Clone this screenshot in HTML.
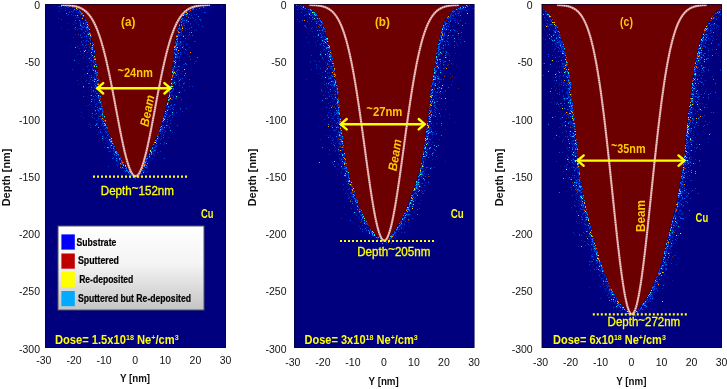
<!DOCTYPE html>
<html><head><meta charset="utf-8"><title>Sputtering simulation</title>
<style>html,body{margin:0;padding:0;background:#fff}svg{display:block}</style></head>
<body>
<svg width="727" height="389" viewBox="0 0 727 389">
<rect width="727" height="389" fill="#fff"/>
<defs><filter id="nb" x="-5%" y="-5%" width="110%" height="110%"><feGaussianBlur stdDeviation="0.35"/></filter><filter id="hz" x="-20%" y="-20%" width="140%" height="140%"><feGaussianBlur stdDeviation="3.5"/></filter></defs>
<g id="panel-a">
<clipPath id="cpa"><rect x="45.0" y="4.0" width="181.0" height="344.0"/></clipPath>
<rect x="45.0" y="4.0" width="181.0" height="344.0" fill="#00007f"/>
<path d="M62.0 4.0 L62.0 4.5 L66.5 5.5 L71.2 6.5 L75.9 7.5 L77.6 8.5 L78.6 9.5 L79.6 10.5 L80.6 11.5 L81.6 12.5 L82.6 13.5 L83.3 14.5 L83.8 15.5 L84.3 16.5 L84.8 17.5 L85.3 18.5 L85.8 19.5 L86.3 20.5 L86.8 21.5 L87.1 22.5 L87.4 23.5 L87.8 24.5 L88.1 25.5 L88.5 26.5 L88.8 27.5 L89.1 28.5 L89.5 29.5 L89.8 30.5 L90.0 31.5 L90.3 32.5 L90.5 33.5 L90.7 34.5 L90.9 35.5 L91.1 36.5 L91.3 37.5 L91.5 38.5 L91.8 39.5 L92.0 40.5 L92.2 41.5 L92.4 42.5 L92.6 43.5 L92.8 44.5 L93.0 45.5 L93.2 46.5 L93.5 47.5 L93.7 48.5 L93.9 49.5 L94.1 50.5 L94.3 51.5 L94.5 52.5 L94.6 53.5 L94.7 54.5 L94.8 55.5 L94.9 56.5 L95.0 57.5 L95.1 58.5 L95.2 59.5 L95.4 60.5 L95.5 61.5 L95.6 62.5 L95.8 63.5 L95.9 64.5 L96.0 65.5 L96.1 66.5 L96.3 67.5 L96.4 68.5 L96.5 69.5 L96.7 70.5 L96.8 71.5 L96.9 72.5 L97.1 73.5 L97.2 74.5 L97.3 75.5 L97.4 76.5 L97.6 77.5 L97.7 78.5 L97.8 79.5 L98.0 80.5 L98.1 81.5 L98.2 82.5 L98.3 83.5 L98.4 84.5 L98.5 85.5 L98.7 86.5 L98.8 87.5 L98.9 88.5 L99.0 89.5 L99.1 90.5 L99.2 91.5 L99.4 92.5 L99.5 93.5 L99.6 94.5 L99.7 95.5 L99.9 96.5 L100.1 97.5 L100.3 98.5 L100.5 99.5 L100.7 100.5 L100.9 101.5 L101.1 102.5 L101.3 103.5 L101.5 104.5 L101.7 105.5 L101.9 106.5 L102.1 107.5 L102.3 108.5 L102.5 109.5 L102.7 110.5 L102.9 111.5 L103.1 112.5 L103.3 113.5 L103.5 114.5 L103.7 115.5 L103.9 116.5 L104.1 117.5 L104.3 118.5 L104.6 119.5 L104.9 120.5 L105.2 121.5 L105.5 122.5 L105.8 123.5 L106.1 124.5 L106.3 125.5 L106.6 126.5 L106.9 127.5 L107.2 128.5 L107.5 129.5 L107.8 130.5 L108.1 131.5 L108.5 132.5 L108.9 133.5 L109.3 134.5 L109.8 135.5 L110.2 136.5 L110.6 137.5 L111.0 138.5 L111.4 139.5 L111.8 140.5 L112.2 141.5 L112.6 142.5 L113.0 143.5 L113.4 144.5 L113.9 145.5 L114.4 146.5 L114.9 147.5 L115.4 148.5 L115.9 149.5 L116.4 150.5 L116.9 151.5 L117.4 152.5 L117.9 153.5 L118.4 154.5 L118.9 155.5 L119.4 156.5 L120.0 157.5 L120.7 158.5 L121.3 159.5 L122.0 160.5 L122.7 161.5 L123.3 162.5 L124.0 163.5 L124.6 164.5 L125.3 165.5 L126.0 166.5 L126.6 167.5 L127.3 168.5 L128.1 169.5 L128.9 170.5 L129.8 171.5 L130.6 172.5 L131.5 173.5 L133.1 174.5 L134.7 175.5 L135.5 175.8 L135.5 175.5 L136.5 174.5 L137.5 173.5 L138.1 172.5 L138.7 171.5 L139.2 170.5 L139.8 169.5 L140.4 168.5 L141.0 167.5 L141.5 166.5 L142.1 165.5 L142.6 164.5 L143.1 163.5 L143.7 162.5 L144.2 161.5 L144.8 160.5 L145.3 159.5 L145.9 158.5 L146.4 157.5 L147.0 156.5 L147.5 155.5 L148.0 154.5 L148.5 153.5 L149.0 152.5 L149.5 151.5 L150.0 150.5 L150.5 149.5 L151.0 148.5 L151.5 147.5 L152.0 146.5 L152.5 145.5 L153.0 144.5 L153.5 143.5 L153.9 142.5 L154.3 141.5 L154.8 140.5 L155.2 139.5 L155.7 138.5 L156.1 137.5 L156.5 136.5 L157.0 135.5 L157.4 134.5 L157.9 133.5 L158.3 132.5 L158.8 131.5 L159.1 130.5 L159.4 129.5 L159.7 128.5 L160.0 127.5 L160.4 126.5 L160.7 125.5 L161.0 124.5 L161.3 123.5 L161.7 122.5 L162.0 121.5 L162.3 120.5 L162.6 119.5 L162.9 118.5 L163.2 117.5 L163.4 116.5 L163.6 115.5 L163.9 114.5 L164.1 113.5 L164.4 112.5 L164.6 111.5 L164.8 110.5 L165.1 109.5 L165.3 108.5 L165.6 107.5 L165.8 106.5 L166.0 105.5 L166.3 104.5 L166.5 103.5 L166.8 102.5 L167.0 101.5 L167.3 100.5 L167.5 99.5 L167.7 98.5 L168.0 97.5 L168.2 96.5 L168.5 95.5 L168.7 94.5 L168.8 93.5 L169.0 92.5 L169.2 91.5 L169.3 90.5 L169.5 89.5 L169.7 88.5 L169.8 87.5 L170.0 86.5 L170.2 85.5 L170.3 84.5 L170.5 83.5 L170.7 82.5 L170.8 81.5 L171.0 80.5 L171.1 79.5 L171.2 78.5 L171.3 77.5 L171.4 76.5 L171.5 75.5 L171.6 74.5 L171.7 73.5 L171.8 72.5 L171.9 71.5 L172.0 70.5 L172.1 69.5 L172.2 68.5 L172.3 67.5 L172.4 66.5 L172.5 65.5 L172.6 64.5 L172.7 63.5 L172.8 62.5 L172.9 61.5 L173.0 60.5 L173.1 59.5 L173.2 58.5 L173.3 57.5 L173.4 56.5 L173.5 55.5 L173.6 54.5 L173.7 53.5 L173.8 52.5 L173.9 51.5 L173.9 50.5 L174.0 49.5 L174.1 48.5 L174.2 47.5 L174.2 46.5 L174.3 45.5 L174.4 44.5 L174.5 43.5 L174.6 42.5 L174.8 41.5 L175.0 40.5 L175.2 39.5 L175.3 38.5 L175.5 37.5 L175.7 36.5 L175.9 35.5 L176.1 34.5 L176.3 33.5 L176.5 32.5 L176.7 31.5 L176.9 30.5 L177.3 29.5 L177.6 28.5 L177.9 27.5 L178.3 26.5 L178.6 25.5 L179.0 24.5 L179.3 23.5 L179.7 22.5 L180.0 21.5 L180.5 20.5 L181.0 19.5 L181.5 18.5 L182.0 17.5 L182.5 16.5 L183.0 15.5 L183.5 14.5 L184.3 13.5 L185.4 12.5 L186.6 11.5 L187.7 10.5 L188.9 9.5 L190.0 8.5 L193.5 7.5 L196.9 6.5 L200.4 5.5 L206.0 4.5 L206.0 4.0Z" fill="none" stroke="#0030e0" stroke-opacity="0.14" stroke-width="12" filter="url(#hz)" clip-path="url(#cpa)"/>
<path d="M62.0 4.0 L62.0 4.5 L66.5 5.5 L71.2 6.5 L75.9 7.5 L77.6 8.5 L78.6 9.5 L79.6 10.5 L80.6 11.5 L81.6 12.5 L82.6 13.5 L83.3 14.5 L83.8 15.5 L84.3 16.5 L84.8 17.5 L85.3 18.5 L85.8 19.5 L86.3 20.5 L86.8 21.5 L87.1 22.5 L87.4 23.5 L87.8 24.5 L88.1 25.5 L88.5 26.5 L88.8 27.5 L89.1 28.5 L89.5 29.5 L89.8 30.5 L90.0 31.5 L90.3 32.5 L90.5 33.5 L90.7 34.5 L90.9 35.5 L91.1 36.5 L91.3 37.5 L91.5 38.5 L91.8 39.5 L92.0 40.5 L92.2 41.5 L92.4 42.5 L92.6 43.5 L92.8 44.5 L93.0 45.5 L93.2 46.5 L93.5 47.5 L93.7 48.5 L93.9 49.5 L94.1 50.5 L94.3 51.5 L94.5 52.5 L94.6 53.5 L94.7 54.5 L94.8 55.5 L94.9 56.5 L95.0 57.5 L95.1 58.5 L95.2 59.5 L95.4 60.5 L95.5 61.5 L95.6 62.5 L95.8 63.5 L95.9 64.5 L96.0 65.5 L96.1 66.5 L96.3 67.5 L96.4 68.5 L96.5 69.5 L96.7 70.5 L96.8 71.5 L96.9 72.5 L97.1 73.5 L97.2 74.5 L97.3 75.5 L97.4 76.5 L97.6 77.5 L97.7 78.5 L97.8 79.5 L98.0 80.5 L98.1 81.5 L98.2 82.5 L98.3 83.5 L98.4 84.5 L98.5 85.5 L98.7 86.5 L98.8 87.5 L98.9 88.5 L99.0 89.5 L99.1 90.5 L99.2 91.5 L99.4 92.5 L99.5 93.5 L99.6 94.5 L99.7 95.5 L99.9 96.5 L100.1 97.5 L100.3 98.5 L100.5 99.5 L100.7 100.5 L100.9 101.5 L101.1 102.5 L101.3 103.5 L101.5 104.5 L101.7 105.5 L101.9 106.5 L102.1 107.5 L102.3 108.5 L102.5 109.5 L102.7 110.5 L102.9 111.5 L103.1 112.5 L103.3 113.5 L103.5 114.5 L103.7 115.5 L103.9 116.5 L104.1 117.5 L104.3 118.5 L104.6 119.5 L104.9 120.5 L105.2 121.5 L105.5 122.5 L105.8 123.5 L106.1 124.5 L106.3 125.5 L106.6 126.5 L106.9 127.5 L107.2 128.5 L107.5 129.5 L107.8 130.5 L108.1 131.5 L108.5 132.5 L108.9 133.5 L109.3 134.5 L109.8 135.5 L110.2 136.5 L110.6 137.5 L111.0 138.5 L111.4 139.5 L111.8 140.5 L112.2 141.5 L112.6 142.5 L113.0 143.5 L113.4 144.5 L113.9 145.5 L114.4 146.5 L114.9 147.5 L115.4 148.5 L115.9 149.5 L116.4 150.5 L116.9 151.5 L117.4 152.5 L117.9 153.5 L118.4 154.5 L118.9 155.5 L119.4 156.5 L120.0 157.5 L120.7 158.5 L121.3 159.5 L122.0 160.5 L122.7 161.5 L123.3 162.5 L124.0 163.5 L124.6 164.5 L125.3 165.5 L126.0 166.5 L126.6 167.5 L127.3 168.5 L128.1 169.5 L128.9 170.5 L129.8 171.5 L130.6 172.5 L131.5 173.5 L133.1 174.5 L134.7 175.5 L135.5 175.8 L135.5 175.5 L136.5 174.5 L137.5 173.5 L138.1 172.5 L138.7 171.5 L139.2 170.5 L139.8 169.5 L140.4 168.5 L141.0 167.5 L141.5 166.5 L142.1 165.5 L142.6 164.5 L143.1 163.5 L143.7 162.5 L144.2 161.5 L144.8 160.5 L145.3 159.5 L145.9 158.5 L146.4 157.5 L147.0 156.5 L147.5 155.5 L148.0 154.5 L148.5 153.5 L149.0 152.5 L149.5 151.5 L150.0 150.5 L150.5 149.5 L151.0 148.5 L151.5 147.5 L152.0 146.5 L152.5 145.5 L153.0 144.5 L153.5 143.5 L153.9 142.5 L154.3 141.5 L154.8 140.5 L155.2 139.5 L155.7 138.5 L156.1 137.5 L156.5 136.5 L157.0 135.5 L157.4 134.5 L157.9 133.5 L158.3 132.5 L158.8 131.5 L159.1 130.5 L159.4 129.5 L159.7 128.5 L160.0 127.5 L160.4 126.5 L160.7 125.5 L161.0 124.5 L161.3 123.5 L161.7 122.5 L162.0 121.5 L162.3 120.5 L162.6 119.5 L162.9 118.5 L163.2 117.5 L163.4 116.5 L163.6 115.5 L163.9 114.5 L164.1 113.5 L164.4 112.5 L164.6 111.5 L164.8 110.5 L165.1 109.5 L165.3 108.5 L165.6 107.5 L165.8 106.5 L166.0 105.5 L166.3 104.5 L166.5 103.5 L166.8 102.5 L167.0 101.5 L167.3 100.5 L167.5 99.5 L167.7 98.5 L168.0 97.5 L168.2 96.5 L168.5 95.5 L168.7 94.5 L168.8 93.5 L169.0 92.5 L169.2 91.5 L169.3 90.5 L169.5 89.5 L169.7 88.5 L169.8 87.5 L170.0 86.5 L170.2 85.5 L170.3 84.5 L170.5 83.5 L170.7 82.5 L170.8 81.5 L171.0 80.5 L171.1 79.5 L171.2 78.5 L171.3 77.5 L171.4 76.5 L171.5 75.5 L171.6 74.5 L171.7 73.5 L171.8 72.5 L171.9 71.5 L172.0 70.5 L172.1 69.5 L172.2 68.5 L172.3 67.5 L172.4 66.5 L172.5 65.5 L172.6 64.5 L172.7 63.5 L172.8 62.5 L172.9 61.5 L173.0 60.5 L173.1 59.5 L173.2 58.5 L173.3 57.5 L173.4 56.5 L173.5 55.5 L173.6 54.5 L173.7 53.5 L173.8 52.5 L173.9 51.5 L173.9 50.5 L174.0 49.5 L174.1 48.5 L174.2 47.5 L174.2 46.5 L174.3 45.5 L174.4 44.5 L174.5 43.5 L174.6 42.5 L174.8 41.5 L175.0 40.5 L175.2 39.5 L175.3 38.5 L175.5 37.5 L175.7 36.5 L175.9 35.5 L176.1 34.5 L176.3 33.5 L176.5 32.5 L176.7 31.5 L176.9 30.5 L177.3 29.5 L177.6 28.5 L177.9 27.5 L178.3 26.5 L178.6 25.5 L179.0 24.5 L179.3 23.5 L179.7 22.5 L180.0 21.5 L180.5 20.5 L181.0 19.5 L181.5 18.5 L182.0 17.5 L182.5 16.5 L183.0 15.5 L183.5 14.5 L184.3 13.5 L185.4 12.5 L186.6 11.5 L187.7 10.5 L188.9 9.5 L190.0 8.5 L193.5 7.5 L196.9 6.5 L200.4 5.5 L206.0 4.5 L206.0 4.0Z" fill="#6c0000"/>
<g filter="url(#nb)">
<path fill="#00a8ff" d="M66 13h1v1h-1zM74 9h1v1h-1zM78 12h1v1h-1zM80 25h1v1h-1zM89 34h1v1h-1zM91 36h1v1h-1zM93 65h1v1h-1zM94 79h1v1h-1zM95 62h1v1h-1zM95 110h1v1h-1zM100 101h1v1h-1zM101 109h1v1h-1zM102 138h1v1h-1zM113 148h1v1h-1zM117 153h1v1h-1zM124 170h1v1h-1zM126 170h1v1h-1zM135 176h1v1h-1zM146 165h1v1h-1zM164 115h1v1h-1zM164 127h1v1h-1zM170 130h1v1h-1zM176 45h1v1h-1zM178 53h1v1h-1zM179 80h1v1h-1zM182 20h1v1h-1zM182 21h1v1h-1zM185 73h1v1h-1zM186 20h1v1h-1zM188 17h1v1h-1zM190 24h1v1h-1z"/>
<path fill="#0028c0" d="M58 6h1v1h-1zM59 11h1v1h-1zM67 15h1v1h-1zM72 12h1v1h-1zM73 11h1v1h-1zM73 37h1v1h-1zM75 34h1v1h-1zM77 80h1v1h-1zM80 28h1v1h-1zM81 13h1v1h-1zM81 18h1v1h-1zM82 14h1v1h-1zM82 26h1v1h-1zM82 27h1v1h-1zM82 29h1v1h-1zM82 37h1v1h-1zM83 25h1v1h-1zM83 32h1v1h-1zM83 53h1v1h-1zM83 118h1v1h-1zM84 36h1v1h-1zM84 74h1v1h-1zM85 22h1v1h-1zM85 41h1v1h-1zM86 22h1v1h-1zM86 25h1v1h-1zM86 27h1v1h-1zM86 56h1v1h-1zM87 33h1v1h-1zM88 32h1v1h-1zM89 62h1v1h-1zM89 69h1v1h-1zM89 81h1v1h-1zM90 83h1v1h-1zM90 95h1v1h-1zM90 125h1v1h-1zM91 47h1v1h-1zM91 56h1v1h-1zM91 59h1v1h-1zM91 86h1v1h-1zM91 87h1v1h-1zM91 89h1v1h-1zM91 92h1v1h-1zM92 55h1v1h-1zM92 68h1v1h-1zM93 66h1v1h-1zM93 67h1v1h-1zM93 77h1v1h-1zM93 90h1v1h-1zM94 51h1v1h-1zM94 69h1v1h-1zM94 73h1v1h-1zM94 76h1v1h-1zM94 77h1v1h-1zM94 84h1v1h-1zM94 100h1v1h-1zM94 102h1v1h-1zM94 109h1v1h-1zM95 64h1v1h-1zM95 83h1v1h-1zM96 76h1v1h-1zM98 95h1v1h-1zM98 97h1v1h-1zM99 102h1v1h-1zM99 106h1v1h-1zM100 115h1v1h-1zM100 118h1v1h-1zM101 112h1v1h-1zM101 114h1v1h-1zM101 125h1v1h-1zM102 115h1v1h-1zM102 117h1v1h-1zM102 119h1v1h-1zM102 122h1v1h-1zM103 123h1v1h-1zM103 125h1v1h-1zM104 120h1v1h-1zM104 123h1v1h-1zM104 124h1v1h-1zM105 127h1v1h-1zM107 131h1v1h-1zM107 133h1v1h-1zM108 144h1v1h-1zM109 140h1v1h-1zM111 143h1v1h-1zM112 145h1v1h-1zM113 151h1v1h-1zM113 153h1v1h-1zM113 157h1v1h-1zM114 150h1v1h-1zM116 156h1v1h-1zM117 153h1v1h-1zM117 161h1v1h-1zM118 163h1v1h-1zM119 160h1v1h-1zM121 163h1v1h-1zM122 162h1v1h-1zM124 170h1v1h-1zM130 177h1v1h-1zM138 177h1v1h-1zM139 177h1v1h-1zM143 172h1v1h-1zM144 164h1v1h-1zM144 167h1v1h-1zM144 170h1v1h-1zM145 163h1v1h-1zM146 160h1v1h-1zM147 158h1v1h-1zM148 161h1v1h-1zM149 153h1v1h-1zM152 153h1v1h-1zM153 154h1v1h-1zM154 144h1v1h-1zM155 145h1v1h-1zM155 147h1v1h-1zM156 145h1v1h-1zM157 139h1v1h-1zM163 122h1v1h-1zM166 111h1v1h-1zM167 107h1v1h-1zM167 117h1v1h-1zM168 103h1v1h-1zM168 106h1v1h-1zM168 125h1v1h-1zM169 116h1v1h-1zM172 78h1v1h-1zM172 83h1v1h-1zM172 91h1v1h-1zM172 117h1v1h-1zM173 67h1v1h-1zM173 81h1v1h-1zM174 65h1v1h-1zM174 67h1v1h-1zM174 71h1v1h-1zM175 45h1v1h-1zM175 48h1v1h-1zM175 50h1v1h-1zM175 56h1v1h-1zM175 74h1v1h-1zM176 61h1v1h-1zM176 74h1v1h-1zM177 51h1v1h-1zM177 72h1v1h-1zM177 74h1v1h-1zM178 33h1v1h-1zM178 56h1v1h-1zM178 92h1v1h-1zM179 32h1v1h-1zM179 43h1v1h-1zM179 58h1v1h-1zM179 70h1v1h-1zM179 83h1v1h-1zM180 28h1v1h-1zM180 34h1v1h-1zM180 38h1v1h-1zM180 41h1v1h-1zM180 97h1v1h-1zM181 35h1v1h-1zM181 73h1v1h-1zM182 20h1v1h-1zM182 67h1v1h-1zM182 71h1v1h-1zM183 24h1v1h-1zM183 44h1v1h-1zM183 64h1v1h-1zM183 84h1v1h-1zM184 23h1v1h-1zM184 27h1v1h-1zM184 64h1v1h-1zM184 82h1v1h-1zM185 18h1v1h-1zM185 28h1v1h-1zM185 30h1v1h-1zM185 35h1v1h-1zM186 22h1v1h-1zM186 50h1v1h-1zM187 29h1v1h-1zM187 44h1v1h-1zM188 35h1v1h-1zM189 47h1v1h-1zM190 24h1v1h-1zM191 26h1v1h-1zM191 30h1v1h-1zM195 41h1v1h-1zM195 61h1v1h-1zM196 22h1v1h-1zM196 61h1v1h-1z"/>
<path fill="#0038d8" d="M61 19h1v1h-1zM66 6h1v1h-1zM68 7h1v1h-1zM71 14h1v1h-1zM72 69h1v1h-1zM73 10h1v1h-1zM73 11h1v1h-1zM75 29h1v1h-1zM76 10h1v1h-1zM76 23h1v1h-1zM77 29h1v1h-1zM77 46h1v1h-1zM78 17h1v1h-1zM80 23h1v1h-1zM80 34h1v1h-1zM81 26h1v1h-1zM81 41h1v1h-1zM83 40h1v1h-1zM83 57h1v1h-1zM84 47h1v1h-1zM85 23h1v1h-1zM85 31h1v1h-1zM86 36h1v1h-1zM86 47h1v1h-1zM87 34h1v1h-1zM87 52h1v1h-1zM90 40h1v1h-1zM90 57h1v1h-1zM90 60h1v1h-1zM92 99h1v1h-1zM92 115h1v1h-1zM92 117h1v1h-1zM93 91h1v1h-1zM96 73h1v1h-1zM96 74h1v1h-1zM96 89h1v1h-1zM96 120h1v1h-1zM97 93h1v1h-1zM97 107h1v1h-1zM98 90h1v1h-1zM98 102h1v1h-1zM98 118h1v1h-1zM98 127h1v1h-1zM99 98h1v1h-1zM99 99h1v1h-1zM100 129h1v1h-1zM101 118h1v1h-1zM102 114h1v1h-1zM103 126h1v1h-1zM104 121h1v1h-1zM104 123h1v1h-1zM107 140h1v1h-1zM108 148h1v1h-1zM108 166h1v1h-1zM109 139h1v1h-1zM110 139h1v1h-1zM110 151h1v1h-1zM111 148h1v1h-1zM113 144h1v1h-1zM116 153h1v1h-1zM119 158h1v1h-1zM119 159h1v1h-1zM121 161h1v1h-1zM121 168h1v1h-1zM123 168h1v1h-1zM130 172h1v1h-1zM130 174h1v1h-1zM131 175h1v1h-1zM132 175h1v1h-1zM132 176h1v1h-1zM135 177h1v1h-1zM136 176h1v1h-1zM137 176h1v1h-1zM140 172h1v1h-1zM147 171h1v1h-1zM151 152h1v1h-1zM152 147h1v1h-1zM153 151h1v1h-1zM153 153h1v1h-1zM154 155h1v1h-1zM156 145h1v1h-1zM156 146h1v1h-1zM157 138h1v1h-1zM157 152h1v1h-1zM160 133h1v1h-1zM160 139h1v1h-1zM160 143h1v1h-1zM160 151h1v1h-1zM162 131h1v1h-1zM163 135h1v1h-1zM164 132h1v1h-1zM165 131h1v1h-1zM167 125h1v1h-1zM168 109h1v1h-1zM169 99h1v1h-1zM169 116h1v1h-1zM170 109h1v1h-1zM170 120h1v1h-1zM171 88h1v1h-1zM171 95h1v1h-1zM172 88h1v1h-1zM172 95h1v1h-1zM172 99h1v1h-1zM173 86h1v1h-1zM173 107h1v1h-1zM174 61h1v1h-1zM175 64h1v1h-1zM176 48h1v1h-1zM176 57h1v1h-1zM176 74h1v1h-1zM176 112h1v1h-1zM177 39h1v1h-1zM177 40h1v1h-1zM178 29h1v1h-1zM178 81h1v1h-1zM179 50h1v1h-1zM179 56h1v1h-1zM179 85h1v1h-1zM180 32h1v1h-1zM181 31h1v1h-1zM181 33h1v1h-1zM182 20h1v1h-1zM182 111h1v1h-1zM183 46h1v1h-1zM184 27h1v1h-1zM184 90h1v1h-1zM186 44h1v1h-1zM189 28h1v1h-1zM189 56h1v1h-1zM189 86h1v1h-1zM190 23h1v1h-1zM191 15h1v1h-1zM191 27h1v1h-1zM192 9h1v1h-1zM192 17h1v1h-1zM192 86h1v1h-1zM193 9h1v1h-1zM195 19h1v1h-1zM197 7h1v1h-1zM200 19h1v1h-1zM200 20h1v1h-1z"/>
<path fill="#0030a8" d="M54 5h1v1h-1zM58 18h1v1h-1zM61 6h1v1h-1zM65 10h1v1h-1zM67 29h1v1h-1zM71 11h1v1h-1zM73 15h1v1h-1zM73 24h1v1h-1zM74 28h1v1h-1zM75 9h1v1h-1zM79 28h1v1h-1zM79 48h1v1h-1zM80 22h1v1h-1zM81 42h1v1h-1zM83 22h1v1h-1zM83 69h1v1h-1zM84 33h1v1h-1zM86 44h1v1h-1zM86 47h1v1h-1zM86 80h1v1h-1zM86 105h1v1h-1zM87 30h1v1h-1zM88 27h1v1h-1zM88 58h1v1h-1zM88 70h1v1h-1zM89 38h1v1h-1zM89 46h1v1h-1zM89 75h1v1h-1zM89 77h1v1h-1zM89 124h1v1h-1zM90 43h1v1h-1zM90 127h1v1h-1zM91 59h1v1h-1zM91 64h1v1h-1zM91 65h1v1h-1zM91 91h1v1h-1zM93 60h1v1h-1zM93 65h1v1h-1zM94 63h1v1h-1zM94 73h1v1h-1zM94 118h1v1h-1zM95 85h1v1h-1zM95 104h1v1h-1zM96 77h1v1h-1zM96 81h1v1h-1zM96 82h1v1h-1zM96 96h1v1h-1zM96 104h1v1h-1zM96 123h1v1h-1zM98 116h1v1h-1zM99 95h1v1h-1zM101 109h1v1h-1zM101 115h1v1h-1zM101 121h1v1h-1zM101 132h1v1h-1zM102 124h1v1h-1zM103 118h1v1h-1zM103 119h1v1h-1zM105 131h1v1h-1zM105 138h1v1h-1zM106 137h1v1h-1zM109 151h1v1h-1zM110 146h1v1h-1zM113 147h1v1h-1zM126 169h1v1h-1zM128 171h1v1h-1zM135 176h1v1h-1zM137 175h1v1h-1zM142 171h1v1h-1zM143 170h1v1h-1zM144 167h1v1h-1zM147 166h1v1h-1zM149 155h1v1h-1zM152 147h1v1h-1zM155 142h1v1h-1zM156 139h1v1h-1zM157 138h1v1h-1zM158 136h1v1h-1zM161 128h1v1h-1zM161 138h1v1h-1zM162 133h1v1h-1zM163 125h1v1h-1zM164 118h1v1h-1zM164 142h1v1h-1zM164 143h1v1h-1zM166 109h1v1h-1zM168 103h1v1h-1zM168 137h1v1h-1zM170 105h1v1h-1zM171 91h1v1h-1zM171 95h1v1h-1zM171 99h1v1h-1zM173 69h1v1h-1zM173 71h1v1h-1zM173 72h1v1h-1zM173 83h1v1h-1zM173 96h1v1h-1zM173 109h1v1h-1zM174 80h1v1h-1zM175 43h1v1h-1zM175 53h1v1h-1zM175 98h1v1h-1zM176 50h1v1h-1zM176 54h1v1h-1zM176 97h1v1h-1zM177 42h1v1h-1zM178 32h1v1h-1zM178 44h1v1h-1zM178 74h1v1h-1zM179 46h1v1h-1zM179 60h1v1h-1zM180 45h1v1h-1zM180 109h1v1h-1zM181 29h1v1h-1zM183 20h1v1h-1zM183 41h1v1h-1zM187 14h1v1h-1zM187 19h1v1h-1zM187 54h1v1h-1zM194 63h1v1h-1zM196 9h1v1h-1zM198 24h1v1h-1zM199 19h1v1h-1zM201 6h1v1h-1z"/>
<path fill="#0048f0" d="M59 6h1v1h-1zM68 14h1v1h-1zM69 12h1v1h-1zM72 7h1v1h-1zM75 15h1v1h-1zM78 12h1v1h-1zM80 35h1v1h-1zM83 87h1v1h-1zM83 96h1v1h-1zM84 26h1v1h-1zM84 33h1v1h-1zM85 45h1v1h-1zM86 22h1v1h-1zM86 28h1v1h-1zM86 36h1v1h-1zM86 40h1v1h-1zM87 66h1v1h-1zM88 41h1v1h-1zM88 83h1v1h-1zM89 69h1v1h-1zM89 83h1v1h-1zM90 37h1v1h-1zM90 79h1v1h-1zM91 48h1v1h-1zM91 60h1v1h-1zM91 75h1v1h-1zM92 69h1v1h-1zM92 80h1v1h-1zM93 96h1v1h-1zM95 83h1v1h-1zM95 86h1v1h-1zM95 91h1v1h-1zM95 95h1v1h-1zM95 106h1v1h-1zM96 72h1v1h-1zM96 86h1v1h-1zM96 88h1v1h-1zM97 74h1v1h-1zM97 80h1v1h-1zM97 88h1v1h-1zM97 109h1v1h-1zM97 123h1v1h-1zM98 98h1v1h-1zM100 116h1v1h-1zM100 132h1v1h-1zM101 119h1v1h-1zM105 125h1v1h-1zM105 128h1v1h-1zM110 142h1v1h-1zM112 158h1v1h-1zM113 150h1v1h-1zM117 152h1v1h-1zM117 165h1v1h-1zM130 173h1v1h-1zM135 178h1v1h-1zM140 173h1v1h-1zM145 165h1v1h-1zM145 167h1v1h-1zM150 153h1v1h-1zM156 145h1v1h-1zM160 130h1v1h-1zM162 127h1v1h-1zM163 137h1v1h-1zM164 158h1v1h-1zM167 121h1v1h-1zM169 127h1v1h-1zM170 115h1v1h-1zM170 123h1v1h-1zM171 99h1v1h-1zM172 82h1v1h-1zM172 108h1v1h-1zM172 114h1v1h-1zM173 68h1v1h-1zM173 75h1v1h-1zM173 88h1v1h-1zM173 89h1v1h-1zM175 47h1v1h-1zM176 48h1v1h-1zM176 71h1v1h-1zM176 75h1v1h-1zM177 39h1v1h-1zM177 44h1v1h-1zM177 52h1v1h-1zM177 125h1v1h-1zM178 78h1v1h-1zM179 66h1v1h-1zM180 29h1v1h-1zM180 54h1v1h-1zM180 108h1v1h-1zM181 99h1v1h-1zM182 78h1v1h-1zM182 87h1v1h-1zM183 23h1v1h-1zM183 36h1v1h-1zM183 83h1v1h-1zM184 20h1v1h-1zM184 25h1v1h-1zM186 64h1v1h-1zM186 108h1v1h-1zM189 14h1v1h-1zM189 32h1v1h-1zM189 34h1v1h-1zM189 79h1v1h-1zM190 59h1v1h-1zM191 8h1v1h-1zM196 14h1v1h-1zM202 26h1v1h-1z"/>
<path fill="#0020b0" d="M61 8h1v1h-1zM61 27h1v1h-1zM65 8h1v1h-1zM67 7h1v1h-1zM67 23h1v1h-1zM69 11h1v1h-1zM70 46h1v1h-1zM74 22h1v1h-1zM76 17h1v1h-1zM77 16h1v1h-1zM77 54h1v1h-1zM78 63h1v1h-1zM79 13h1v1h-1zM79 22h1v1h-1zM80 15h1v1h-1zM80 21h1v1h-1zM80 51h1v1h-1zM81 25h1v1h-1zM81 28h1v1h-1zM81 116h1v1h-1zM83 15h1v1h-1zM83 23h1v1h-1zM83 25h1v1h-1zM83 53h1v1h-1zM83 91h1v1h-1zM85 24h1v1h-1zM85 81h1v1h-1zM86 29h1v1h-1zM87 38h1v1h-1zM88 36h1v1h-1zM88 50h1v1h-1zM88 87h1v1h-1zM89 42h1v1h-1zM89 47h1v1h-1zM89 59h1v1h-1zM89 104h1v1h-1zM90 45h1v1h-1zM91 54h1v1h-1zM91 61h1v1h-1zM91 99h1v1h-1zM91 105h1v1h-1zM92 46h1v1h-1zM92 48h1v1h-1zM92 49h1v1h-1zM92 50h1v1h-1zM92 51h1v1h-1zM92 61h1v1h-1zM93 48h1v1h-1zM93 51h1v1h-1zM94 77h1v1h-1zM94 109h1v1h-1zM95 73h1v1h-1zM96 78h1v1h-1zM96 103h1v1h-1zM96 104h1v1h-1zM97 134h1v1h-1zM98 90h1v1h-1zM98 96h1v1h-1zM98 98h1v1h-1zM98 132h1v1h-1zM99 93h1v1h-1zM99 108h1v1h-1zM99 130h1v1h-1zM100 131h1v1h-1zM102 108h1v1h-1zM102 116h1v1h-1zM103 118h1v1h-1zM105 132h1v1h-1zM105 143h1v1h-1zM106 130h1v1h-1zM107 138h1v1h-1zM108 142h1v1h-1zM108 151h1v1h-1zM109 136h1v1h-1zM109 139h1v1h-1zM110 140h1v1h-1zM110 147h1v1h-1zM114 150h1v1h-1zM116 152h1v1h-1zM116 164h1v1h-1zM117 158h1v1h-1zM118 155h1v1h-1zM118 156h1v1h-1zM119 159h1v1h-1zM130 173h1v1h-1zM132 177h1v1h-1zM133 177h1v1h-1zM134 175h1v1h-1zM134 176h1v1h-1zM135 176h1v1h-1zM135 177h1v1h-1zM141 169h1v1h-1zM141 173h1v1h-1zM142 168h1v1h-1zM146 172h1v1h-1zM150 153h1v1h-1zM150 158h1v1h-1zM151 152h1v1h-1zM152 158h1v1h-1zM154 144h1v1h-1zM155 146h1v1h-1zM158 136h1v1h-1zM159 137h1v1h-1zM161 136h1v1h-1zM162 129h1v1h-1zM163 134h1v1h-1zM163 144h1v1h-1zM165 121h1v1h-1zM166 127h1v1h-1zM167 109h1v1h-1zM167 114h1v1h-1zM167 122h1v1h-1zM168 115h1v1h-1zM168 117h1v1h-1zM169 128h1v1h-1zM170 107h1v1h-1zM171 104h1v1h-1zM171 105h1v1h-1zM172 90h1v1h-1zM172 132h1v1h-1zM174 71h1v1h-1zM174 75h1v1h-1zM174 82h1v1h-1zM175 77h1v1h-1zM176 44h1v1h-1zM176 51h1v1h-1zM176 56h1v1h-1zM176 98h1v1h-1zM177 31h1v1h-1zM177 44h1v1h-1zM178 29h1v1h-1zM178 35h1v1h-1zM178 43h1v1h-1zM178 74h1v1h-1zM179 28h1v1h-1zM179 48h1v1h-1zM179 56h1v1h-1zM179 57h1v1h-1zM180 48h1v1h-1zM181 25h1v1h-1zM181 30h1v1h-1zM181 32h1v1h-1zM181 35h1v1h-1zM181 41h1v1h-1zM181 44h1v1h-1zM183 48h1v1h-1zM184 27h1v1h-1zM184 52h1v1h-1zM186 13h1v1h-1zM186 16h1v1h-1zM187 16h1v1h-1zM190 18h1v1h-1zM193 18h1v1h-1zM193 25h1v1h-1zM194 14h1v1h-1zM194 20h1v1h-1zM194 30h1v1h-1zM196 29h1v1h-1zM196 30h1v1h-1zM200 7h1v1h-1zM201 6h1v1h-1zM204 6h1v1h-1zM205 12h1v1h-1z"/>
<path fill="#ffd800" d="M84 51h1v1h-1zM87 73h1v1h-1zM88 44h1v1h-1zM91 52h1v1h-1zM94 81h1v1h-1zM170 98h1v1h-1zM177 47h1v1h-1zM182 28h1v1h-1zM191 13h1v1h-1z"/>
<path fill="#7a3010" d="M80 14h1v1h-1zM80 51h1v1h-1zM83 27h1v1h-1zM85 24h1v1h-1zM90 44h1v1h-1zM94 58h1v1h-1zM94 87h1v1h-1zM97 83h1v1h-1zM99 116h1v1h-1zM100 116h1v1h-1zM100 131h1v1h-1zM102 123h1v1h-1zM120 164h1v1h-1zM121 164h1v1h-1zM137 176h1v1h-1zM139 175h1v1h-1zM154 147h1v1h-1zM155 150h1v1h-1zM168 102h1v1h-1zM169 99h1v1h-1zM173 97h1v1h-1zM174 71h1v1h-1zM175 62h1v1h-1zM175 84h1v1h-1zM176 44h1v1h-1zM178 35h1v1h-1zM179 35h1v1h-1zM182 26h1v1h-1zM182 27h1v1h-1zM182 30h1v1h-1zM186 16h1v1h-1zM194 41h1v1h-1z"/>
<path fill="#582030" d="M78 34h1v1h-1zM82 27h1v1h-1zM83 50h1v1h-1zM86 35h1v1h-1zM88 44h1v1h-1zM89 69h1v1h-1zM89 81h1v1h-1zM90 36h1v1h-1zM90 38h1v1h-1zM90 42h1v1h-1zM90 48h1v1h-1zM91 54h1v1h-1zM93 80h1v1h-1zM94 99h1v1h-1zM95 86h1v1h-1zM95 111h1v1h-1zM95 114h1v1h-1zM96 76h1v1h-1zM98 95h1v1h-1zM104 147h1v1h-1zM110 145h1v1h-1zM115 152h1v1h-1zM120 166h1v1h-1zM126 168h1v1h-1zM135 176h1v1h-1zM137 177h1v1h-1zM140 176h1v1h-1zM142 168h1v1h-1zM145 164h1v1h-1zM158 139h1v1h-1zM163 118h1v1h-1zM163 129h1v1h-1zM168 100h1v1h-1zM169 93h1v1h-1zM172 74h1v1h-1zM178 69h1v1h-1zM183 35h1v1h-1zM184 83h1v1h-1zM221 6h1v1h-1z"/>
<path fill="#00d0ff" d="M75 47h1v1h-1zM83 23h1v1h-1zM83 86h1v1h-1zM85 50h1v1h-1zM87 27h1v1h-1zM89 33h1v1h-1zM91 95h1v1h-1zM91 101h1v1h-1zM98 127h1v1h-1zM100 99h1v1h-1zM102 114h1v1h-1zM105 124h1v1h-1zM107 147h1v1h-1zM120 163h1v1h-1zM122 167h1v1h-1zM145 162h1v1h-1zM147 163h1v1h-1zM160 131h1v1h-1zM166 125h1v1h-1zM172 112h1v1h-1zM174 82h1v1h-1zM175 73h1v1h-1zM177 36h1v1h-1zM179 92h1v1h-1zM182 47h1v1h-1zM185 14h1v1h-1zM186 14h1v1h-1zM188 21h1v1h-1z"/>
<path fill="#0058ff" d="M75 20h1v1h-1zM80 24h1v1h-1zM81 29h1v1h-1zM81 37h1v1h-1zM82 44h1v1h-1zM83 16h1v1h-1zM85 31h1v1h-1zM89 38h1v1h-1zM91 49h1v1h-1zM91 87h1v1h-1zM92 55h1v1h-1zM93 62h1v1h-1zM94 78h1v1h-1zM95 85h1v1h-1zM96 93h1v1h-1zM96 113h1v1h-1zM97 107h1v1h-1zM98 96h1v1h-1zM98 97h1v1h-1zM98 110h1v1h-1zM100 109h1v1h-1zM102 120h1v1h-1zM103 119h1v1h-1zM106 132h1v1h-1zM117 154h1v1h-1zM119 159h1v1h-1zM120 158h1v1h-1zM121 162h1v1h-1zM125 168h1v1h-1zM125 171h1v1h-1zM126 168h1v1h-1zM136 176h1v1h-1zM141 173h1v1h-1zM146 167h1v1h-1zM156 140h1v1h-1zM156 141h1v1h-1zM160 130h1v1h-1zM164 116h1v1h-1zM165 118h1v1h-1zM167 119h1v1h-1zM171 105h1v1h-1zM172 84h1v1h-1zM174 63h1v1h-1zM174 104h1v1h-1zM176 42h1v1h-1zM176 50h1v1h-1zM177 57h1v1h-1zM177 70h1v1h-1zM180 29h1v1h-1zM180 41h1v1h-1zM180 52h1v1h-1zM180 79h1v1h-1zM183 46h1v1h-1zM185 38h1v1h-1zM185 49h1v1h-1zM186 12h1v1h-1zM192 35h1v1h-1zM199 8h1v1h-1zM203 6h1v1h-1zM204 5h1v1h-1zM204 12h1v1h-1z"/>
<path fill="#0080ff" d="M61 6h1v1h-1zM74 60h1v1h-1zM75 27h1v1h-1zM79 20h1v1h-1zM83 15h1v1h-1zM86 27h1v1h-1zM89 58h1v1h-1zM91 77h1v1h-1zM91 99h1v1h-1zM92 113h1v1h-1zM93 57h1v1h-1zM93 90h1v1h-1zM95 125h1v1h-1zM96 124h1v1h-1zM97 89h1v1h-1zM99 108h1v1h-1zM102 136h1v1h-1zM108 147h1v1h-1zM114 154h1v1h-1zM116 155h1v1h-1zM116 158h1v1h-1zM116 160h1v1h-1zM119 159h1v1h-1zM120 167h1v1h-1zM121 160h1v1h-1zM123 164h1v1h-1zM134 176h1v1h-1zM151 151h1v1h-1zM151 153h1v1h-1zM151 154h1v1h-1zM154 150h1v1h-1zM166 143h1v1h-1zM175 56h1v1h-1zM178 66h1v1h-1zM180 42h1v1h-1zM181 24h1v1h-1zM182 27h1v1h-1zM184 75h1v1h-1zM185 63h1v1h-1zM197 57h1v1h-1zM198 16h1v1h-1zM203 7h1v1h-1z"/>
<path fill="#ff9000" d="M82 18h1v1h-1zM92 49h1v1h-1zM92 55h1v1h-1zM93 70h1v1h-1zM95 71h1v1h-1zM95 79h1v1h-1zM97 84h1v1h-1zM100 109h1v1h-1zM104 125h1v1h-1zM145 162h1v1h-1zM173 73h1v1h-1zM174 61h1v1h-1zM175 46h1v1h-1zM175 62h1v1h-1zM178 50h1v1h-1zM185 14h1v1h-1zM190 52h1v1h-1zM191 32h1v1h-1z"/>
<path fill="#40ffb0" d="M77 15h1v1h-1zM104 123h1v1h-1zM123 165h1v1h-1zM143 172h1v1h-1zM175 43h1v1h-1zM176 96h1v1h-1zM183 36h1v1h-1zM184 69h1v1h-1zM209 5h1v1h-1z"/>
<path fill="#30186a" d="M68 12h1v1h-1zM77 17h1v1h-1zM78 35h1v1h-1zM78 84h1v1h-1zM81 112h1v1h-1zM83 45h1v1h-1zM84 55h1v1h-1zM88 33h1v1h-1zM88 65h1v1h-1zM90 42h1v1h-1zM92 115h1v1h-1zM94 57h1v1h-1zM98 87h1v1h-1zM102 112h1v1h-1zM104 129h1v1h-1zM105 127h1v1h-1zM113 158h1v1h-1zM129 172h1v1h-1zM136 176h1v1h-1zM147 167h1v1h-1zM147 168h1v1h-1zM149 156h1v1h-1zM164 130h1v1h-1zM169 100h1v1h-1zM169 115h1v1h-1zM170 97h1v1h-1zM170 102h1v1h-1zM175 72h1v1h-1zM175 95h1v1h-1zM176 67h1v1h-1zM177 41h1v1h-1zM177 56h1v1h-1zM178 76h1v1h-1zM183 25h1v1h-1zM184 29h1v1h-1zM188 39h1v1h-1zM191 13h1v1h-1zM192 9h1v1h-1z"/>
<path fill="#ffe000" d="M76 8h1v1h-1zM87 24h1v1h-1zM90 35h1v1h-1zM94 66h1v1h-1zM98 87h1v1h-1zM98 95h1v1h-1zM111 141h1v1h-1zM125 165h1v1h-1zM155 142h1v1h-1zM164 119h1v1h-1zM171 79h1v1h-1zM171 83h1v1h-1zM171 86h1v1h-1zM174 72h1v1h-1zM175 62h1v1h-1zM183 15h1v1h-1zM203 5h1v1h-1z"/>
<path fill="#0090ff" d="M69 6h1v1h-1zM82 13h1v1h-1zM86 27h1v1h-1zM95 70h1v1h-1zM97 72h1v1h-1zM100 96h1v1h-1zM100 108h1v1h-1zM100 109h1v1h-1zM102 113h1v1h-1zM109 140h1v1h-1zM110 139h1v1h-1zM116 151h1v1h-1zM118 154h1v1h-1zM128 172h1v1h-1zM144 166h1v1h-1zM147 158h1v1h-1zM155 140h1v1h-1zM156 143h1v1h-1zM157 136h1v1h-1zM160 127h1v1h-1zM162 121h1v1h-1zM165 113h1v1h-1zM168 106h1v1h-1zM169 91h1v1h-1zM169 94h1v1h-1zM170 86h1v1h-1zM172 75h1v1h-1zM173 72h1v1h-1zM175 60h1v1h-1zM176 44h1v1h-1zM176 54h1v1h-1zM177 38h1v1h-1zM178 31h1v1h-1zM181 25h1v1h-1zM182 18h1v1h-1zM193 8h1v1h-1zM199 6h1v1h-1z"/>
<path fill="#0040e8" d="M73 7h1v1h-1zM79 11h1v1h-1zM81 12h1v1h-1zM82 15h1v1h-1zM86 21h1v1h-1zM89 32h1v1h-1zM89 34h1v1h-1zM90 37h1v1h-1zM90 39h1v1h-1zM91 36h1v1h-1zM94 50h1v1h-1zM94 52h1v1h-1zM96 64h1v1h-1zM96 73h1v1h-1zM96 75h1v1h-1zM96 81h1v1h-1zM97 75h1v1h-1zM99 89h1v1h-1zM99 93h1v1h-1zM99 101h1v1h-1zM100 101h1v1h-1zM101 101h1v1h-1zM101 115h1v1h-1zM102 108h1v1h-1zM102 109h1v1h-1zM102 110h1v1h-1zM102 115h1v1h-1zM103 111h1v1h-1zM103 112h1v1h-1zM108 134h1v1h-1zM110 137h1v1h-1zM111 142h1v1h-1zM113 146h1v1h-1zM118 155h1v1h-1zM120 157h1v1h-1zM122 161h1v1h-1zM122 164h1v1h-1zM127 171h1v1h-1zM128 171h1v1h-1zM138 174h1v1h-1zM139 173h1v1h-1zM139 174h1v1h-1zM140 169h1v1h-1zM143 168h1v1h-1zM144 163h1v1h-1zM147 156h1v1h-1zM151 149h1v1h-1zM157 135h1v1h-1zM158 137h1v1h-1zM161 129h1v1h-1zM162 125h1v1h-1zM162 128h1v1h-1zM166 112h1v1h-1zM171 78h1v1h-1zM173 74h1v1h-1zM174 77h1v1h-1zM175 41h1v1h-1zM175 42h1v1h-1zM175 43h1v1h-1zM175 45h1v1h-1zM175 49h1v1h-1zM177 43h1v1h-1zM178 29h1v1h-1zM178 34h1v1h-1zM179 27h1v1h-1zM180 21h1v1h-1zM182 21h1v1h-1z"/>
<path fill="#00c0ff" d="M77 9h1v1h-1zM87 26h1v1h-1zM90 43h1v1h-1zM93 44h1v1h-1zM95 64h1v1h-1zM98 88h1v1h-1zM100 102h1v1h-1zM105 125h1v1h-1zM119 158h1v1h-1zM125 166h1v1h-1zM129 171h1v1h-1zM130 172h1v1h-1zM132 174h1v1h-1zM141 168h1v1h-1zM149 154h1v1h-1zM149 156h1v1h-1zM152 148h1v1h-1zM168 99h1v1h-1zM169 99h1v1h-1zM171 88h1v1h-1zM174 49h1v1h-1zM174 66h1v1h-1zM175 46h1v1h-1zM175 57h1v1h-1zM176 39h1v1h-1zM179 25h1v1h-1zM179 32h1v1h-1z"/>
<path fill="#0060ff" d="M79 10h1v1h-1zM80 11h1v1h-1zM80 12h1v1h-1zM81 14h1v1h-1zM83 16h1v1h-1zM87 22h1v1h-1zM87 30h1v1h-1zM88 25h1v1h-1zM88 28h1v1h-1zM90 33h1v1h-1zM90 36h1v1h-1zM91 47h1v1h-1zM92 48h1v1h-1zM93 57h1v1h-1zM95 58h1v1h-1zM95 73h1v1h-1zM98 79h1v1h-1zM98 80h1v1h-1zM98 83h1v1h-1zM100 99h1v1h-1zM101 106h1v1h-1zM101 108h1v1h-1zM104 117h1v1h-1zM105 121h1v1h-1zM106 127h1v1h-1zM107 127h1v1h-1zM107 128h1v1h-1zM107 135h1v1h-1zM111 140h1v1h-1zM114 146h1v1h-1zM116 152h1v1h-1zM122 163h1v1h-1zM123 162h1v1h-1zM126 167h1v1h-1zM127 170h1v1h-1zM136 175h1v1h-1zM137 175h1v1h-1zM141 167h1v1h-1zM142 170h1v1h-1zM143 166h1v1h-1zM144 162h1v1h-1zM145 164h1v1h-1zM146 158h1v1h-1zM146 159h1v1h-1zM146 161h1v1h-1zM152 147h1v1h-1zM159 130h1v1h-1zM160 131h1v1h-1zM166 114h1v1h-1zM169 92h1v1h-1zM169 98h1v1h-1zM170 92h1v1h-1zM172 69h1v1h-1zM172 77h1v1h-1zM172 79h1v1h-1zM173 61h1v1h-1zM173 70h1v1h-1zM173 83h1v1h-1zM174 52h1v1h-1zM174 53h1v1h-1zM175 48h1v1h-1zM176 35h1v1h-1zM176 43h1v1h-1zM176 47h1v1h-1zM177 30h1v1h-1zM178 28h1v1h-1zM179 24h1v1h-1zM179 28h1v1h-1zM184 14h1v1h-1zM189 11h1v1h-1zM192 9h1v1h-1z"/>
<path fill="#ff5000" d="M81 13h1v1h-1zM85 20h1v1h-1zM90 34h1v1h-1zM94 65h1v1h-1zM103 121h1v1h-1zM110 141h1v1h-1zM115 151h1v1h-1zM122 162h1v1h-1zM140 171h1v1h-1zM144 164h1v1h-1zM153 144h1v1h-1zM165 116h1v1h-1zM172 76h1v1h-1zM174 46h1v1h-1zM177 41h1v1h-1zM178 32h1v1h-1zM181 19h1v1h-1zM181 22h1v1h-1zM190 10h1v1h-1z"/>
<path fill="#ffa000" d="M89 29h1v1h-1zM92 45h1v1h-1zM92 47h1v1h-1zM94 51h1v1h-1zM94 59h1v1h-1zM95 59h1v1h-1zM97 80h1v1h-1zM98 84h1v1h-1zM102 118h1v1h-1zM111 145h1v1h-1zM112 143h1v1h-1zM116 153h1v1h-1zM139 172h1v1h-1zM142 168h1v1h-1zM144 165h1v1h-1zM154 142h1v1h-1zM160 129h1v1h-1zM161 126h1v1h-1zM163 118h1v1h-1zM165 111h1v1h-1zM167 103h1v1h-1zM168 97h1v1h-1zM169 95h1v1h-1zM175 54h1v1h-1zM176 36h1v1h-1zM177 36h1v1h-1zM186 12h1v1h-1zM187 13h1v1h-1z"/>
<path fill="#a02000" d="M92 43h1v1h-1zM93 60h1v1h-1zM94 58h1v1h-1zM95 61h1v1h-1zM99 91h1v1h-1zM100 98h1v1h-1zM101 104h1v1h-1zM102 106h1v1h-1zM102 111h1v1h-1zM104 120h1v1h-1zM112 141h1v1h-1zM113 147h1v1h-1zM114 149h1v1h-1zM120 159h1v1h-1zM121 161h1v1h-1zM129 173h1v1h-1zM149 157h1v1h-1zM158 134h1v1h-1zM159 131h1v1h-1zM163 119h1v1h-1zM166 105h1v1h-1zM168 107h1v1h-1zM170 97h1v1h-1zM171 85h1v1h-1zM172 84h1v1h-1zM173 60h1v1h-1zM177 35h1v1h-1zM185 14h1v1h-1z"/>
<path fill="#90ff70" d="M83 15h1v1h-1zM94 56h1v1h-1zM111 138h1v1h-1zM150 150h1v1h-1zM150 151h1v1h-1zM167 104h1v1h-1zM172 86h1v1h-1z"/>
<path fill="#0030c0" d="M82 17h1v1h-1zM85 19h1v1h-1zM92 42h1v1h-1zM93 46h1v1h-1zM93 61h1v1h-1zM94 57h1v1h-1zM95 62h1v1h-1zM95 72h1v1h-1zM96 74h1v1h-1zM96 82h1v1h-1zM97 78h1v1h-1zM99 95h1v1h-1zM101 105h1v1h-1zM102 116h1v1h-1zM102 117h1v1h-1zM105 123h1v1h-1zM106 126h1v1h-1zM108 131h1v1h-1zM111 139h1v1h-1zM113 143h1v1h-1zM129 172h1v1h-1zM145 161h1v1h-1zM145 163h1v1h-1zM149 153h1v1h-1zM152 151h1v1h-1zM158 133h1v1h-1zM162 129h1v1h-1zM163 117h1v1h-1zM163 122h1v1h-1zM164 115h1v1h-1zM165 118h1v1h-1zM167 102h1v1h-1zM171 82h1v1h-1zM171 84h1v1h-1zM172 82h1v1h-1zM173 58h1v1h-1zM173 67h1v1h-1zM174 58h1v1h-1zM175 63h1v1h-1zM176 37h1v1h-1zM176 42h1v1h-1zM179 26h1v1h-1zM181 21h1v1h-1z"/>
<path fill="#30f0d0" d="M88 34h1v1h-1zM96 66h1v1h-1zM98 86h1v1h-1zM99 100h1v1h-1zM104 116h1v1h-1zM105 120h1v1h-1zM109 139h1v1h-1zM115 152h1v1h-1zM151 152h1v1h-1zM157 138h1v1h-1zM163 120h1v1h-1zM167 110h1v1h-1zM168 100h1v1h-1zM169 96h1v1h-1zM170 88h1v1h-1zM172 71h1v1h-1zM172 72h1v1h-1zM174 47h1v1h-1zM176 49h1v1h-1z"/>
</g>
<path d="M61.0 4.92 L61.5 4.93 L62.0 4.94 L62.5 4.96 L63.0 4.97 L63.5 4.99 L64.0 5.01 L64.5 5.03 L65.0 5.05 L65.5 5.07 L66.0 5.10 L66.5 5.13 L67.0 5.16 L67.5 5.19 L68.0 5.23 L68.5 5.27 L69.0 5.31 L69.5 5.36 L70.0 5.41 L70.5 5.46 L71.0 5.52 L71.5 5.58 L72.0 5.65 L72.5 5.73 L73.0 5.81 L73.5 5.89 L74.0 5.99 L74.5 6.08 L75.0 6.19 L75.5 6.31 L76.0 6.43 L76.5 6.56 L77.0 6.70 L77.5 6.85 L78.0 7.02 L78.5 7.19 L79.0 7.37 L79.5 7.57 L80.0 7.78 L80.5 8.01 L81.0 8.25 L81.5 8.50 L82.0 8.77 L82.5 9.06 L83.0 9.37 L83.5 9.69 L84.0 10.04 L84.5 10.40 L85.0 10.79 L85.5 11.20 L86.0 11.63 L86.5 12.09 L87.0 12.57 L87.5 13.08 L88.0 13.62 L88.5 14.18 L89.0 14.78 L89.5 15.40 L90.0 16.06 L90.5 16.75 L91.0 17.47 L91.5 18.23 L92.0 19.03 L92.5 19.86 L93.0 20.73 L93.5 21.64 L94.0 22.59 L94.5 23.58 L95.0 24.62 L95.5 25.70 L96.0 26.82 L96.5 27.98 L97.0 29.19 L97.5 30.45 L98.0 31.76 L98.5 33.11 L99.0 34.51 L99.5 35.96 L100.0 37.46 L100.5 39.01 L101.0 40.61 L101.5 42.26 L102.0 43.96 L102.5 45.71 L103.0 47.51 L103.5 49.36 L104.0 51.26 L104.5 53.21 L105.0 55.21 L105.5 57.26 L106.0 59.35 L106.5 61.49 L107.0 63.67 L107.5 65.90 L108.0 68.17 L108.5 70.48 L109.0 72.83 L109.5 75.22 L110.0 77.65 L110.5 80.11 L111.0 82.60 L111.5 85.12 L112.0 87.67 L112.5 90.24 L113.0 92.84 L113.5 95.45 L114.0 98.08 L114.5 100.72 L115.0 103.38 L115.5 106.04 L116.0 108.70 L116.5 111.36 L117.0 114.02 L117.5 116.67 L118.0 119.32 L118.5 121.94 L119.0 124.55 L119.5 127.14 L120.0 129.70 L120.5 132.23 L121.0 134.72 L121.5 137.18 L122.0 139.60 L122.5 141.97 L123.0 144.29 L123.5 146.55 L124.0 148.76 L124.5 150.90 L125.0 152.98 L125.5 154.99 L126.0 156.93 L126.5 158.79 L127.0 160.58 L127.5 162.27 L128.0 163.89 L128.5 165.41 L129.0 166.84 L129.5 168.18 L130.0 169.42 L130.5 170.56 L131.0 171.60 L131.5 172.53 L132.0 173.36 L132.5 174.08 L133.0 174.70 L133.5 175.20 L134.0 175.59 L134.5 175.87 L135.0 176.04 L135.5 176.10 L136.0 176.04 L136.5 175.87 L137.0 175.59 L137.5 175.20 L138.0 174.70 L138.5 174.08 L139.0 173.36 L139.5 172.53 L140.0 171.60 L140.5 170.56 L141.0 169.42 L141.5 168.18 L142.0 166.84 L142.5 165.41 L143.0 163.89 L143.5 162.27 L144.0 160.58 L144.5 158.79 L145.0 156.93 L145.5 154.99 L146.0 152.98 L146.5 150.90 L147.0 148.76 L147.5 146.55 L148.0 144.29 L148.5 141.97 L149.0 139.60 L149.5 137.18 L150.0 134.72 L150.5 132.23 L151.0 129.70 L151.5 127.14 L152.0 124.55 L152.5 121.94 L153.0 119.32 L153.5 116.67 L154.0 114.02 L154.5 111.36 L155.0 108.70 L155.5 106.04 L156.0 103.38 L156.5 100.72 L157.0 98.08 L157.5 95.45 L158.0 92.84 L158.5 90.24 L159.0 87.67 L159.5 85.12 L160.0 82.60 L160.5 80.11 L161.0 77.65 L161.5 75.22 L162.0 72.83 L162.5 70.48 L163.0 68.17 L163.5 65.90 L164.0 63.67 L164.5 61.49 L165.0 59.35 L165.5 57.26 L166.0 55.21 L166.5 53.21 L167.0 51.26 L167.5 49.36 L168.0 47.51 L168.5 45.71 L169.0 43.96 L169.5 42.26 L170.0 40.61 L170.5 39.01 L171.0 37.46 L171.5 35.96 L172.0 34.51 L172.5 33.11 L173.0 31.76 L173.5 30.45 L174.0 29.19 L174.5 27.98 L175.0 26.82 L175.5 25.70 L176.0 24.62 L176.5 23.58 L177.0 22.59 L177.5 21.64 L178.0 20.73 L178.5 19.86 L179.0 19.03 L179.5 18.23 L180.0 17.47 L180.5 16.75 L181.0 16.06 L181.5 15.40 L182.0 14.78 L182.5 14.18 L183.0 13.62 L183.5 13.08 L184.0 12.57 L184.5 12.09 L185.0 11.63 L185.5 11.20 L186.0 10.79 L186.5 10.40 L187.0 10.04 L187.5 9.69 L188.0 9.37 L188.5 9.06 L189.0 8.77 L189.5 8.50 L190.0 8.25 L190.5 8.01 L191.0 7.78 L191.5 7.57 L192.0 7.37 L192.5 7.19 L193.0 7.02 L193.5 6.85 L194.0 6.70 L194.5 6.56 L195.0 6.43 L195.5 6.31 L196.0 6.19 L196.5 6.08 L197.0 5.99 L197.5 5.89 L198.0 5.81 L198.5 5.73 L199.0 5.65 L199.5 5.58 L200.0 5.52 L200.5 5.46 L201.0 5.41 L201.5 5.36 L202.0 5.31 L202.5 5.27 L203.0 5.23 L203.5 5.19 L204.0 5.16 L204.5 5.13 L205.0 5.10 L205.5 5.07 L206.0 5.05 L206.5 5.03 L207.0 5.01 L207.5 4.99 L208.0 4.97 L208.5 4.96 L209.0 4.94 L209.5 4.93 L210.0 4.92" fill="none" stroke="#d08c8c" stroke-width="2.2" stroke-linejoin="round"/>
<path d="M61.0 4.92 L61.5 4.93 L62.0 4.94 L62.5 4.96 L63.0 4.97 L63.5 4.99 L64.0 5.01 L64.5 5.03 L65.0 5.05 L65.5 5.07 L66.0 5.10 L66.5 5.13 L67.0 5.16 L67.5 5.19 L68.0 5.23 L68.5 5.27 L69.0 5.31 L69.5 5.36 L70.0 5.41 L70.5 5.46 L71.0 5.52 L71.5 5.58 L72.0 5.65 L72.5 5.73 L73.0 5.81 L73.5 5.89 L74.0 5.99 L74.5 6.08 L75.0 6.19 L75.5 6.31 L76.0 6.43 L76.5 6.56 L77.0 6.70 L77.5 6.85 L78.0 7.02 L78.5 7.19 L79.0 7.37 L79.5 7.57 L80.0 7.78 L80.5 8.01 L81.0 8.25 L81.5 8.50 L82.0 8.77 L82.5 9.06 L83.0 9.37 L83.5 9.69 L84.0 10.04 L84.5 10.40 L85.0 10.79 L85.5 11.20 L86.0 11.63 L86.5 12.09 L87.0 12.57 L87.5 13.08 L88.0 13.62 L88.5 14.18 L89.0 14.78 L89.5 15.40 L90.0 16.06 L90.5 16.75 L91.0 17.47 L91.5 18.23 L92.0 19.03 L92.5 19.86 L93.0 20.73 L93.5 21.64 L94.0 22.59 L94.5 23.58 L95.0 24.62 L95.5 25.70 L96.0 26.82 L96.5 27.98 L97.0 29.19 L97.5 30.45 L98.0 31.76 L98.5 33.11 L99.0 34.51 L99.5 35.96 L100.0 37.46 L100.5 39.01 L101.0 40.61 L101.5 42.26 L102.0 43.96 L102.5 45.71 L103.0 47.51 L103.5 49.36 L104.0 51.26 L104.5 53.21 L105.0 55.21 L105.5 57.26 L106.0 59.35 L106.5 61.49 L107.0 63.67 L107.5 65.90 L108.0 68.17 L108.5 70.48 L109.0 72.83 L109.5 75.22 L110.0 77.65 L110.5 80.11 L111.0 82.60 L111.5 85.12 L112.0 87.67 L112.5 90.24 L113.0 92.84 L113.5 95.45 L114.0 98.08 L114.5 100.72 L115.0 103.38 L115.5 106.04 L116.0 108.70 L116.5 111.36 L117.0 114.02 L117.5 116.67 L118.0 119.32 L118.5 121.94 L119.0 124.55 L119.5 127.14 L120.0 129.70 L120.5 132.23 L121.0 134.72 L121.5 137.18 L122.0 139.60 L122.5 141.97 L123.0 144.29 L123.5 146.55 L124.0 148.76 L124.5 150.90 L125.0 152.98 L125.5 154.99 L126.0 156.93 L126.5 158.79 L127.0 160.58 L127.5 162.27 L128.0 163.89 L128.5 165.41 L129.0 166.84 L129.5 168.18 L130.0 169.42 L130.5 170.56 L131.0 171.60 L131.5 172.53 L132.0 173.36 L132.5 174.08 L133.0 174.70 L133.5 175.20 L134.0 175.59 L134.5 175.87 L135.0 176.04 L135.5 176.10 L136.0 176.04 L136.5 175.87 L137.0 175.59 L137.5 175.20 L138.0 174.70 L138.5 174.08 L139.0 173.36 L139.5 172.53 L140.0 171.60 L140.5 170.56 L141.0 169.42 L141.5 168.18 L142.0 166.84 L142.5 165.41 L143.0 163.89 L143.5 162.27 L144.0 160.58 L144.5 158.79 L145.0 156.93 L145.5 154.99 L146.0 152.98 L146.5 150.90 L147.0 148.76 L147.5 146.55 L148.0 144.29 L148.5 141.97 L149.0 139.60 L149.5 137.18 L150.0 134.72 L150.5 132.23 L151.0 129.70 L151.5 127.14 L152.0 124.55 L152.5 121.94 L153.0 119.32 L153.5 116.67 L154.0 114.02 L154.5 111.36 L155.0 108.70 L155.5 106.04 L156.0 103.38 L156.5 100.72 L157.0 98.08 L157.5 95.45 L158.0 92.84 L158.5 90.24 L159.0 87.67 L159.5 85.12 L160.0 82.60 L160.5 80.11 L161.0 77.65 L161.5 75.22 L162.0 72.83 L162.5 70.48 L163.0 68.17 L163.5 65.90 L164.0 63.67 L164.5 61.49 L165.0 59.35 L165.5 57.26 L166.0 55.21 L166.5 53.21 L167.0 51.26 L167.5 49.36 L168.0 47.51 L168.5 45.71 L169.0 43.96 L169.5 42.26 L170.0 40.61 L170.5 39.01 L171.0 37.46 L171.5 35.96 L172.0 34.51 L172.5 33.11 L173.0 31.76 L173.5 30.45 L174.0 29.19 L174.5 27.98 L175.0 26.82 L175.5 25.70 L176.0 24.62 L176.5 23.58 L177.0 22.59 L177.5 21.64 L178.0 20.73 L178.5 19.86 L179.0 19.03 L179.5 18.23 L180.0 17.47 L180.5 16.75 L181.0 16.06 L181.5 15.40 L182.0 14.78 L182.5 14.18 L183.0 13.62 L183.5 13.08 L184.0 12.57 L184.5 12.09 L185.0 11.63 L185.5 11.20 L186.0 10.79 L186.5 10.40 L187.0 10.04 L187.5 9.69 L188.0 9.37 L188.5 9.06 L189.0 8.77 L189.5 8.50 L190.0 8.25 L190.5 8.01 L191.0 7.78 L191.5 7.57 L192.0 7.37 L192.5 7.19 L193.0 7.02 L193.5 6.85 L194.0 6.70 L194.5 6.56 L195.0 6.43 L195.5 6.31 L196.0 6.19 L196.5 6.08 L197.0 5.99 L197.5 5.89 L198.0 5.81 L198.5 5.73 L199.0 5.65 L199.5 5.58 L200.0 5.52 L200.5 5.46 L201.0 5.41 L201.5 5.36 L202.0 5.31 L202.5 5.27 L203.0 5.23 L203.5 5.19 L204.0 5.16 L204.5 5.13 L205.0 5.10 L205.5 5.07 L206.0 5.05 L206.5 5.03 L207.0 5.01 L207.5 4.99 L208.0 4.97 L208.5 4.96 L209.0 4.94 L209.5 4.93 L210.0 4.92" fill="none" stroke="#fae0e0" stroke-width="1.3" stroke-dasharray="1.2 1.0" stroke-linejoin="round"/>
<rect x="45.5" y="4.5" width="180.0" height="343.0" fill="none" stroke="#000030" stroke-opacity="0.65" stroke-width="1"/>
</g>
<g id="panel-b">
<clipPath id="cpb"><rect x="294.0" y="4.0" width="180.4" height="344.0"/></clipPath>
<rect x="294.0" y="4.0" width="180.4" height="344.0" fill="#00007f"/>
<path d="M297.0 4.0 L297.0 4.5 L302.5 5.5 L304.7 6.5 L306.9 7.5 L309.1 8.5 L311.3 9.5 L313.5 10.5 L314.3 11.5 L315.0 12.5 L315.8 13.5 L316.5 14.5 L317.3 15.5 L318.0 16.5 L318.8 17.5 L319.5 18.5 L320.3 19.5 L321.0 20.5 L321.6 21.5 L321.9 22.5 L322.2 23.5 L322.6 24.5 L322.9 25.5 L323.2 26.5 L323.6 27.5 L323.9 28.5 L324.2 29.5 L324.6 30.5 L324.9 31.5 L325.2 32.5 L325.6 33.5 L325.9 34.5 L326.2 35.5 L326.6 36.5 L326.8 37.5 L327.1 38.5 L327.3 39.5 L327.6 40.5 L327.8 41.5 L328.1 42.5 L328.3 43.5 L328.6 44.5 L328.9 45.5 L329.1 46.5 L329.4 47.5 L329.6 48.5 L329.9 49.5 L330.1 50.5 L330.4 51.5 L330.6 52.5 L330.8 53.5 L331.0 54.5 L331.2 55.5 L331.4 56.5 L331.7 57.5 L331.9 58.5 L332.1 59.5 L332.3 60.5 L332.5 61.5 L332.7 62.5 L332.9 63.5 L333.1 64.5 L333.3 65.5 L333.5 66.5 L333.8 67.5 L334.0 68.5 L334.2 69.5 L334.4 70.5 L334.6 71.5 L334.7 72.5 L334.9 73.5 L335.1 74.5 L335.2 75.5 L335.4 76.5 L335.6 77.5 L335.7 78.5 L335.9 79.5 L336.1 80.5 L336.2 81.5 L336.4 82.5 L336.6 83.5 L336.8 84.5 L336.9 85.5 L337.1 86.5 L337.3 87.5 L337.4 88.5 L337.5 89.5 L337.6 90.5 L337.7 91.5 L337.8 92.5 L337.8 93.5 L337.9 94.5 L338.0 95.5 L338.0 96.5 L338.1 97.5 L338.2 98.5 L338.3 99.5 L338.3 100.5 L338.4 101.5 L338.5 102.5 L338.6 103.5 L338.7 104.5 L338.8 105.5 L338.9 106.5 L339.0 107.5 L339.0 108.5 L339.1 109.5 L339.2 110.5 L339.3 111.5 L339.4 112.5 L339.5 113.5 L339.6 114.5 L339.7 115.5 L339.8 116.5 L339.8 117.5 L339.9 118.5 L340.1 119.5 L340.1 120.5 L340.2 121.5 L340.4 122.5 L340.4 123.5 L340.6 124.5 L340.6 125.5 L340.8 126.5 L340.9 127.5 L340.9 128.5 L341.1 129.5 L341.1 130.5 L341.2 131.5 L341.4 132.5 L341.4 133.5 L341.6 134.5 L341.6 135.5 L341.8 136.5 L341.9 137.5 L341.9 138.5 L342.1 139.5 L342.2 140.5 L342.2 141.5 L342.4 142.5 L342.6 143.5 L342.7 144.5 L342.9 145.5 L343.1 146.5 L343.2 147.5 L343.4 148.5 L343.6 149.5 L343.7 150.5 L343.9 151.5 L344.1 152.5 L344.3 153.5 L344.4 154.5 L344.6 155.5 L344.8 156.5 L344.9 157.5 L345.1 158.5 L345.3 159.5 L345.5 160.5 L345.6 161.5 L345.8 162.5 L346.0 163.5 L346.1 164.5 L346.3 165.5 L346.5 166.5 L346.6 167.5 L346.8 168.5 L347.1 169.5 L347.4 170.5 L347.7 171.5 L348.0 172.5 L348.3 173.5 L348.6 174.5 L348.9 175.5 L349.2 176.5 L349.5 177.5 L349.8 178.5 L350.1 179.5 L350.4 180.5 L350.7 181.5 L351.0 182.5 L351.3 183.5 L351.6 184.5 L351.9 185.5 L352.3 186.5 L352.6 187.5 L353.0 188.5 L353.3 189.5 L353.7 190.5 L354.0 191.5 L354.3 192.5 L354.7 193.5 L355.0 194.5 L355.4 195.5 L355.7 196.5 L356.1 197.5 L356.4 198.5 L356.7 199.5 L357.1 200.5 L357.4 201.5 L357.8 202.5 L358.2 203.5 L358.6 204.5 L359.0 205.5 L359.4 206.5 L359.8 207.5 L360.2 208.5 L360.6 209.5 L361.0 210.5 L361.4 211.5 L361.8 212.5 L362.2 213.5 L362.6 214.5 L363.0 215.5 L363.4 216.5 L363.9 217.5 L364.5 218.5 L365.0 219.5 L365.6 220.5 L366.2 221.5 L366.7 222.5 L367.3 223.5 L367.9 224.5 L368.4 225.5 L369.0 226.5 L369.6 227.5 L370.1 228.5 L370.7 229.5 L371.5 230.5 L372.5 231.5 L373.5 232.5 L374.5 233.5 L375.5 234.5 L376.5 235.5 L377.5 236.5 L379.0 237.5 L380.9 238.5 L382.8 239.5 L384.2 240.2 L385.4 239.5 L387.0 238.5 L388.7 237.5 L389.9 236.5 L390.7 235.5 L391.5 234.5 L392.2 233.5 L393.0 232.5 L393.8 231.5 L394.6 230.5 L395.3 229.5 L395.9 228.5 L396.4 227.5 L397.0 226.5 L397.6 225.5 L398.1 224.5 L398.7 223.5 L399.3 222.5 L399.8 221.5 L400.4 220.5 L401.0 219.5 L401.5 218.5 L402.1 217.5 L402.6 216.5 L403.0 215.5 L403.5 214.5 L403.9 213.5 L404.3 212.5 L404.7 211.5 L405.1 210.5 L405.6 209.5 L406.0 208.5 L406.4 207.5 L406.8 206.5 L407.3 205.5 L407.7 204.5 L408.1 203.5 L408.5 202.5 L409.0 201.5 L409.3 200.5 L409.7 199.5 L410.0 198.5 L410.4 197.5 L410.7 196.5 L411.1 195.5 L411.5 194.5 L411.8 193.5 L412.2 192.5 L412.5 191.5 L412.9 190.5 L413.2 189.5 L413.6 188.5 L414.0 187.5 L414.3 186.5 L414.7 185.5 L415.0 184.5 L415.3 183.5 L415.6 182.5 L416.0 181.5 L416.3 180.5 L416.6 179.5 L416.9 178.5 L417.3 177.5 L417.6 176.5 L417.9 175.5 L418.2 174.5 L418.5 173.5 L418.9 172.5 L419.2 171.5 L419.5 170.5 L419.8 169.5 L420.2 168.5 L420.4 167.5 L420.5 166.5 L420.7 165.5 L420.9 164.5 L421.1 163.5 L421.2 162.5 L421.4 161.5 L421.6 160.5 L421.8 159.5 L421.9 158.5 L422.1 157.5 L422.3 156.5 L422.4 155.5 L422.6 154.5 L422.8 153.5 L423.0 152.5 L423.1 151.5 L423.3 150.5 L423.5 149.5 L423.7 148.5 L423.8 147.5 L424.0 146.5 L424.2 145.5 L424.4 144.5 L424.5 143.5 L424.7 142.5 L424.9 141.5 L425.0 140.5 L425.1 139.5 L425.2 138.5 L425.3 137.5 L425.4 136.5 L425.5 135.5 L425.6 134.5 L425.7 133.5 L425.9 132.5 L426.0 131.5 L426.1 130.5 L426.2 129.5 L426.3 128.5 L426.4 127.5 L426.5 126.5 L426.6 125.5 L426.8 124.5 L426.9 123.5 L427.0 122.5 L427.1 121.5 L427.2 120.5 L427.3 119.5 L427.4 118.5 L427.5 117.5 L427.6 116.5 L427.8 115.5 L427.9 114.5 L428.0 113.5 L428.1 112.5 L428.3 111.5 L428.4 110.5 L428.5 109.5 L428.6 108.5 L428.8 107.5 L428.9 106.5 L429.0 105.5 L429.1 104.5 L429.3 103.5 L429.4 102.5 L429.5 101.5 L429.6 100.5 L429.7 99.5 L429.8 98.5 L429.9 97.5 L430.0 96.5 L430.1 95.5 L430.1 94.5 L430.2 93.5 L430.3 92.5 L430.4 91.5 L430.5 90.5 L430.6 89.5 L430.7 88.5 L430.8 87.5 L431.0 86.5 L431.2 85.5 L431.4 84.5 L431.5 83.5 L431.7 82.5 L431.9 81.5 L432.1 80.5 L432.2 79.5 L432.4 78.5 L432.6 77.5 L432.8 76.5 L432.9 75.5 L433.1 74.5 L433.3 73.5 L433.5 72.5 L433.6 71.5 L433.8 70.5 L434.0 69.5 L434.1 68.5 L434.2 67.5 L434.4 66.5 L434.5 65.5 L434.7 64.5 L434.8 63.5 L434.9 62.5 L435.1 61.5 L435.2 60.5 L435.4 59.5 L435.5 58.5 L435.6 57.5 L435.8 56.5 L435.9 55.5 L436.1 54.5 L436.2 53.5 L436.3 52.5 L436.5 51.5 L436.7 50.5 L436.9 49.5 L437.1 48.5 L437.3 47.5 L437.5 46.5 L437.7 45.5 L437.9 44.5 L438.1 43.5 L438.3 42.5 L438.5 41.5 L438.7 40.5 L438.9 39.5 L439.1 38.5 L439.3 37.5 L439.5 36.5 L439.8 35.5 L440.1 34.5 L440.4 33.5 L440.7 32.5 L441.0 31.5 L441.3 30.5 L441.5 29.5 L441.8 28.5 L442.1 27.5 L442.4 26.5 L442.7 25.5 L443.0 24.5 L443.3 23.5 L443.6 22.5 L443.9 21.5 L444.4 20.5 L445.1 19.5 L445.9 18.5 L446.7 17.5 L447.4 16.5 L448.2 15.5 L449.0 14.5 L449.7 13.5 L450.5 12.5 L451.2 11.5 L452.0 10.5 L454.2 9.5 L456.5 8.5 L458.7 7.5 L460.9 6.5 L463.1 5.5 L470.0 4.5 L470.0 4.0Z" fill="none" stroke="#0030e0" stroke-opacity="0.14" stroke-width="12" filter="url(#hz)" clip-path="url(#cpb)"/>
<path d="M297.0 4.0 L297.0 4.5 L302.5 5.5 L304.7 6.5 L306.9 7.5 L309.1 8.5 L311.3 9.5 L313.5 10.5 L314.3 11.5 L315.0 12.5 L315.8 13.5 L316.5 14.5 L317.3 15.5 L318.0 16.5 L318.8 17.5 L319.5 18.5 L320.3 19.5 L321.0 20.5 L321.6 21.5 L321.9 22.5 L322.2 23.5 L322.6 24.5 L322.9 25.5 L323.2 26.5 L323.6 27.5 L323.9 28.5 L324.2 29.5 L324.6 30.5 L324.9 31.5 L325.2 32.5 L325.6 33.5 L325.9 34.5 L326.2 35.5 L326.6 36.5 L326.8 37.5 L327.1 38.5 L327.3 39.5 L327.6 40.5 L327.8 41.5 L328.1 42.5 L328.3 43.5 L328.6 44.5 L328.9 45.5 L329.1 46.5 L329.4 47.5 L329.6 48.5 L329.9 49.5 L330.1 50.5 L330.4 51.5 L330.6 52.5 L330.8 53.5 L331.0 54.5 L331.2 55.5 L331.4 56.5 L331.7 57.5 L331.9 58.5 L332.1 59.5 L332.3 60.5 L332.5 61.5 L332.7 62.5 L332.9 63.5 L333.1 64.5 L333.3 65.5 L333.5 66.5 L333.8 67.5 L334.0 68.5 L334.2 69.5 L334.4 70.5 L334.6 71.5 L334.7 72.5 L334.9 73.5 L335.1 74.5 L335.2 75.5 L335.4 76.5 L335.6 77.5 L335.7 78.5 L335.9 79.5 L336.1 80.5 L336.2 81.5 L336.4 82.5 L336.6 83.5 L336.8 84.5 L336.9 85.5 L337.1 86.5 L337.3 87.5 L337.4 88.5 L337.5 89.5 L337.6 90.5 L337.7 91.5 L337.8 92.5 L337.8 93.5 L337.9 94.5 L338.0 95.5 L338.0 96.5 L338.1 97.5 L338.2 98.5 L338.3 99.5 L338.3 100.5 L338.4 101.5 L338.5 102.5 L338.6 103.5 L338.7 104.5 L338.8 105.5 L338.9 106.5 L339.0 107.5 L339.0 108.5 L339.1 109.5 L339.2 110.5 L339.3 111.5 L339.4 112.5 L339.5 113.5 L339.6 114.5 L339.7 115.5 L339.8 116.5 L339.8 117.5 L339.9 118.5 L340.1 119.5 L340.1 120.5 L340.2 121.5 L340.4 122.5 L340.4 123.5 L340.6 124.5 L340.6 125.5 L340.8 126.5 L340.9 127.5 L340.9 128.5 L341.1 129.5 L341.1 130.5 L341.2 131.5 L341.4 132.5 L341.4 133.5 L341.6 134.5 L341.6 135.5 L341.8 136.5 L341.9 137.5 L341.9 138.5 L342.1 139.5 L342.2 140.5 L342.2 141.5 L342.4 142.5 L342.6 143.5 L342.7 144.5 L342.9 145.5 L343.1 146.5 L343.2 147.5 L343.4 148.5 L343.6 149.5 L343.7 150.5 L343.9 151.5 L344.1 152.5 L344.3 153.5 L344.4 154.5 L344.6 155.5 L344.8 156.5 L344.9 157.5 L345.1 158.5 L345.3 159.5 L345.5 160.5 L345.6 161.5 L345.8 162.5 L346.0 163.5 L346.1 164.5 L346.3 165.5 L346.5 166.5 L346.6 167.5 L346.8 168.5 L347.1 169.5 L347.4 170.5 L347.7 171.5 L348.0 172.5 L348.3 173.5 L348.6 174.5 L348.9 175.5 L349.2 176.5 L349.5 177.5 L349.8 178.5 L350.1 179.5 L350.4 180.5 L350.7 181.5 L351.0 182.5 L351.3 183.5 L351.6 184.5 L351.9 185.5 L352.3 186.5 L352.6 187.5 L353.0 188.5 L353.3 189.5 L353.7 190.5 L354.0 191.5 L354.3 192.5 L354.7 193.5 L355.0 194.5 L355.4 195.5 L355.7 196.5 L356.1 197.5 L356.4 198.5 L356.7 199.5 L357.1 200.5 L357.4 201.5 L357.8 202.5 L358.2 203.5 L358.6 204.5 L359.0 205.5 L359.4 206.5 L359.8 207.5 L360.2 208.5 L360.6 209.5 L361.0 210.5 L361.4 211.5 L361.8 212.5 L362.2 213.5 L362.6 214.5 L363.0 215.5 L363.4 216.5 L363.9 217.5 L364.5 218.5 L365.0 219.5 L365.6 220.5 L366.2 221.5 L366.7 222.5 L367.3 223.5 L367.9 224.5 L368.4 225.5 L369.0 226.5 L369.6 227.5 L370.1 228.5 L370.7 229.5 L371.5 230.5 L372.5 231.5 L373.5 232.5 L374.5 233.5 L375.5 234.5 L376.5 235.5 L377.5 236.5 L379.0 237.5 L380.9 238.5 L382.8 239.5 L384.2 240.2 L385.4 239.5 L387.0 238.5 L388.7 237.5 L389.9 236.5 L390.7 235.5 L391.5 234.5 L392.2 233.5 L393.0 232.5 L393.8 231.5 L394.6 230.5 L395.3 229.5 L395.9 228.5 L396.4 227.5 L397.0 226.5 L397.6 225.5 L398.1 224.5 L398.7 223.5 L399.3 222.5 L399.8 221.5 L400.4 220.5 L401.0 219.5 L401.5 218.5 L402.1 217.5 L402.6 216.5 L403.0 215.5 L403.5 214.5 L403.9 213.5 L404.3 212.5 L404.7 211.5 L405.1 210.5 L405.6 209.5 L406.0 208.5 L406.4 207.5 L406.8 206.5 L407.3 205.5 L407.7 204.5 L408.1 203.5 L408.5 202.5 L409.0 201.5 L409.3 200.5 L409.7 199.5 L410.0 198.5 L410.4 197.5 L410.7 196.5 L411.1 195.5 L411.5 194.5 L411.8 193.5 L412.2 192.5 L412.5 191.5 L412.9 190.5 L413.2 189.5 L413.6 188.5 L414.0 187.5 L414.3 186.5 L414.7 185.5 L415.0 184.5 L415.3 183.5 L415.6 182.5 L416.0 181.5 L416.3 180.5 L416.6 179.5 L416.9 178.5 L417.3 177.5 L417.6 176.5 L417.9 175.5 L418.2 174.5 L418.5 173.5 L418.9 172.5 L419.2 171.5 L419.5 170.5 L419.8 169.5 L420.2 168.5 L420.4 167.5 L420.5 166.5 L420.7 165.5 L420.9 164.5 L421.1 163.5 L421.2 162.5 L421.4 161.5 L421.6 160.5 L421.8 159.5 L421.9 158.5 L422.1 157.5 L422.3 156.5 L422.4 155.5 L422.6 154.5 L422.8 153.5 L423.0 152.5 L423.1 151.5 L423.3 150.5 L423.5 149.5 L423.7 148.5 L423.8 147.5 L424.0 146.5 L424.2 145.5 L424.4 144.5 L424.5 143.5 L424.7 142.5 L424.9 141.5 L425.0 140.5 L425.1 139.5 L425.2 138.5 L425.3 137.5 L425.4 136.5 L425.5 135.5 L425.6 134.5 L425.7 133.5 L425.9 132.5 L426.0 131.5 L426.1 130.5 L426.2 129.5 L426.3 128.5 L426.4 127.5 L426.5 126.5 L426.6 125.5 L426.8 124.5 L426.9 123.5 L427.0 122.5 L427.1 121.5 L427.2 120.5 L427.3 119.5 L427.4 118.5 L427.5 117.5 L427.6 116.5 L427.8 115.5 L427.9 114.5 L428.0 113.5 L428.1 112.5 L428.3 111.5 L428.4 110.5 L428.5 109.5 L428.6 108.5 L428.8 107.5 L428.9 106.5 L429.0 105.5 L429.1 104.5 L429.3 103.5 L429.4 102.5 L429.5 101.5 L429.6 100.5 L429.7 99.5 L429.8 98.5 L429.9 97.5 L430.0 96.5 L430.1 95.5 L430.1 94.5 L430.2 93.5 L430.3 92.5 L430.4 91.5 L430.5 90.5 L430.6 89.5 L430.7 88.5 L430.8 87.5 L431.0 86.5 L431.2 85.5 L431.4 84.5 L431.5 83.5 L431.7 82.5 L431.9 81.5 L432.1 80.5 L432.2 79.5 L432.4 78.5 L432.6 77.5 L432.8 76.5 L432.9 75.5 L433.1 74.5 L433.3 73.5 L433.5 72.5 L433.6 71.5 L433.8 70.5 L434.0 69.5 L434.1 68.5 L434.2 67.5 L434.4 66.5 L434.5 65.5 L434.7 64.5 L434.8 63.5 L434.9 62.5 L435.1 61.5 L435.2 60.5 L435.4 59.5 L435.5 58.5 L435.6 57.5 L435.8 56.5 L435.9 55.5 L436.1 54.5 L436.2 53.5 L436.3 52.5 L436.5 51.5 L436.7 50.5 L436.9 49.5 L437.1 48.5 L437.3 47.5 L437.5 46.5 L437.7 45.5 L437.9 44.5 L438.1 43.5 L438.3 42.5 L438.5 41.5 L438.7 40.5 L438.9 39.5 L439.1 38.5 L439.3 37.5 L439.5 36.5 L439.8 35.5 L440.1 34.5 L440.4 33.5 L440.7 32.5 L441.0 31.5 L441.3 30.5 L441.5 29.5 L441.8 28.5 L442.1 27.5 L442.4 26.5 L442.7 25.5 L443.0 24.5 L443.3 23.5 L443.6 22.5 L443.9 21.5 L444.4 20.5 L445.1 19.5 L445.9 18.5 L446.7 17.5 L447.4 16.5 L448.2 15.5 L449.0 14.5 L449.7 13.5 L450.5 12.5 L451.2 11.5 L452.0 10.5 L454.2 9.5 L456.5 8.5 L458.7 7.5 L460.9 6.5 L463.1 5.5 L470.0 4.5 L470.0 4.0Z" fill="#6c0000"/>
<g filter="url(#nb)">
<path fill="#0028c0" d="M297 19h1v1h-1zM300 7h1v1h-1zM301 8h1v1h-1zM304 8h1v1h-1zM306 27h1v1h-1zM306 37h1v1h-1zM306 79h1v1h-1zM308 33h1v1h-1zM313 11h1v1h-1zM313 36h1v1h-1zM314 15h1v1h-1zM315 14h1v1h-1zM315 19h1v1h-1zM315 36h1v1h-1zM316 17h1v1h-1zM316 27h1v1h-1zM316 61h1v1h-1zM317 17h1v1h-1zM317 23h1v1h-1zM317 35h1v1h-1zM318 19h1v1h-1zM318 126h1v1h-1zM319 25h1v1h-1zM320 21h1v1h-1zM320 51h1v1h-1zM320 139h1v1h-1zM321 30h1v1h-1zM321 34h1v1h-1zM321 43h1v1h-1zM321 78h1v1h-1zM321 89h1v1h-1zM322 36h1v1h-1zM322 41h1v1h-1zM322 72h1v1h-1zM323 50h1v1h-1zM324 36h1v1h-1zM324 43h1v1h-1zM324 81h1v1h-1zM324 119h1v1h-1zM325 51h1v1h-1zM325 123h1v1h-1zM326 85h1v1h-1zM327 55h1v1h-1zM327 56h1v1h-1zM327 72h1v1h-1zM328 49h1v1h-1zM328 57h1v1h-1zM328 84h1v1h-1zM328 112h1v1h-1zM329 50h1v1h-1zM329 57h1v1h-1zM329 72h1v1h-1zM329 135h1v1h-1zM330 60h1v1h-1zM330 66h1v1h-1zM330 82h1v1h-1zM330 102h1v1h-1zM330 110h1v1h-1zM330 136h1v1h-1zM331 68h1v1h-1zM331 72h1v1h-1zM331 78h1v1h-1zM331 96h1v1h-1zM331 113h1v1h-1zM331 118h1v1h-1zM332 80h1v1h-1zM332 84h1v1h-1zM332 101h1v1h-1zM332 118h1v1h-1zM332 138h1v1h-1zM333 129h1v1h-1zM334 80h1v1h-1zM334 107h1v1h-1zM334 114h1v1h-1zM334 166h1v1h-1zM335 96h1v1h-1zM335 104h1v1h-1zM335 126h1v1h-1zM336 112h1v1h-1zM337 90h1v1h-1zM337 105h1v1h-1zM337 127h1v1h-1zM337 139h1v1h-1zM338 108h1v1h-1zM338 138h1v1h-1zM338 150h1v1h-1zM338 151h1v1h-1zM339 124h1v1h-1zM339 146h1v1h-1zM339 147h1v1h-1zM340 160h1v1h-1zM341 172h1v1h-1zM342 150h1v1h-1zM343 189h1v1h-1zM344 157h1v1h-1zM344 161h1v1h-1zM347 171h1v1h-1zM347 193h1v1h-1zM348 183h1v1h-1zM350 181h1v1h-1zM353 194h1v1h-1zM353 195h1v1h-1zM354 194h1v1h-1zM357 200h1v1h-1zM359 208h1v1h-1zM359 217h1v1h-1zM359 226h1v1h-1zM360 215h1v1h-1zM361 214h1v1h-1zM361 220h1v1h-1zM362 225h1v1h-1zM364 229h1v1h-1zM366 227h1v1h-1zM368 230h1v1h-1zM371 232h1v1h-1zM371 233h1v1h-1zM377 238h1v1h-1zM380 239h1v1h-1zM381 240h1v1h-1zM382 241h1v1h-1zM383 241h1v1h-1zM385 240h1v1h-1zM385 241h1v1h-1zM386 241h1v1h-1zM391 242h1v1h-1zM396 230h1v1h-1zM398 229h1v1h-1zM399 223h1v1h-1zM400 224h1v1h-1zM401 232h1v1h-1zM404 219h1v1h-1zM408 210h1v1h-1zM408 214h1v1h-1zM408 222h1v1h-1zM409 211h1v1h-1zM413 196h1v1h-1zM414 211h1v1h-1zM416 182h1v1h-1zM416 191h1v1h-1zM417 189h1v1h-1zM417 194h1v1h-1zM419 182h1v1h-1zM421 178h1v1h-1zM421 183h1v1h-1zM422 193h1v1h-1zM424 190h1v1h-1zM425 151h1v1h-1zM425 182h1v1h-1zM426 146h1v1h-1zM427 131h1v1h-1zM427 148h1v1h-1zM427 167h1v1h-1zM428 125h1v1h-1zM428 136h1v1h-1zM428 167h1v1h-1zM428 174h1v1h-1zM428 181h1v1h-1zM429 128h1v1h-1zM429 138h1v1h-1zM430 119h1v1h-1zM430 148h1v1h-1zM431 109h1v1h-1zM432 90h1v1h-1zM432 137h1v1h-1zM433 83h1v1h-1zM433 148h1v1h-1zM434 73h1v1h-1zM434 78h1v1h-1zM434 106h1v1h-1zM434 109h1v1h-1zM434 111h1v1h-1zM435 70h1v1h-1zM435 76h1v1h-1zM435 77h1v1h-1zM436 70h1v1h-1zM436 95h1v1h-1zM437 60h1v1h-1zM437 68h1v1h-1zM437 119h1v1h-1zM438 49h1v1h-1zM438 67h1v1h-1zM438 76h1v1h-1zM438 77h1v1h-1zM439 81h1v1h-1zM439 92h1v1h-1zM439 104h1v1h-1zM440 43h1v1h-1zM440 116h1v1h-1zM441 47h1v1h-1zM442 60h1v1h-1zM442 92h1v1h-1zM443 36h1v1h-1zM443 51h1v1h-1zM443 65h1v1h-1zM444 25h1v1h-1zM444 29h1v1h-1zM444 32h1v1h-1zM444 34h1v1h-1zM444 116h1v1h-1zM445 22h1v1h-1zM445 30h1v1h-1zM445 45h1v1h-1zM445 53h1v1h-1zM445 129h1v1h-1zM445 161h1v1h-1zM447 25h1v1h-1zM448 32h1v1h-1zM448 42h1v1h-1zM449 60h1v1h-1zM450 17h1v1h-1zM451 13h1v1h-1zM451 37h1v1h-1zM451 84h1v1h-1zM452 64h1v1h-1zM453 16h1v1h-1zM454 77h1v1h-1zM454 122h1v1h-1zM456 14h1v1h-1zM456 43h1v1h-1zM457 13h1v1h-1zM457 20h1v1h-1zM458 11h1v1h-1zM458 35h1v1h-1zM459 11h1v1h-1zM459 12h1v1h-1zM459 13h1v1h-1zM460 42h1v1h-1zM461 11h1v1h-1zM464 9h1v1h-1z"/>
<path fill="#0020b0" d="M298 7h1v1h-1zM301 6h1v1h-1zM308 12h1v1h-1zM309 23h1v1h-1zM310 30h1v1h-1zM310 62h1v1h-1zM311 9h1v1h-1zM311 13h1v1h-1zM312 31h1v1h-1zM313 12h1v1h-1zM313 15h1v1h-1zM313 16h1v1h-1zM316 45h1v1h-1zM317 22h1v1h-1zM319 19h1v1h-1zM319 30h1v1h-1zM319 44h1v1h-1zM320 26h1v1h-1zM321 39h1v1h-1zM321 52h1v1h-1zM323 38h1v1h-1zM323 48h1v1h-1zM325 62h1v1h-1zM325 91h1v1h-1zM326 46h1v1h-1zM326 65h1v1h-1zM326 135h1v1h-1zM327 73h1v1h-1zM328 57h1v1h-1zM328 64h1v1h-1zM328 73h1v1h-1zM328 79h1v1h-1zM329 66h1v1h-1zM329 77h1v1h-1zM329 150h1v1h-1zM330 113h1v1h-1zM331 72h1v1h-1zM331 96h1v1h-1zM331 113h1v1h-1zM331 115h1v1h-1zM331 125h1v1h-1zM331 126h1v1h-1zM332 66h1v1h-1zM332 94h1v1h-1zM332 123h1v1h-1zM332 125h1v1h-1zM332 137h1v1h-1zM333 82h1v1h-1zM333 142h1v1h-1zM334 74h1v1h-1zM334 115h1v1h-1zM335 83h1v1h-1zM335 84h1v1h-1zM335 93h1v1h-1zM335 95h1v1h-1zM335 143h1v1h-1zM335 147h1v1h-1zM335 151h1v1h-1zM336 98h1v1h-1zM337 103h1v1h-1zM337 104h1v1h-1zM337 106h1v1h-1zM337 141h1v1h-1zM338 113h1v1h-1zM338 135h1v1h-1zM338 140h1v1h-1zM338 143h1v1h-1zM340 126h1v1h-1zM340 133h1v1h-1zM340 139h1v1h-1zM341 135h1v1h-1zM341 139h1v1h-1zM341 144h1v1h-1zM341 150h1v1h-1zM341 158h1v1h-1zM341 173h1v1h-1zM342 149h1v1h-1zM343 159h1v1h-1zM344 156h1v1h-1zM344 173h1v1h-1zM345 214h1v1h-1zM346 181h1v1h-1zM347 172h1v1h-1zM349 180h1v1h-1zM349 181h1v1h-1zM350 192h1v1h-1zM350 193h1v1h-1zM351 193h1v1h-1zM353 197h1v1h-1zM355 203h1v1h-1zM357 206h1v1h-1zM359 210h1v1h-1zM360 214h1v1h-1zM372 231h1v1h-1zM383 241h1v1h-1zM384 240h1v1h-1zM385 241h1v1h-1zM387 240h1v1h-1zM388 238h1v1h-1zM393 236h1v1h-1zM395 235h1v1h-1zM395 238h1v1h-1zM401 227h1v1h-1zM402 224h1v1h-1zM403 228h1v1h-1zM404 223h1v1h-1zM407 212h1v1h-1zM409 202h1v1h-1zM409 220h1v1h-1zM409 226h1v1h-1zM411 206h1v1h-1zM415 197h1v1h-1zM416 185h1v1h-1zM417 180h1v1h-1zM417 185h1v1h-1zM418 203h1v1h-1zM419 185h1v1h-1zM420 173h1v1h-1zM421 190h1v1h-1zM421 192h1v1h-1zM421 200h1v1h-1zM422 171h1v1h-1zM423 164h1v1h-1zM425 154h1v1h-1zM426 143h1v1h-1zM426 154h1v1h-1zM427 132h1v1h-1zM427 142h1v1h-1zM428 133h1v1h-1zM428 142h1v1h-1zM428 144h1v1h-1zM429 142h1v1h-1zM429 149h1v1h-1zM429 154h1v1h-1zM429 157h1v1h-1zM430 107h1v1h-1zM431 154h1v1h-1zM432 91h1v1h-1zM432 154h1v1h-1zM432 159h1v1h-1zM433 132h1v1h-1zM433 133h1v1h-1zM434 85h1v1h-1zM434 88h1v1h-1zM434 96h1v1h-1zM434 97h1v1h-1zM434 103h1v1h-1zM434 113h1v1h-1zM435 91h1v1h-1zM435 93h1v1h-1zM435 105h1v1h-1zM435 131h1v1h-1zM436 67h1v1h-1zM436 98h1v1h-1zM436 114h1v1h-1zM436 156h1v1h-1zM437 59h1v1h-1zM437 64h1v1h-1zM438 81h1v1h-1zM438 86h1v1h-1zM439 60h1v1h-1zM440 65h1v1h-1zM440 67h1v1h-1zM440 93h1v1h-1zM440 115h1v1h-1zM441 40h1v1h-1zM442 30h1v1h-1zM442 38h1v1h-1zM443 51h1v1h-1zM443 52h1v1h-1zM443 137h1v1h-1zM444 36h1v1h-1zM444 75h1v1h-1zM445 42h1v1h-1zM445 102h1v1h-1zM447 35h1v1h-1zM448 17h1v1h-1zM448 23h1v1h-1zM448 67h1v1h-1zM449 32h1v1h-1zM450 14h1v1h-1zM450 73h1v1h-1zM452 13h1v1h-1zM452 18h1v1h-1zM452 26h1v1h-1zM455 18h1v1h-1zM455 53h1v1h-1zM456 65h1v1h-1zM457 31h1v1h-1zM458 11h1v1h-1zM458 39h1v1h-1zM459 54h1v1h-1zM464 6h1v1h-1z"/>
<path fill="#0030a8" d="M298 5h1v1h-1zM305 14h1v1h-1zM308 13h1v1h-1zM310 61h1v1h-1zM312 27h1v1h-1zM314 60h1v1h-1zM315 21h1v1h-1zM315 42h1v1h-1zM316 27h1v1h-1zM316 66h1v1h-1zM318 73h1v1h-1zM319 27h1v1h-1zM320 53h1v1h-1zM320 68h1v1h-1zM321 24h1v1h-1zM321 25h1v1h-1zM321 27h1v1h-1zM321 35h1v1h-1zM322 58h1v1h-1zM322 76h1v1h-1zM322 91h1v1h-1zM324 84h1v1h-1zM325 62h1v1h-1zM326 67h1v1h-1zM327 41h1v1h-1zM327 87h1v1h-1zM328 76h1v1h-1zM328 78h1v1h-1zM328 103h1v1h-1zM329 108h1v1h-1zM330 52h1v1h-1zM330 59h1v1h-1zM330 105h1v1h-1zM331 66h1v1h-1zM331 67h1v1h-1zM331 94h1v1h-1zM331 143h1v1h-1zM332 66h1v1h-1zM333 76h1v1h-1zM333 81h1v1h-1zM333 82h1v1h-1zM333 116h1v1h-1zM333 139h1v1h-1zM334 90h1v1h-1zM335 130h1v1h-1zM335 150h1v1h-1zM336 85h1v1h-1zM336 87h1v1h-1zM336 88h1v1h-1zM336 98h1v1h-1zM337 92h1v1h-1zM337 111h1v1h-1zM337 113h1v1h-1zM337 134h1v1h-1zM338 114h1v1h-1zM339 142h1v1h-1zM340 131h1v1h-1zM341 167h1v1h-1zM342 146h1v1h-1zM342 163h1v1h-1zM343 149h1v1h-1zM343 154h1v1h-1zM343 162h1v1h-1zM346 170h1v1h-1zM347 180h1v1h-1zM348 195h1v1h-1zM351 196h1v1h-1zM351 208h1v1h-1zM352 196h1v1h-1zM353 194h1v1h-1zM355 199h1v1h-1zM355 203h1v1h-1zM357 206h1v1h-1zM358 210h1v1h-1zM363 217h1v1h-1zM364 220h1v1h-1zM370 230h1v1h-1zM373 235h1v1h-1zM384 241h1v1h-1zM385 241h1v1h-1zM391 237h1v1h-1zM392 234h1v1h-1zM395 232h1v1h-1zM395 234h1v1h-1zM398 226h1v1h-1zM398 231h1v1h-1zM403 220h1v1h-1zM404 216h1v1h-1zM405 212h1v1h-1zM405 215h1v1h-1zM409 203h1v1h-1zM412 196h1v1h-1zM412 204h1v1h-1zM415 187h1v1h-1zM415 193h1v1h-1zM416 191h1v1h-1zM416 194h1v1h-1zM417 183h1v1h-1zM417 187h1v1h-1zM418 187h1v1h-1zM419 173h1v1h-1zM419 203h1v1h-1zM421 173h1v1h-1zM424 152h1v1h-1zM424 180h1v1h-1zM425 148h1v1h-1zM425 159h1v1h-1zM425 169h1v1h-1zM426 150h1v1h-1zM426 174h1v1h-1zM427 130h1v1h-1zM427 134h1v1h-1zM428 130h1v1h-1zM430 102h1v1h-1zM430 115h1v1h-1zM430 128h1v1h-1zM431 93h1v1h-1zM431 95h1v1h-1zM432 112h1v1h-1zM432 142h1v1h-1zM433 81h1v1h-1zM433 90h1v1h-1zM433 125h1v1h-1zM434 106h1v1h-1zM434 115h1v1h-1zM434 167h1v1h-1zM435 102h1v1h-1zM435 110h1v1h-1zM436 98h1v1h-1zM436 101h1v1h-1zM437 63h1v1h-1zM437 80h1v1h-1zM437 91h1v1h-1zM438 79h1v1h-1zM438 86h1v1h-1zM439 44h1v1h-1zM439 64h1v1h-1zM439 97h1v1h-1zM439 139h1v1h-1zM440 42h1v1h-1zM441 47h1v1h-1zM441 79h1v1h-1zM441 87h1v1h-1zM442 40h1v1h-1zM442 48h1v1h-1zM443 38h1v1h-1zM443 39h1v1h-1zM443 44h1v1h-1zM443 51h1v1h-1zM443 57h1v1h-1zM444 64h1v1h-1zM444 68h1v1h-1zM445 90h1v1h-1zM446 54h1v1h-1zM447 36h1v1h-1zM448 38h1v1h-1zM449 55h1v1h-1zM449 114h1v1h-1zM450 18h1v1h-1zM450 20h1v1h-1zM452 81h1v1h-1zM452 100h1v1h-1zM453 18h1v1h-1zM453 35h1v1h-1zM455 10h1v1h-1zM457 11h1v1h-1zM458 11h1v1h-1zM459 8h1v1h-1zM459 9h1v1h-1zM460 20h1v1h-1zM460 39h1v1h-1zM469 5h1v1h-1z"/>
<path fill="#0038d8" d="M297 9h1v1h-1zM299 21h1v1h-1zM301 8h1v1h-1zM301 12h1v1h-1zM304 25h1v1h-1zM305 25h1v1h-1zM306 14h1v1h-1zM308 11h1v1h-1zM308 42h1v1h-1zM310 12h1v1h-1zM310 13h1v1h-1zM310 15h1v1h-1zM311 55h1v1h-1zM311 69h1v1h-1zM312 13h1v1h-1zM312 14h1v1h-1zM313 19h1v1h-1zM316 64h1v1h-1zM316 68h1v1h-1zM319 27h1v1h-1zM319 61h1v1h-1zM320 37h1v1h-1zM321 25h1v1h-1zM321 30h1v1h-1zM323 33h1v1h-1zM323 95h1v1h-1zM324 36h1v1h-1zM324 39h1v1h-1zM324 46h1v1h-1zM324 49h1v1h-1zM325 37h1v1h-1zM325 70h1v1h-1zM326 43h1v1h-1zM327 69h1v1h-1zM329 51h1v1h-1zM329 53h1v1h-1zM329 66h1v1h-1zM329 149h1v1h-1zM329 154h1v1h-1zM330 68h1v1h-1zM330 121h1v1h-1zM331 85h1v1h-1zM332 75h1v1h-1zM332 105h1v1h-1zM332 162h1v1h-1zM333 118h1v1h-1zM333 144h1v1h-1zM334 85h1v1h-1zM334 112h1v1h-1zM334 120h1v1h-1zM335 94h1v1h-1zM335 114h1v1h-1zM336 123h1v1h-1zM337 113h1v1h-1zM338 108h1v1h-1zM338 120h1v1h-1zM338 132h1v1h-1zM338 164h1v1h-1zM339 114h1v1h-1zM339 136h1v1h-1zM339 143h1v1h-1zM339 146h1v1h-1zM339 158h1v1h-1zM340 129h1v1h-1zM340 132h1v1h-1zM340 135h1v1h-1zM340 141h1v1h-1zM340 143h1v1h-1zM340 146h1v1h-1zM341 136h1v1h-1zM341 140h1v1h-1zM341 153h1v1h-1zM342 146h1v1h-1zM342 168h1v1h-1zM343 162h1v1h-1zM343 184h1v1h-1zM344 163h1v1h-1zM344 166h1v1h-1zM345 162h1v1h-1zM345 167h1v1h-1zM345 174h1v1h-1zM345 176h1v1h-1zM346 174h1v1h-1zM348 174h1v1h-1zM348 177h1v1h-1zM348 180h1v1h-1zM348 189h1v1h-1zM349 188h1v1h-1zM351 192h1v1h-1zM351 199h1v1h-1zM352 187h1v1h-1zM352 194h1v1h-1zM352 201h1v1h-1zM354 195h1v1h-1zM361 221h1v1h-1zM362 229h1v1h-1zM364 223h1v1h-1zM377 239h1v1h-1zM384 240h1v1h-1zM385 241h1v1h-1zM386 242h1v1h-1zM388 240h1v1h-1zM389 238h1v1h-1zM393 235h1v1h-1zM398 227h1v1h-1zM399 229h1v1h-1zM400 224h1v1h-1zM403 218h1v1h-1zM403 220h1v1h-1zM404 218h1v1h-1zM404 224h1v1h-1zM404 232h1v1h-1zM405 221h1v1h-1zM409 209h1v1h-1zM409 211h1v1h-1zM409 214h1v1h-1zM410 214h1v1h-1zM411 203h1v1h-1zM412 196h1v1h-1zM412 218h1v1h-1zM414 198h1v1h-1zM415 200h1v1h-1zM417 209h1v1h-1zM418 180h1v1h-1zM419 208h1v1h-1zM420 186h1v1h-1zM421 172h1v1h-1zM421 187h1v1h-1zM423 193h1v1h-1zM425 146h1v1h-1zM425 149h1v1h-1zM425 154h1v1h-1zM428 135h1v1h-1zM428 141h1v1h-1zM428 174h1v1h-1zM429 118h1v1h-1zM429 126h1v1h-1zM429 139h1v1h-1zM429 147h1v1h-1zM429 176h1v1h-1zM430 110h1v1h-1zM430 127h1v1h-1zM431 105h1v1h-1zM431 110h1v1h-1zM431 116h1v1h-1zM431 129h1v1h-1zM431 167h1v1h-1zM432 95h1v1h-1zM433 82h1v1h-1zM433 103h1v1h-1zM434 75h1v1h-1zM435 91h1v1h-1zM436 75h1v1h-1zM436 92h1v1h-1zM436 134h1v1h-1zM437 62h1v1h-1zM437 84h1v1h-1zM438 47h1v1h-1zM438 50h1v1h-1zM438 51h1v1h-1zM438 52h1v1h-1zM438 83h1v1h-1zM438 88h1v1h-1zM439 43h1v1h-1zM439 54h1v1h-1zM440 41h1v1h-1zM440 42h1v1h-1zM440 63h1v1h-1zM440 79h1v1h-1zM441 87h1v1h-1zM441 125h1v1h-1zM442 40h1v1h-1zM443 47h1v1h-1zM443 79h1v1h-1zM444 35h1v1h-1zM445 67h1v1h-1zM445 91h1v1h-1zM446 28h1v1h-1zM446 40h1v1h-1zM446 51h1v1h-1zM446 68h1v1h-1zM447 23h1v1h-1zM447 36h1v1h-1zM447 65h1v1h-1zM448 29h1v1h-1zM448 53h1v1h-1zM449 17h1v1h-1zM449 22h1v1h-1zM451 14h1v1h-1zM451 63h1v1h-1zM452 11h1v1h-1zM453 11h1v1h-1zM453 12h1v1h-1zM453 15h1v1h-1zM454 20h1v1h-1zM454 45h1v1h-1zM455 20h1v1h-1zM455 22h1v1h-1zM457 22h1v1h-1zM457 45h1v1h-1z"/>
<path fill="#ff9000" d="M303 7h1v1h-1zM304 20h1v1h-1zM319 162h1v1h-1zM328 126h1v1h-1zM331 107h1v1h-1zM340 144h1v1h-1zM340 150h1v1h-1zM342 143h1v1h-1zM344 175h1v1h-1zM364 223h1v1h-1zM383 240h1v1h-1zM387 239h1v1h-1zM388 242h1v1h-1zM391 236h1v1h-1zM407 211h1v1h-1zM419 190h1v1h-1zM425 151h1v1h-1zM428 127h1v1h-1zM429 148h1v1h-1zM430 117h1v1h-1zM430 121h1v1h-1zM431 114h1v1h-1zM431 131h1v1h-1zM432 101h1v1h-1zM437 59h1v1h-1zM440 91h1v1h-1zM441 32h1v1h-1zM442 39h1v1h-1zM446 29h1v1h-1zM446 68h1v1h-1zM448 35h1v1h-1z"/>
<path fill="#7a3010" d="M307 21h1v1h-1zM311 15h1v1h-1zM316 21h1v1h-1zM318 26h1v1h-1zM320 33h1v1h-1zM322 57h1v1h-1zM328 55h1v1h-1zM328 66h1v1h-1zM329 82h1v1h-1zM333 85h1v1h-1zM338 131h1v1h-1zM338 138h1v1h-1zM340 146h1v1h-1zM342 146h1v1h-1zM343 157h1v1h-1zM350 200h1v1h-1zM351 193h1v1h-1zM352 187h1v1h-1zM372 235h1v1h-1zM384 241h1v1h-1zM385 240h1v1h-1zM399 226h1v1h-1zM401 228h1v1h-1zM408 220h1v1h-1zM417 181h1v1h-1zM422 191h1v1h-1zM423 164h1v1h-1zM424 185h1v1h-1zM425 146h1v1h-1zM427 149h1v1h-1zM428 176h1v1h-1zM430 112h1v1h-1zM431 102h1v1h-1zM432 92h1v1h-1zM433 152h1v1h-1zM434 88h1v1h-1zM436 67h1v1h-1zM437 101h1v1h-1zM440 43h1v1h-1zM440 59h1v1h-1zM441 39h1v1h-1zM443 26h1v1h-1zM443 64h1v1h-1zM444 76h1v1h-1zM445 44h1v1h-1zM445 109h1v1h-1zM448 21h1v1h-1zM452 76h1v1h-1zM455 13h1v1h-1zM459 9h1v1h-1z"/>
<path fill="#0048f0" d="M302 9h1v1h-1zM309 13h1v1h-1zM311 21h1v1h-1zM311 28h1v1h-1zM312 19h1v1h-1zM318 21h1v1h-1zM320 44h1v1h-1zM322 29h1v1h-1zM322 36h1v1h-1zM323 43h1v1h-1zM325 54h1v1h-1zM326 43h1v1h-1zM326 107h1v1h-1zM327 63h1v1h-1zM327 64h1v1h-1zM328 92h1v1h-1zM329 54h1v1h-1zM329 78h1v1h-1zM329 96h1v1h-1zM330 77h1v1h-1zM330 84h1v1h-1zM330 91h1v1h-1zM331 60h1v1h-1zM332 63h1v1h-1zM332 98h1v1h-1zM332 106h1v1h-1zM332 140h1v1h-1zM333 81h1v1h-1zM334 74h1v1h-1zM334 83h1v1h-1zM335 166h1v1h-1zM336 89h1v1h-1zM336 110h1v1h-1zM336 113h1v1h-1zM337 112h1v1h-1zM337 126h1v1h-1zM338 112h1v1h-1zM338 120h1v1h-1zM338 123h1v1h-1zM339 132h1v1h-1zM339 154h1v1h-1zM340 137h1v1h-1zM342 163h1v1h-1zM344 163h1v1h-1zM345 170h1v1h-1zM348 175h1v1h-1zM348 176h1v1h-1zM348 198h1v1h-1zM349 197h1v1h-1zM351 189h1v1h-1zM352 191h1v1h-1zM352 196h1v1h-1zM354 192h1v1h-1zM357 205h1v1h-1zM357 206h1v1h-1zM360 228h1v1h-1zM361 215h1v1h-1zM361 219h1v1h-1zM362 216h1v1h-1zM362 231h1v1h-1zM365 228h1v1h-1zM366 230h1v1h-1zM369 231h1v1h-1zM371 232h1v1h-1zM372 232h1v1h-1zM383 241h1v1h-1zM390 238h1v1h-1zM392 234h1v1h-1zM401 227h1v1h-1zM405 213h1v1h-1zM408 208h1v1h-1zM408 219h1v1h-1zM409 206h1v1h-1zM410 200h1v1h-1zM412 199h1v1h-1zM413 194h1v1h-1zM414 193h1v1h-1zM416 193h1v1h-1zM417 188h1v1h-1zM418 189h1v1h-1zM419 173h1v1h-1zM421 176h1v1h-1zM422 171h1v1h-1zM422 172h1v1h-1zM422 183h1v1h-1zM423 163h1v1h-1zM423 171h1v1h-1zM425 147h1v1h-1zM425 176h1v1h-1zM427 127h1v1h-1zM428 132h1v1h-1zM428 141h1v1h-1zM428 157h1v1h-1zM428 182h1v1h-1zM429 117h1v1h-1zM429 129h1v1h-1zM430 110h1v1h-1zM430 139h1v1h-1zM432 92h1v1h-1zM432 132h1v1h-1zM432 134h1v1h-1zM434 89h1v1h-1zM434 101h1v1h-1zM434 105h1v1h-1zM434 109h1v1h-1zM435 112h1v1h-1zM435 150h1v1h-1zM436 62h1v1h-1zM436 71h1v1h-1zM436 108h1v1h-1zM436 123h1v1h-1zM436 133h1v1h-1zM437 92h1v1h-1zM438 68h1v1h-1zM439 44h1v1h-1zM439 53h1v1h-1zM439 82h1v1h-1zM439 92h1v1h-1zM440 70h1v1h-1zM442 41h1v1h-1zM443 35h1v1h-1zM443 48h1v1h-1zM443 62h1v1h-1zM443 68h1v1h-1zM444 28h1v1h-1zM444 34h1v1h-1zM444 61h1v1h-1zM446 57h1v1h-1zM447 38h1v1h-1zM448 18h1v1h-1zM448 26h1v1h-1zM450 15h1v1h-1zM450 16h1v1h-1zM452 15h1v1h-1zM453 29h1v1h-1zM454 47h1v1h-1zM457 9h1v1h-1zM458 13h1v1h-1zM465 7h1v1h-1zM465 23h1v1h-1zM466 10h1v1h-1zM473 8h1v1h-1z"/>
<path fill="#30186a" d="M309 19h1v1h-1zM318 18h1v1h-1zM320 30h1v1h-1zM321 36h1v1h-1zM322 31h1v1h-1zM326 98h1v1h-1zM327 44h1v1h-1zM327 47h1v1h-1zM328 58h1v1h-1zM329 64h1v1h-1zM329 95h1v1h-1zM332 87h1v1h-1zM333 66h1v1h-1zM335 84h1v1h-1zM336 82h1v1h-1zM336 88h1v1h-1zM337 101h1v1h-1zM337 116h1v1h-1zM337 175h1v1h-1zM339 144h1v1h-1zM340 138h1v1h-1zM342 159h1v1h-1zM344 207h1v1h-1zM346 171h1v1h-1zM348 175h1v1h-1zM349 184h1v1h-1zM358 210h1v1h-1zM386 241h1v1h-1zM391 238h1v1h-1zM392 237h1v1h-1zM401 222h1v1h-1zM407 214h1v1h-1zM418 188h1v1h-1zM424 158h1v1h-1zM429 117h1v1h-1zM431 144h1v1h-1zM432 102h1v1h-1zM433 83h1v1h-1zM434 76h1v1h-1zM435 67h1v1h-1zM435 95h1v1h-1zM436 66h1v1h-1zM438 56h1v1h-1zM439 60h1v1h-1zM440 49h1v1h-1zM441 109h1v1h-1zM445 51h1v1h-1zM448 32h1v1h-1zM449 118h1v1h-1zM452 64h1v1h-1zM455 14h1v1h-1zM458 37h1v1h-1zM461 36h1v1h-1z"/>
<path fill="#0080ff" d="M296 5h1v1h-1zM305 8h1v1h-1zM312 17h1v1h-1zM316 23h1v1h-1zM317 30h1v1h-1zM320 25h1v1h-1zM322 100h1v1h-1zM322 147h1v1h-1zM325 98h1v1h-1zM327 53h1v1h-1zM328 117h1v1h-1zM328 124h1v1h-1zM328 137h1v1h-1zM334 145h1v1h-1zM336 110h1v1h-1zM336 136h1v1h-1zM337 114h1v1h-1zM338 110h1v1h-1zM340 135h1v1h-1zM341 140h1v1h-1zM341 150h1v1h-1zM344 158h1v1h-1zM345 163h1v1h-1zM352 203h1v1h-1zM354 195h1v1h-1zM354 198h1v1h-1zM355 201h1v1h-1zM357 209h1v1h-1zM368 225h1v1h-1zM368 230h1v1h-1zM369 232h1v1h-1zM372 234h1v1h-1zM380 241h1v1h-1zM384 241h1v1h-1zM389 239h1v1h-1zM399 225h1v1h-1zM408 214h1v1h-1zM408 219h1v1h-1zM409 210h1v1h-1zM412 200h1v1h-1zM414 190h1v1h-1zM415 189h1v1h-1zM417 214h1v1h-1zM422 167h1v1h-1zM422 174h1v1h-1zM423 166h1v1h-1zM424 179h1v1h-1zM430 111h1v1h-1zM431 115h1v1h-1zM433 99h1v1h-1zM435 79h1v1h-1zM435 116h1v1h-1zM437 78h1v1h-1zM437 101h1v1h-1zM438 67h1v1h-1zM438 145h1v1h-1zM439 49h1v1h-1zM441 39h1v1h-1zM441 88h1v1h-1zM441 98h1v1h-1zM441 135h1v1h-1zM443 27h1v1h-1zM443 45h1v1h-1zM445 55h1v1h-1zM446 52h1v1h-1zM450 30h1v1h-1zM454 41h1v1h-1zM458 23h1v1h-1zM460 15h1v1h-1zM464 41h1v1h-1zM467 6h1v1h-1z"/>
<path fill="#582030" d="M301 6h1v1h-1zM302 7h1v1h-1zM316 27h1v1h-1zM317 40h1v1h-1zM323 28h1v1h-1zM323 59h1v1h-1zM332 69h1v1h-1zM332 106h1v1h-1zM334 94h1v1h-1zM334 99h1v1h-1zM334 106h1v1h-1zM336 129h1v1h-1zM337 99h1v1h-1zM337 122h1v1h-1zM339 150h1v1h-1zM341 218h1v1h-1zM345 193h1v1h-1zM351 186h1v1h-1zM352 191h1v1h-1zM353 190h1v1h-1zM356 215h1v1h-1zM360 222h1v1h-1zM362 218h1v1h-1zM365 222h1v1h-1zM375 236h1v1h-1zM384 241h1v1h-1zM385 241h1v1h-1zM386 240h1v1h-1zM391 243h1v1h-1zM393 234h1v1h-1zM400 222h1v1h-1zM406 214h1v1h-1zM407 209h1v1h-1zM413 199h1v1h-1zM417 180h1v1h-1zM423 175h1v1h-1zM424 173h1v1h-1zM430 108h1v1h-1zM433 87h1v1h-1zM438 75h1v1h-1zM439 79h1v1h-1zM442 54h1v1h-1zM444 75h1v1h-1zM445 21h1v1h-1zM448 64h1v1h-1zM449 24h1v1h-1zM450 78h1v1h-1zM451 13h1v1h-1zM458 15h1v1h-1zM458 88h1v1h-1z"/>
<path fill="#0058ff" d="M302 20h1v1h-1zM304 15h1v1h-1zM305 26h1v1h-1zM309 17h1v1h-1zM316 15h1v1h-1zM319 24h1v1h-1zM319 30h1v1h-1zM321 37h1v1h-1zM321 90h1v1h-1zM322 30h1v1h-1zM323 45h1v1h-1zM326 47h1v1h-1zM326 69h1v1h-1zM326 83h1v1h-1zM327 98h1v1h-1zM327 115h1v1h-1zM328 60h1v1h-1zM329 61h1v1h-1zM330 78h1v1h-1zM331 66h1v1h-1zM331 75h1v1h-1zM332 76h1v1h-1zM332 81h1v1h-1zM333 164h1v1h-1zM334 85h1v1h-1zM334 86h1v1h-1zM334 130h1v1h-1zM335 91h1v1h-1zM335 108h1v1h-1zM336 85h1v1h-1zM337 118h1v1h-1zM337 122h1v1h-1zM338 127h1v1h-1zM339 122h1v1h-1zM339 134h1v1h-1zM339 139h1v1h-1zM341 147h1v1h-1zM341 159h1v1h-1zM344 158h1v1h-1zM344 168h1v1h-1zM345 163h1v1h-1zM345 168h1v1h-1zM349 181h1v1h-1zM349 184h1v1h-1zM350 220h1v1h-1zM351 185h1v1h-1zM355 200h1v1h-1zM355 201h1v1h-1zM357 205h1v1h-1zM359 209h1v1h-1zM359 212h1v1h-1zM366 223h1v1h-1zM367 224h1v1h-1zM370 229h1v1h-1zM380 241h1v1h-1zM382 241h1v1h-1zM387 239h1v1h-1zM392 236h1v1h-1zM394 232h1v1h-1zM395 232h1v1h-1zM397 228h1v1h-1zM407 208h1v1h-1zM408 208h1v1h-1zM409 206h1v1h-1zM416 185h1v1h-1zM419 179h1v1h-1zM421 173h1v1h-1zM423 161h1v1h-1zM423 162h1v1h-1zM426 167h1v1h-1zM430 132h1v1h-1zM431 123h1v1h-1zM432 155h1v1h-1zM433 115h1v1h-1zM434 84h1v1h-1zM434 102h1v1h-1zM434 149h1v1h-1zM435 72h1v1h-1zM435 107h1v1h-1zM437 62h1v1h-1zM437 76h1v1h-1zM439 44h1v1h-1zM442 33h1v1h-1zM444 33h1v1h-1zM444 41h1v1h-1zM445 61h1v1h-1zM446 23h1v1h-1zM446 26h1v1h-1zM447 41h1v1h-1zM448 44h1v1h-1zM448 87h1v1h-1zM450 20h1v1h-1zM450 21h1v1h-1zM452 35h1v1h-1zM454 30h1v1h-1zM461 32h1v1h-1zM462 8h1v1h-1z"/>
<path fill="#00d0ff" d="M313 12h1v1h-1zM320 54h1v1h-1zM322 40h1v1h-1zM331 81h1v1h-1zM335 97h1v1h-1zM338 107h1v1h-1zM340 128h1v1h-1zM340 132h1v1h-1zM341 166h1v1h-1zM342 161h1v1h-1zM345 173h1v1h-1zM345 175h1v1h-1zM354 212h1v1h-1zM357 206h1v1h-1zM369 233h1v1h-1zM382 243h1v1h-1zM405 215h1v1h-1zM408 209h1v1h-1zM410 203h1v1h-1zM413 201h1v1h-1zM417 195h1v1h-1zM423 178h1v1h-1zM426 152h1v1h-1zM426 155h1v1h-1zM427 131h1v1h-1zM432 89h1v1h-1zM434 79h1v1h-1zM434 102h1v1h-1zM436 146h1v1h-1zM438 67h1v1h-1zM439 59h1v1h-1zM440 72h1v1h-1zM441 33h1v1h-1zM456 9h1v1h-1zM458 33h1v1h-1zM465 7h1v1h-1z"/>
<path fill="#00a8ff" d="M318 34h1v1h-1zM318 35h1v1h-1zM324 41h1v1h-1zM325 42h1v1h-1zM325 71h1v1h-1zM325 77h1v1h-1zM326 48h1v1h-1zM327 68h1v1h-1zM328 83h1v1h-1zM330 89h1v1h-1zM332 127h1v1h-1zM336 127h1v1h-1zM338 149h1v1h-1zM342 147h1v1h-1zM343 157h1v1h-1zM348 183h1v1h-1zM350 201h1v1h-1zM355 201h1v1h-1zM401 224h1v1h-1zM409 204h1v1h-1zM412 206h1v1h-1zM418 184h1v1h-1zM418 191h1v1h-1zM421 167h1v1h-1zM421 174h1v1h-1zM426 136h1v1h-1zM427 136h1v1h-1zM427 139h1v1h-1zM428 121h1v1h-1zM429 132h1v1h-1zM430 147h1v1h-1zM430 168h1v1h-1zM432 92h1v1h-1zM432 153h1v1h-1zM434 145h1v1h-1zM435 83h1v1h-1zM437 88h1v1h-1zM438 54h1v1h-1zM438 78h1v1h-1zM439 87h1v1h-1zM439 113h1v1h-1zM440 59h1v1h-1zM440 61h1v1h-1zM441 53h1v1h-1zM441 123h1v1h-1zM445 23h1v1h-1zM445 24h1v1h-1zM449 60h1v1h-1zM454 38h1v1h-1zM462 25h1v1h-1z"/>
<path fill="#40ffb0" d="M314 18h1v1h-1zM325 54h1v1h-1zM325 77h1v1h-1zM334 161h1v1h-1zM335 82h1v1h-1zM342 155h1v1h-1zM413 204h1v1h-1zM420 174h1v1h-1zM431 97h1v1h-1zM431 105h1v1h-1zM440 52h1v1h-1zM442 85h1v1h-1zM445 57h1v1h-1zM445 98h1v1h-1zM463 7h1v1h-1z"/>
<path fill="#ffd800" d="M309 14h1v1h-1zM325 42h1v1h-1zM330 59h1v1h-1zM342 144h1v1h-1zM348 175h1v1h-1zM411 203h1v1h-1zM412 208h1v1h-1zM419 186h1v1h-1zM428 133h1v1h-1zM429 121h1v1h-1zM435 85h1v1h-1zM441 88h1v1h-1zM467 13h1v1h-1z"/>
<path fill="#0030c0" d="M300 5h1v1h-1zM309 9h1v1h-1zM317 15h1v1h-1zM319 20h1v1h-1zM322 22h1v1h-1zM324 29h1v1h-1zM328 41h1v1h-1zM330 58h1v1h-1zM331 55h1v1h-1zM333 66h1v1h-1zM336 79h1v1h-1zM336 81h1v1h-1zM336 89h1v1h-1zM337 114h1v1h-1zM338 99h1v1h-1zM338 105h1v1h-1zM338 116h1v1h-1zM338 118h1v1h-1zM340 125h1v1h-1zM340 126h1v1h-1zM340 129h1v1h-1zM340 130h1v1h-1zM341 137h1v1h-1zM341 142h1v1h-1zM342 144h1v1h-1zM343 149h1v1h-1zM350 185h1v1h-1zM353 192h1v1h-1zM354 192h1v1h-1zM355 198h1v1h-1zM356 197h1v1h-1zM363 217h1v1h-1zM367 223h1v1h-1zM370 230h1v1h-1zM371 231h1v1h-1zM392 235h1v1h-1zM401 224h1v1h-1zM413 194h1v1h-1zM415 190h1v1h-1zM416 183h1v1h-1zM417 186h1v1h-1zM419 174h1v1h-1zM421 164h1v1h-1zM421 166h1v1h-1zM422 160h1v1h-1zM422 167h1v1h-1zM423 163h1v1h-1zM424 147h1v1h-1zM425 139h1v1h-1zM426 135h1v1h-1zM428 112h1v1h-1zM428 116h1v1h-1zM428 118h1v1h-1zM428 121h1v1h-1zM429 104h1v1h-1zM429 108h1v1h-1zM430 95h1v1h-1zM430 97h1v1h-1zM430 100h1v1h-1zM430 107h1v1h-1zM431 85h1v1h-1zM431 91h1v1h-1zM431 111h1v1h-1zM432 82h1v1h-1zM433 80h1v1h-1zM436 65h1v1h-1zM436 67h1v1h-1zM439 38h1v1h-1zM439 39h1v1h-1zM439 46h1v1h-1zM440 36h1v1h-1zM442 32h1v1h-1zM444 21h1v1h-1zM444 22h1v1h-1zM463 6h1v1h-1z"/>
<path fill="#ffa000" d="M328 45h1v1h-1zM328 47h1v1h-1zM329 56h1v1h-1zM330 52h1v1h-1zM332 63h1v1h-1zM332 72h1v1h-1zM334 68h1v1h-1zM334 74h1v1h-1zM334 76h1v1h-1zM339 113h1v1h-1zM339 135h1v1h-1zM340 119h1v1h-1zM340 128h1v1h-1zM344 153h1v1h-1zM344 158h1v1h-1zM344 164h1v1h-1zM352 190h1v1h-1zM359 211h1v1h-1zM372 233h1v1h-1zM373 232h1v1h-1zM374 235h1v1h-1zM392 236h1v1h-1zM397 227h1v1h-1zM402 219h1v1h-1zM406 210h1v1h-1zM411 197h1v1h-1zM412 198h1v1h-1zM414 188h1v1h-1zM416 181h1v1h-1zM422 165h1v1h-1zM423 154h1v1h-1zM426 139h1v1h-1zM428 126h1v1h-1zM429 116h1v1h-1zM430 104h1v1h-1zM433 76h1v1h-1zM436 57h1v1h-1zM436 63h1v1h-1zM441 37h1v1h-1zM442 34h1v1h-1zM443 25h1v1h-1zM448 16h1v1h-1zM466 5h1v1h-1z"/>
<path fill="#a02000" d="M308 9h1v1h-1zM315 14h1v1h-1zM320 21h1v1h-1zM330 57h1v1h-1zM334 72h1v1h-1zM336 103h1v1h-1zM337 90h1v1h-1zM338 98h1v1h-1zM338 104h1v1h-1zM338 113h1v1h-1zM339 105h1v1h-1zM339 107h1v1h-1zM340 120h1v1h-1zM341 139h1v1h-1zM343 154h1v1h-1zM347 169h1v1h-1zM348 175h1v1h-1zM351 184h1v1h-1zM352 186h1v1h-1zM352 192h1v1h-1zM365 224h1v1h-1zM388 238h1v1h-1zM394 231h1v1h-1zM394 233h1v1h-1zM397 229h1v1h-1zM409 205h1v1h-1zM415 188h1v1h-1zM418 177h1v1h-1zM421 167h1v1h-1zM423 151h1v1h-1zM427 133h1v1h-1zM428 114h1v1h-1zM429 119h1v1h-1zM432 80h1v1h-1zM435 67h1v1h-1zM436 59h1v1h-1zM436 66h1v1h-1zM437 52h1v1h-1zM438 47h1v1h-1zM439 47h1v1h-1zM444 25h1v1h-1zM446 20h1v1h-1zM467 5h1v1h-1z"/>
<path fill="#00c0ff" d="M303 6h1v1h-1zM310 9h1v1h-1zM311 10h1v1h-1zM314 12h1v1h-1zM315 15h1v1h-1zM317 18h1v1h-1zM325 39h1v1h-1zM326 38h1v1h-1zM329 54h1v1h-1zM333 63h1v1h-1zM334 84h1v1h-1zM335 75h1v1h-1zM336 85h1v1h-1zM337 88h1v1h-1zM339 134h1v1h-1zM340 121h1v1h-1zM341 130h1v1h-1zM341 141h1v1h-1zM342 136h1v1h-1zM342 143h1v1h-1zM342 154h1v1h-1zM345 159h1v1h-1zM346 171h1v1h-1zM348 181h1v1h-1zM352 189h1v1h-1zM353 194h1v1h-1zM362 214h1v1h-1zM362 217h1v1h-1zM364 220h1v1h-1zM366 221h1v1h-1zM378 237h1v1h-1zM385 240h1v1h-1zM390 236h1v1h-1zM401 223h1v1h-1zM408 207h1v1h-1zM416 182h1v1h-1zM416 184h1v1h-1zM419 175h1v1h-1zM420 171h1v1h-1zM421 163h1v1h-1zM424 148h1v1h-1zM424 156h1v1h-1zM426 131h1v1h-1zM427 123h1v1h-1zM427 143h1v1h-1zM428 125h1v1h-1zM428 130h1v1h-1zM429 113h1v1h-1zM430 101h1v1h-1zM434 73h1v1h-1zM435 77h1v1h-1zM437 60h1v1h-1zM438 44h1v1h-1zM441 32h1v1h-1zM460 7h1v1h-1z"/>
<path fill="#0040e8" d="M322 23h1v1h-1zM323 29h1v1h-1zM323 33h1v1h-1zM324 28h1v1h-1zM324 31h1v1h-1zM326 40h1v1h-1zM327 44h1v1h-1zM329 45h1v1h-1zM330 50h1v1h-1zM331 61h1v1h-1zM332 61h1v1h-1zM335 77h1v1h-1zM335 84h1v1h-1zM337 86h1v1h-1zM337 93h1v1h-1zM337 94h1v1h-1zM337 100h1v1h-1zM337 105h1v1h-1zM338 92h1v1h-1zM338 109h1v1h-1zM339 112h1v1h-1zM339 119h1v1h-1zM340 118h1v1h-1zM340 144h1v1h-1zM341 150h1v1h-1zM342 142h1v1h-1zM343 147h1v1h-1zM344 154h1v1h-1zM345 158h1v1h-1zM345 160h1v1h-1zM345 161h1v1h-1zM345 166h1v1h-1zM345 167h1v1h-1zM346 165h1v1h-1zM350 181h1v1h-1zM355 199h1v1h-1zM356 199h1v1h-1zM356 200h1v1h-1zM357 201h1v1h-1zM358 207h1v1h-1zM360 209h1v1h-1zM360 211h1v1h-1zM361 212h1v1h-1zM362 216h1v1h-1zM368 225h1v1h-1zM377 237h1v1h-1zM391 235h1v1h-1zM392 234h1v1h-1zM396 230h1v1h-1zM400 221h1v1h-1zM400 225h1v1h-1zM401 222h1v1h-1zM406 209h1v1h-1zM407 208h1v1h-1zM409 202h1v1h-1zM413 197h1v1h-1zM415 192h1v1h-1zM417 181h1v1h-1zM417 182h1v1h-1zM417 184h1v1h-1zM421 168h1v1h-1zM422 168h1v1h-1zM423 152h1v1h-1zM425 142h1v1h-1zM425 143h1v1h-1zM426 129h1v1h-1zM426 141h1v1h-1zM427 121h1v1h-1zM428 132h1v1h-1zM429 124h1v1h-1zM430 94h1v1h-1zM431 102h1v1h-1zM432 83h1v1h-1zM432 90h1v1h-1zM432 100h1v1h-1zM433 75h1v1h-1zM433 77h1v1h-1zM434 77h1v1h-1zM435 61h1v1h-1zM436 58h1v1h-1zM437 48h1v1h-1zM437 65h1v1h-1zM440 35h1v1h-1zM440 42h1v1h-1zM441 31h1v1h-1zM441 33h1v1h-1zM441 35h1v1h-1zM444 27h1v1h-1zM447 18h1v1h-1zM450 15h1v1h-1zM453 10h1v1h-1zM462 6h1v1h-1z"/>
<path fill="#0060ff" d="M310 10h1v1h-1zM314 13h1v1h-1zM315 13h1v1h-1zM316 14h1v1h-1zM320 20h1v1h-1zM321 21h1v1h-1zM321 24h1v1h-1zM325 31h1v1h-1zM326 39h1v1h-1zM329 48h1v1h-1zM329 57h1v1h-1zM330 54h1v1h-1zM330 55h1v1h-1zM331 53h1v1h-1zM331 56h1v1h-1zM332 58h1v1h-1zM333 70h1v1h-1zM333 71h1v1h-1zM333 74h1v1h-1zM334 70h1v1h-1zM334 73h1v1h-1zM334 79h1v1h-1zM335 74h1v1h-1zM335 80h1v1h-1zM337 89h1v1h-1zM337 91h1v1h-1zM337 103h1v1h-1zM338 101h1v1h-1zM338 102h1v1h-1zM339 106h1v1h-1zM339 121h1v1h-1zM340 127h1v1h-1zM340 132h1v1h-1zM341 132h1v1h-1zM342 138h1v1h-1zM344 162h1v1h-1zM346 168h1v1h-1zM347 171h1v1h-1zM348 177h1v1h-1zM355 200h1v1h-1zM357 200h1v1h-1zM359 212h1v1h-1zM362 218h1v1h-1zM364 222h1v1h-1zM380 238h1v1h-1zM401 221h1v1h-1zM405 217h1v1h-1zM409 203h1v1h-1zM411 203h1v1h-1zM415 185h1v1h-1zM416 185h1v1h-1zM416 186h1v1h-1zM418 180h1v1h-1zM420 168h1v1h-1zM420 169h1v1h-1zM422 158h1v1h-1zM425 156h1v1h-1zM426 132h1v1h-1zM426 136h1v1h-1zM427 128h1v1h-1zM429 106h1v1h-1zM430 119h1v1h-1zM431 86h1v1h-1zM431 89h1v1h-1zM431 99h1v1h-1zM432 84h1v1h-1zM434 69h1v1h-1zM434 76h1v1h-1zM435 62h1v1h-1zM435 71h1v1h-1zM435 73h1v1h-1zM435 78h1v1h-1zM438 46h1v1h-1zM438 48h1v1h-1zM438 50h1v1h-1zM440 40h1v1h-1zM441 36h1v1h-1zM441 38h1v1h-1zM442 31h1v1h-1zM445 23h1v1h-1zM454 11h1v1h-1zM458 8h1v1h-1z"/>
<path fill="#0090ff" d="M319 18h1v1h-1zM327 39h1v1h-1zM327 47h1v1h-1zM328 51h1v1h-1zM330 56h1v1h-1zM333 65h1v1h-1zM334 69h1v1h-1zM335 83h1v1h-1zM337 99h1v1h-1zM338 100h1v1h-1zM338 112h1v1h-1zM339 114h1v1h-1zM343 145h1v1h-1zM346 163h1v1h-1zM346 167h1v1h-1zM354 191h1v1h-1zM354 195h1v1h-1zM356 202h1v1h-1zM361 210h1v1h-1zM376 237h1v1h-1zM391 237h1v1h-1zM393 234h1v1h-1zM396 229h1v1h-1zM399 223h1v1h-1zM402 218h1v1h-1zM403 215h1v1h-1zM404 217h1v1h-1zM406 214h1v1h-1zM407 209h1v1h-1zM409 206h1v1h-1zM411 195h1v1h-1zM411 198h1v1h-1zM412 195h1v1h-1zM414 190h1v1h-1zM416 187h1v1h-1zM416 188h1v1h-1zM418 176h1v1h-1zM418 179h1v1h-1zM420 172h1v1h-1zM423 153h1v1h-1zM424 145h1v1h-1zM427 124h1v1h-1zM429 110h1v1h-1zM429 118h1v1h-1zM430 105h1v1h-1zM431 90h1v1h-1zM431 95h1v1h-1zM431 103h1v1h-1zM434 68h1v1h-1zM434 70h1v1h-1zM436 53h1v1h-1zM439 40h1v1h-1zM442 28h1v1h-1zM442 33h1v1h-1zM447 17h1v1h-1zM452 11h1v1h-1zM460 8h1v1h-1z"/>
<path fill="#90ff70" d="M312 12h1v1h-1zM327 38h1v1h-1zM353 188h1v1h-1zM364 218h1v1h-1zM383 240h1v1h-1zM407 207h1v1h-1zM414 189h1v1h-1zM422 166h1v1h-1zM425 138h1v1h-1zM426 144h1v1h-1zM427 125h1v1h-1zM427 138h1v1h-1zM428 127h1v1h-1zM432 89h1v1h-1z"/>
<path fill="#30f0d0" d="M314 14h1v1h-1zM337 102h1v1h-1zM341 133h1v1h-1zM344 163h1v1h-1zM348 172h1v1h-1zM349 180h1v1h-1zM349 181h1v1h-1zM351 182h1v1h-1zM363 216h1v1h-1zM374 234h1v1h-1zM410 202h1v1h-1zM411 200h1v1h-1zM418 182h1v1h-1zM423 156h1v1h-1zM425 140h1v1h-1zM432 95h1v1h-1zM434 72h1v1h-1zM436 56h1v1h-1zM437 66h1v1h-1z"/>
<path fill="#ff5000" d="M321 22h1v1h-1zM323 27h1v1h-1zM329 47h1v1h-1zM335 81h1v1h-1zM337 92h1v1h-1zM337 101h1v1h-1zM340 139h1v1h-1zM349 178h1v1h-1zM353 196h1v1h-1zM357 202h1v1h-1zM386 239h1v1h-1zM404 213h1v1h-1zM413 190h1v1h-1zM425 148h1v1h-1zM430 112h1v1h-1zM431 93h1v1h-1zM431 96h1v1h-1zM439 43h1v1h-1zM442 35h1v1h-1z"/>
<path fill="#ffe000" d="M327 41h1v1h-1zM329 46h1v1h-1zM342 141h1v1h-1zM350 184h1v1h-1zM372 231h1v1h-1zM420 170h1v1h-1zM425 147h1v1h-1zM430 96h1v1h-1zM433 79h1v1h-1zM442 29h1v1h-1z"/>
</g>
<path d="M309.5 4.95 L310.0 4.97 L310.5 4.99 L311.0 5.01 L311.5 5.03 L312.0 5.05 L312.5 5.07 L313.0 5.10 L313.5 5.13 L314.0 5.16 L314.5 5.20 L315.0 5.23 L315.5 5.28 L316.0 5.32 L316.5 5.37 L317.0 5.42 L317.5 5.48 L318.0 5.54 L318.5 5.61 L319.0 5.68 L319.5 5.76 L320.0 5.84 L320.5 5.94 L321.0 6.03 L321.5 6.14 L322.0 6.26 L322.5 6.38 L323.0 6.51 L323.5 6.65 L324.0 6.81 L324.5 6.97 L325.0 7.15 L325.5 7.34 L326.0 7.54 L326.5 7.76 L327.0 7.99 L327.5 8.24 L328.0 8.50 L328.5 8.79 L329.0 9.09 L329.5 9.41 L330.0 9.75 L330.5 10.12 L331.0 10.50 L331.5 10.91 L332.0 11.35 L332.5 11.81 L333.0 12.30 L333.5 12.82 L334.0 13.38 L334.5 13.96 L335.0 14.57 L335.5 15.22 L336.0 15.91 L336.5 16.63 L337.0 17.39 L337.5 18.19 L338.0 19.04 L338.5 19.93 L339.0 20.86 L339.5 21.83 L340.0 22.86 L340.5 23.93 L341.0 25.06 L341.5 26.24 L342.0 27.47 L342.5 28.75 L343.0 30.09 L343.5 31.49 L344.0 32.95 L344.5 34.47 L345.0 36.05 L345.5 37.69 L346.0 39.40 L346.5 41.17 L347.0 43.00 L347.5 44.91 L348.0 46.87 L348.5 48.91 L349.0 51.02 L349.5 53.19 L350.0 55.43 L350.5 57.74 L351.0 60.12 L351.5 62.57 L352.0 65.09 L352.5 67.68 L353.0 70.33 L353.5 73.06 L354.0 75.84 L354.5 78.70 L355.0 81.62 L355.5 84.60 L356.0 87.64 L356.5 90.74 L357.0 93.90 L357.5 97.11 L358.0 100.38 L358.5 103.70 L359.0 107.06 L359.5 110.47 L360.0 113.92 L360.5 117.42 L361.0 120.94 L361.5 124.50 L362.0 128.09 L362.5 131.70 L363.0 135.33 L363.5 138.97 L364.0 142.63 L364.5 146.29 L365.0 149.96 L365.5 153.62 L366.0 157.28 L366.5 160.92 L367.0 164.54 L367.5 168.14 L368.0 171.71 L368.5 175.25 L369.0 178.75 L369.5 182.20 L370.0 185.60 L370.5 188.95 L371.0 192.24 L371.5 195.46 L372.0 198.60 L372.5 201.67 L373.0 204.66 L373.5 207.56 L374.0 210.36 L374.5 213.07 L375.0 215.67 L375.5 218.17 L376.0 220.56 L376.5 222.82 L377.0 224.97 L377.5 226.99 L378.0 228.88 L378.5 230.64 L379.0 232.27 L379.5 233.75 L380.0 235.10 L380.5 236.30 L381.0 237.35 L381.5 238.25 L382.0 239.00 L382.5 239.61 L383.0 240.05 L383.5 240.35 L384.0 240.49 L384.5 240.47 L385.0 240.30 L385.5 239.98 L386.0 239.50 L386.5 238.87 L387.0 238.08 L387.5 237.15 L388.0 236.07 L388.5 234.84 L389.0 233.47 L389.5 231.95 L390.0 230.30 L390.5 228.51 L391.0 226.60 L391.5 224.55 L392.0 222.38 L392.5 220.09 L393.0 217.68 L393.5 215.16 L394.0 212.54 L394.5 209.81 L395.0 206.99 L395.5 204.07 L396.0 201.07 L396.5 197.98 L397.0 194.82 L397.5 191.59 L398.0 188.29 L398.5 184.93 L399.0 181.52 L399.5 178.05 L400.0 174.55 L400.5 171.00 L401.0 167.42 L401.5 163.82 L402.0 160.19 L402.5 156.55 L403.0 152.89 L403.5 149.23 L404.0 145.56 L404.5 141.90 L405.0 138.24 L405.5 134.60 L406.0 130.97 L406.5 127.37 L407.0 123.79 L407.5 120.23 L408.0 116.71 L408.5 113.23 L409.0 109.79 L409.5 106.38 L410.0 103.03 L410.5 99.72 L411.0 96.46 L411.5 93.26 L412.0 90.11 L412.5 87.02 L413.0 83.99 L413.5 81.03 L414.0 78.12 L414.5 75.28 L415.0 72.51 L415.5 69.80 L416.0 67.16 L416.5 64.58 L417.0 62.08 L417.5 59.64 L418.0 57.28 L418.5 54.98 L419.0 52.75 L419.5 50.59 L420.0 48.50 L420.5 46.47 L421.0 44.52 L421.5 42.63 L422.0 40.81 L422.5 39.05 L423.0 37.36 L423.5 35.73 L424.0 34.16 L424.5 32.65 L425.0 31.21 L425.5 29.82 L426.0 28.49 L426.5 27.22 L427.0 26.00 L427.5 24.83 L428.0 23.72 L428.5 22.65 L429.0 21.63 L429.5 20.67 L430.0 19.74 L430.5 18.87 L431.0 18.03 L431.5 17.24 L432.0 16.48 L432.5 15.77 L433.0 15.09 L433.5 14.45 L434.0 13.84 L434.5 13.26 L435.0 12.72 L435.5 12.20 L436.0 11.72 L436.5 11.26 L437.0 10.83 L437.5 10.42 L438.0 10.04 L438.5 9.68 L439.0 9.34 L439.5 9.03 L440.0 8.73 L440.5 8.45 L441.0 8.19 L441.5 7.94 L442.0 7.71 L442.5 7.50 L443.0 7.30 L443.5 7.11 L444.0 6.94 L444.5 6.78 L445.0 6.63 L445.5 6.48 L446.0 6.35 L446.5 6.23 L447.0 6.12 L447.5 6.01 L448.0 5.92 L448.5 5.83 L449.0 5.74 L449.5 5.67 L450.0 5.59 L450.5 5.53 L451.0 5.47 L451.5 5.41 L452.0 5.36 L452.5 5.31 L453.0 5.27 L453.5 5.23 L454.0 5.19 L454.5 5.15 L455.0 5.12 L455.5 5.09 L456.0 5.07 L456.5 5.04 L457.0 5.02 L457.5 5.00 L458.0 4.98 L458.5 4.97 L459.0 4.95" fill="none" stroke="#d08c8c" stroke-width="2.2" stroke-linejoin="round"/>
<path d="M309.5 4.95 L310.0 4.97 L310.5 4.99 L311.0 5.01 L311.5 5.03 L312.0 5.05 L312.5 5.07 L313.0 5.10 L313.5 5.13 L314.0 5.16 L314.5 5.20 L315.0 5.23 L315.5 5.28 L316.0 5.32 L316.5 5.37 L317.0 5.42 L317.5 5.48 L318.0 5.54 L318.5 5.61 L319.0 5.68 L319.5 5.76 L320.0 5.84 L320.5 5.94 L321.0 6.03 L321.5 6.14 L322.0 6.26 L322.5 6.38 L323.0 6.51 L323.5 6.65 L324.0 6.81 L324.5 6.97 L325.0 7.15 L325.5 7.34 L326.0 7.54 L326.5 7.76 L327.0 7.99 L327.5 8.24 L328.0 8.50 L328.5 8.79 L329.0 9.09 L329.5 9.41 L330.0 9.75 L330.5 10.12 L331.0 10.50 L331.5 10.91 L332.0 11.35 L332.5 11.81 L333.0 12.30 L333.5 12.82 L334.0 13.38 L334.5 13.96 L335.0 14.57 L335.5 15.22 L336.0 15.91 L336.5 16.63 L337.0 17.39 L337.5 18.19 L338.0 19.04 L338.5 19.93 L339.0 20.86 L339.5 21.83 L340.0 22.86 L340.5 23.93 L341.0 25.06 L341.5 26.24 L342.0 27.47 L342.5 28.75 L343.0 30.09 L343.5 31.49 L344.0 32.95 L344.5 34.47 L345.0 36.05 L345.5 37.69 L346.0 39.40 L346.5 41.17 L347.0 43.00 L347.5 44.91 L348.0 46.87 L348.5 48.91 L349.0 51.02 L349.5 53.19 L350.0 55.43 L350.5 57.74 L351.0 60.12 L351.5 62.57 L352.0 65.09 L352.5 67.68 L353.0 70.33 L353.5 73.06 L354.0 75.84 L354.5 78.70 L355.0 81.62 L355.5 84.60 L356.0 87.64 L356.5 90.74 L357.0 93.90 L357.5 97.11 L358.0 100.38 L358.5 103.70 L359.0 107.06 L359.5 110.47 L360.0 113.92 L360.5 117.42 L361.0 120.94 L361.5 124.50 L362.0 128.09 L362.5 131.70 L363.0 135.33 L363.5 138.97 L364.0 142.63 L364.5 146.29 L365.0 149.96 L365.5 153.62 L366.0 157.28 L366.5 160.92 L367.0 164.54 L367.5 168.14 L368.0 171.71 L368.5 175.25 L369.0 178.75 L369.5 182.20 L370.0 185.60 L370.5 188.95 L371.0 192.24 L371.5 195.46 L372.0 198.60 L372.5 201.67 L373.0 204.66 L373.5 207.56 L374.0 210.36 L374.5 213.07 L375.0 215.67 L375.5 218.17 L376.0 220.56 L376.5 222.82 L377.0 224.97 L377.5 226.99 L378.0 228.88 L378.5 230.64 L379.0 232.27 L379.5 233.75 L380.0 235.10 L380.5 236.30 L381.0 237.35 L381.5 238.25 L382.0 239.00 L382.5 239.61 L383.0 240.05 L383.5 240.35 L384.0 240.49 L384.5 240.47 L385.0 240.30 L385.5 239.98 L386.0 239.50 L386.5 238.87 L387.0 238.08 L387.5 237.15 L388.0 236.07 L388.5 234.84 L389.0 233.47 L389.5 231.95 L390.0 230.30 L390.5 228.51 L391.0 226.60 L391.5 224.55 L392.0 222.38 L392.5 220.09 L393.0 217.68 L393.5 215.16 L394.0 212.54 L394.5 209.81 L395.0 206.99 L395.5 204.07 L396.0 201.07 L396.5 197.98 L397.0 194.82 L397.5 191.59 L398.0 188.29 L398.5 184.93 L399.0 181.52 L399.5 178.05 L400.0 174.55 L400.5 171.00 L401.0 167.42 L401.5 163.82 L402.0 160.19 L402.5 156.55 L403.0 152.89 L403.5 149.23 L404.0 145.56 L404.5 141.90 L405.0 138.24 L405.5 134.60 L406.0 130.97 L406.5 127.37 L407.0 123.79 L407.5 120.23 L408.0 116.71 L408.5 113.23 L409.0 109.79 L409.5 106.38 L410.0 103.03 L410.5 99.72 L411.0 96.46 L411.5 93.26 L412.0 90.11 L412.5 87.02 L413.0 83.99 L413.5 81.03 L414.0 78.12 L414.5 75.28 L415.0 72.51 L415.5 69.80 L416.0 67.16 L416.5 64.58 L417.0 62.08 L417.5 59.64 L418.0 57.28 L418.5 54.98 L419.0 52.75 L419.5 50.59 L420.0 48.50 L420.5 46.47 L421.0 44.52 L421.5 42.63 L422.0 40.81 L422.5 39.05 L423.0 37.36 L423.5 35.73 L424.0 34.16 L424.5 32.65 L425.0 31.21 L425.5 29.82 L426.0 28.49 L426.5 27.22 L427.0 26.00 L427.5 24.83 L428.0 23.72 L428.5 22.65 L429.0 21.63 L429.5 20.67 L430.0 19.74 L430.5 18.87 L431.0 18.03 L431.5 17.24 L432.0 16.48 L432.5 15.77 L433.0 15.09 L433.5 14.45 L434.0 13.84 L434.5 13.26 L435.0 12.72 L435.5 12.20 L436.0 11.72 L436.5 11.26 L437.0 10.83 L437.5 10.42 L438.0 10.04 L438.5 9.68 L439.0 9.34 L439.5 9.03 L440.0 8.73 L440.5 8.45 L441.0 8.19 L441.5 7.94 L442.0 7.71 L442.5 7.50 L443.0 7.30 L443.5 7.11 L444.0 6.94 L444.5 6.78 L445.0 6.63 L445.5 6.48 L446.0 6.35 L446.5 6.23 L447.0 6.12 L447.5 6.01 L448.0 5.92 L448.5 5.83 L449.0 5.74 L449.5 5.67 L450.0 5.59 L450.5 5.53 L451.0 5.47 L451.5 5.41 L452.0 5.36 L452.5 5.31 L453.0 5.27 L453.5 5.23 L454.0 5.19 L454.5 5.15 L455.0 5.12 L455.5 5.09 L456.0 5.07 L456.5 5.04 L457.0 5.02 L457.5 5.00 L458.0 4.98 L458.5 4.97 L459.0 4.95" fill="none" stroke="#fae0e0" stroke-width="1.3" stroke-dasharray="1.2 1.0" stroke-linejoin="round"/>
<rect x="294.5" y="4.5" width="179.4" height="343.0" fill="none" stroke="#000030" stroke-opacity="0.65" stroke-width="1"/>
</g>
<g id="panel-c">
<clipPath id="cpc"><rect x="541.7" y="4.0" width="180.3" height="344.0"/></clipPath>
<rect x="541.7" y="4.0" width="180.3" height="344.0" fill="#00007f"/>
<path d="M541.7 4.0 L541.7 4.5 L541.9 5.5 L542.0 6.5 L542.2 7.5 L542.9 8.5 L543.9 9.5 L544.9 10.5 L545.9 11.5 L546.8 12.5 L547.8 13.5 L548.8 14.5 L549.8 15.5 L550.5 16.5 L551.1 17.5 L551.7 18.5 L552.3 19.5 L553.0 20.5 L553.6 21.5 L554.2 22.5 L554.8 23.5 L555.4 24.5 L556.0 25.5 L556.6 26.5 L557.3 27.5 L557.9 28.5 L558.3 29.5 L558.6 30.5 L558.9 31.5 L559.2 32.5 L559.5 33.5 L559.8 34.5 L560.2 35.5 L560.5 36.5 L560.8 37.5 L561.1 38.5 L561.4 39.5 L561.8 40.5 L562.1 41.5 L562.4 42.5 L562.7 43.5 L563.0 44.5 L563.2 45.5 L563.5 46.5 L563.7 47.5 L563.9 48.5 L564.1 49.5 L564.3 50.5 L564.6 51.5 L564.8 52.5 L565.0 53.5 L565.2 54.5 L565.4 55.5 L565.6 56.5 L565.9 57.5 L566.1 58.5 L566.3 59.5 L566.5 60.5 L566.7 61.5 L567.0 62.5 L567.1 63.5 L567.3 64.5 L567.4 65.5 L567.6 66.5 L567.7 67.5 L567.9 68.5 L568.0 69.5 L568.2 70.5 L568.3 71.5 L568.4 72.5 L568.6 73.5 L568.7 74.5 L568.9 75.5 L569.0 76.5 L569.2 77.5 L569.3 78.5 L569.5 79.5 L569.6 80.5 L569.7 81.5 L569.8 82.5 L569.9 83.5 L570.0 84.5 L570.1 85.5 L570.2 86.5 L570.3 87.5 L570.4 88.5 L570.5 89.5 L570.6 90.5 L570.7 91.5 L570.8 92.5 L570.9 93.5 L571.0 94.5 L571.1 95.5 L571.2 96.5 L571.3 97.5 L571.4 98.5 L571.5 99.5 L571.6 100.5 L571.7 101.5 L571.8 102.5 L572.0 103.5 L572.1 104.5 L572.2 105.5 L572.4 106.5 L572.5 107.5 L572.6 108.5 L572.7 109.5 L572.9 110.5 L573.0 111.5 L573.1 112.5 L573.3 113.5 L573.4 114.5 L573.5 115.5 L573.6 116.5 L573.8 117.5 L573.9 118.5 L574.0 119.5 L574.1 120.5 L574.1 121.5 L574.2 122.5 L574.4 123.5 L574.5 124.5 L574.6 125.5 L574.6 126.5 L574.8 127.5 L574.9 128.5 L575.0 129.5 L575.1 130.5 L575.2 131.5 L575.2 132.5 L575.4 133.5 L575.5 134.5 L575.6 135.5 L575.7 136.5 L575.8 137.5 L575.9 138.5 L576.0 139.5 L576.1 140.5 L576.2 141.5 L576.2 142.5 L576.4 143.5 L576.5 144.5 L576.6 145.5 L576.6 146.5 L576.8 147.5 L576.9 148.5 L577.0 149.5 L577.0 150.5 L577.1 151.5 L577.2 152.5 L577.4 153.5 L577.5 154.5 L577.5 155.5 L577.6 156.5 L577.8 157.5 L577.9 158.5 L577.9 159.5 L578.0 160.5 L578.1 161.5 L578.2 162.5 L578.4 163.5 L578.5 164.5 L578.6 165.5 L578.7 166.5 L578.8 167.5 L578.9 168.5 L579.1 169.5 L579.2 170.5 L579.3 171.5 L579.4 172.5 L579.5 173.5 L579.7 174.5 L579.8 175.5 L579.9 176.5 L580.0 177.5 L580.1 178.5 L580.2 179.5 L580.4 180.5 L580.6 181.5 L580.7 182.5 L580.9 183.5 L581.1 184.5 L581.3 185.5 L581.4 186.5 L581.6 187.5 L581.8 188.5 L582.0 189.5 L582.1 190.5 L582.3 191.5 L582.5 192.5 L582.7 193.5 L582.9 194.5 L583.0 195.5 L583.2 196.5 L583.4 197.5 L583.6 198.5 L583.7 199.5 L583.9 200.5 L584.1 201.5 L584.3 202.5 L584.6 203.5 L584.8 204.5 L585.0 205.5 L585.2 206.5 L585.5 207.5 L585.7 208.5 L585.9 209.5 L586.2 210.5 L586.4 211.5 L586.6 212.5 L586.8 213.5 L587.1 214.5 L587.3 215.5 L587.5 216.5 L587.7 217.5 L588.0 218.5 L588.2 219.5 L588.4 220.5 L588.6 221.5 L588.9 222.5 L589.1 223.5 L589.3 224.5 L589.6 225.5 L589.9 226.5 L590.2 227.5 L590.4 228.5 L590.7 229.5 L591.0 230.5 L591.3 231.5 L591.5 232.5 L591.8 233.5 L592.1 234.5 L592.4 235.5 L592.6 236.5 L592.9 237.5 L593.2 238.5 L593.5 239.5 L593.7 240.5 L594.0 241.5 L594.3 242.5 L594.6 243.5 L594.8 244.5 L595.1 245.5 L595.4 246.5 L595.7 247.5 L595.9 248.5 L596.2 249.5 L596.5 250.5 L596.8 251.5 L597.1 252.5 L597.4 253.5 L597.6 254.5 L597.9 255.5 L598.2 256.5 L598.5 257.5 L598.8 258.5 L599.1 259.5 L599.4 260.5 L599.8 261.5 L600.1 262.5 L600.5 263.5 L600.9 264.5 L601.2 265.5 L601.6 266.5 L602.0 267.5 L602.3 268.5 L602.7 269.5 L603.1 270.5 L603.4 271.5 L603.8 272.5 L604.2 273.5 L604.6 274.5 L605.1 275.5 L605.5 276.5 L605.9 277.5 L606.3 278.5 L606.7 279.5 L607.2 280.5 L607.6 281.5 L608.0 282.5 L608.4 283.5 L608.8 284.5 L609.3 285.5 L609.7 286.5 L610.1 287.5 L610.5 288.5 L611.1 289.5 L611.7 290.5 L612.3 291.5 L612.9 292.5 L613.5 293.5 L614.1 294.5 L614.6 295.5 L615.2 296.5 L615.8 297.5 L616.4 298.5 L617.0 299.5 L617.6 300.5 L618.2 301.5 L619.1 302.5 L620.0 303.5 L621.0 304.5 L622.0 305.5 L622.9 306.5 L623.9 307.5 L624.8 308.5 L625.8 309.5 L627.1 310.5 L628.5 311.5 L629.9 312.5 L631.3 313.5 L631.9 313.8 L632.1 313.5 L633.5 312.5 L634.9 311.5 L636.3 310.5 L637.6 309.5 L638.4 308.5 L639.2 307.5 L640.1 306.5 L640.9 305.5 L641.7 304.5 L642.6 303.5 L643.4 302.5 L644.2 301.5 L644.8 300.5 L645.3 299.5 L645.9 298.5 L646.5 297.5 L647.1 296.5 L647.7 295.5 L648.2 294.5 L648.8 293.5 L649.4 292.5 L650.0 291.5 L650.6 290.5 L651.1 289.5 L651.7 288.5 L652.1 287.5 L652.5 286.5 L652.9 285.5 L653.3 284.5 L653.7 283.5 L654.0 282.5 L654.4 281.5 L654.8 280.5 L655.2 279.5 L655.6 278.5 L656.0 277.5 L656.4 276.5 L656.8 275.5 L657.2 274.5 L657.6 273.5 L658.0 272.5 L658.3 271.5 L658.6 270.5 L658.9 269.5 L659.3 268.5 L659.6 267.5 L659.9 266.5 L660.2 265.5 L660.5 264.5 L660.9 263.5 L661.2 262.5 L661.5 261.5 L661.8 260.5 L662.1 259.5 L662.4 258.5 L662.6 257.5 L662.9 256.5 L663.1 255.5 L663.4 254.5 L663.6 253.5 L663.9 252.5 L664.1 251.5 L664.4 250.5 L664.6 249.5 L664.9 248.5 L665.1 247.5 L665.4 246.5 L665.6 245.5 L665.9 244.5 L666.1 243.5 L666.4 242.5 L666.7 241.5 L666.9 240.5 L667.2 239.5 L667.4 238.5 L667.7 237.5 L667.9 236.5 L668.2 235.5 L668.4 234.5 L668.7 233.5 L668.9 232.5 L669.2 231.5 L669.4 230.5 L669.7 229.5 L670.0 228.5 L670.2 227.5 L670.5 226.5 L670.7 225.5 L671.0 224.5 L671.2 223.5 L671.5 222.5 L671.7 221.5 L672.0 220.5 L672.2 219.5 L672.5 218.5 L672.7 217.5 L673.0 216.5 L673.2 215.5 L673.5 214.5 L673.7 213.5 L673.9 212.5 L674.2 211.5 L674.4 210.5 L674.7 209.5 L674.9 208.5 L675.2 207.5 L675.4 206.5 L675.7 205.5 L675.9 204.5 L676.2 203.5 L676.4 202.5 L676.7 201.5 L676.9 200.5 L677.1 199.5 L677.3 198.5 L677.4 197.5 L677.6 196.5 L677.8 195.5 L678.0 194.5 L678.2 193.5 L678.3 192.5 L678.5 191.5 L678.7 190.5 L678.9 189.5 L679.1 188.5 L679.2 187.5 L679.4 186.5 L679.6 185.5 L679.8 184.5 L680.0 183.5 L680.1 182.5 L680.3 181.5 L680.5 180.5 L680.7 179.5 L680.8 178.5 L681.0 177.5 L681.2 176.5 L681.3 175.5 L681.5 174.5 L681.7 173.5 L681.8 172.5 L682.0 171.5 L682.2 170.5 L682.3 169.5 L682.5 168.5 L682.7 167.5 L682.8 166.5 L683.0 165.5 L683.2 164.5 L683.3 163.5 L683.4 162.5 L683.5 161.5 L683.6 160.5 L683.8 159.5 L683.9 158.5 L683.9 157.5 L684.0 156.5 L684.1 155.5 L684.2 154.5 L684.4 153.5 L684.5 152.5 L684.5 151.5 L684.6 150.5 L684.8 149.5 L684.9 148.5 L685.0 147.5 L685.0 146.5 L685.1 145.5 L685.2 144.5 L685.4 143.5 L685.5 142.5 L685.5 141.5 L685.6 140.5 L685.7 139.5 L685.8 138.5 L685.9 137.5 L686.0 136.5 L686.1 135.5 L686.2 134.5 L686.3 133.5 L686.3 132.5 L686.4 131.5 L686.5 130.5 L686.6 129.5 L686.7 128.5 L686.8 127.5 L686.9 126.5 L687.0 125.5 L687.0 124.5 L687.1 123.5 L687.2 122.5 L687.3 121.5 L687.4 120.5 L687.5 119.5 L687.6 118.5 L687.7 117.5 L687.8 116.5 L687.9 115.5 L688.0 114.5 L688.1 113.5 L688.3 112.5 L688.4 111.5 L688.6 110.5 L688.7 109.5 L688.8 108.5 L689.0 107.5 L689.1 106.5 L689.2 105.5 L689.4 104.5 L689.5 103.5 L689.7 102.5 L689.8 101.5 L689.9 100.5 L690.1 99.5 L690.2 98.5 L690.3 97.5 L690.4 96.5 L690.5 95.5 L690.6 94.5 L690.7 93.5 L690.8 92.5 L690.9 91.5 L691.0 90.5 L691.1 89.5 L691.2 88.5 L691.3 87.5 L691.4 86.5 L691.5 85.5 L691.6 84.5 L691.7 83.5 L691.8 82.5 L691.9 81.5 L692.1 80.5 L692.2 79.5 L692.4 78.5 L692.6 77.5 L692.7 76.5 L692.9 75.5 L693.1 74.5 L693.2 73.5 L693.4 72.5 L693.6 71.5 L693.7 70.5 L693.9 69.5 L694.0 68.5 L694.2 67.5 L694.4 66.5 L694.5 65.5 L694.7 64.5 L694.9 63.5 L695.0 62.5 L695.3 61.5 L695.5 60.5 L695.7 59.5 L695.9 58.5 L696.1 57.5 L696.4 56.5 L696.6 55.5 L696.8 54.5 L697.0 53.5 L697.2 52.5 L697.4 51.5 L697.7 50.5 L697.9 49.5 L698.1 48.5 L698.3 47.5 L698.5 46.5 L698.8 45.5 L699.0 44.5 L699.3 43.5 L699.6 42.5 L700.0 41.5 L700.3 40.5 L700.7 39.5 L701.0 38.5 L701.3 37.5 L701.7 36.5 L702.0 35.5 L702.3 34.5 L702.7 33.5 L703.0 32.5 L703.4 31.5 L703.7 30.5 L704.0 29.5 L704.4 28.5 L705.0 27.5 L705.6 26.5 L706.2 25.5 L706.8 24.5 L707.4 23.5 L708.0 22.5 L708.6 21.5 L709.2 20.5 L709.7 19.5 L710.3 18.5 L710.9 17.5 L711.5 16.5 L712.2 15.5 L713.4 14.5 L714.6 13.5 L715.8 12.5 L716.9 11.5 L718.1 10.5 L719.3 9.5 L720.5 8.5 L721.4 7.5 L721.6 6.5 L721.8 5.5 L722.0 4.5 L722.0 4.0Z" fill="none" stroke="#0030e0" stroke-opacity="0.14" stroke-width="12" filter="url(#hz)" clip-path="url(#cpc)"/>
<path d="M541.7 4.0 L541.7 4.5 L541.9 5.5 L542.0 6.5 L542.2 7.5 L542.9 8.5 L543.9 9.5 L544.9 10.5 L545.9 11.5 L546.8 12.5 L547.8 13.5 L548.8 14.5 L549.8 15.5 L550.5 16.5 L551.1 17.5 L551.7 18.5 L552.3 19.5 L553.0 20.5 L553.6 21.5 L554.2 22.5 L554.8 23.5 L555.4 24.5 L556.0 25.5 L556.6 26.5 L557.3 27.5 L557.9 28.5 L558.3 29.5 L558.6 30.5 L558.9 31.5 L559.2 32.5 L559.5 33.5 L559.8 34.5 L560.2 35.5 L560.5 36.5 L560.8 37.5 L561.1 38.5 L561.4 39.5 L561.8 40.5 L562.1 41.5 L562.4 42.5 L562.7 43.5 L563.0 44.5 L563.2 45.5 L563.5 46.5 L563.7 47.5 L563.9 48.5 L564.1 49.5 L564.3 50.5 L564.6 51.5 L564.8 52.5 L565.0 53.5 L565.2 54.5 L565.4 55.5 L565.6 56.5 L565.9 57.5 L566.1 58.5 L566.3 59.5 L566.5 60.5 L566.7 61.5 L567.0 62.5 L567.1 63.5 L567.3 64.5 L567.4 65.5 L567.6 66.5 L567.7 67.5 L567.9 68.5 L568.0 69.5 L568.2 70.5 L568.3 71.5 L568.4 72.5 L568.6 73.5 L568.7 74.5 L568.9 75.5 L569.0 76.5 L569.2 77.5 L569.3 78.5 L569.5 79.5 L569.6 80.5 L569.7 81.5 L569.8 82.5 L569.9 83.5 L570.0 84.5 L570.1 85.5 L570.2 86.5 L570.3 87.5 L570.4 88.5 L570.5 89.5 L570.6 90.5 L570.7 91.5 L570.8 92.5 L570.9 93.5 L571.0 94.5 L571.1 95.5 L571.2 96.5 L571.3 97.5 L571.4 98.5 L571.5 99.5 L571.6 100.5 L571.7 101.5 L571.8 102.5 L572.0 103.5 L572.1 104.5 L572.2 105.5 L572.4 106.5 L572.5 107.5 L572.6 108.5 L572.7 109.5 L572.9 110.5 L573.0 111.5 L573.1 112.5 L573.3 113.5 L573.4 114.5 L573.5 115.5 L573.6 116.5 L573.8 117.5 L573.9 118.5 L574.0 119.5 L574.1 120.5 L574.1 121.5 L574.2 122.5 L574.4 123.5 L574.5 124.5 L574.6 125.5 L574.6 126.5 L574.8 127.5 L574.9 128.5 L575.0 129.5 L575.1 130.5 L575.2 131.5 L575.2 132.5 L575.4 133.5 L575.5 134.5 L575.6 135.5 L575.7 136.5 L575.8 137.5 L575.9 138.5 L576.0 139.5 L576.1 140.5 L576.2 141.5 L576.2 142.5 L576.4 143.5 L576.5 144.5 L576.6 145.5 L576.6 146.5 L576.8 147.5 L576.9 148.5 L577.0 149.5 L577.0 150.5 L577.1 151.5 L577.2 152.5 L577.4 153.5 L577.5 154.5 L577.5 155.5 L577.6 156.5 L577.8 157.5 L577.9 158.5 L577.9 159.5 L578.0 160.5 L578.1 161.5 L578.2 162.5 L578.4 163.5 L578.5 164.5 L578.6 165.5 L578.7 166.5 L578.8 167.5 L578.9 168.5 L579.1 169.5 L579.2 170.5 L579.3 171.5 L579.4 172.5 L579.5 173.5 L579.7 174.5 L579.8 175.5 L579.9 176.5 L580.0 177.5 L580.1 178.5 L580.2 179.5 L580.4 180.5 L580.6 181.5 L580.7 182.5 L580.9 183.5 L581.1 184.5 L581.3 185.5 L581.4 186.5 L581.6 187.5 L581.8 188.5 L582.0 189.5 L582.1 190.5 L582.3 191.5 L582.5 192.5 L582.7 193.5 L582.9 194.5 L583.0 195.5 L583.2 196.5 L583.4 197.5 L583.6 198.5 L583.7 199.5 L583.9 200.5 L584.1 201.5 L584.3 202.5 L584.6 203.5 L584.8 204.5 L585.0 205.5 L585.2 206.5 L585.5 207.5 L585.7 208.5 L585.9 209.5 L586.2 210.5 L586.4 211.5 L586.6 212.5 L586.8 213.5 L587.1 214.5 L587.3 215.5 L587.5 216.5 L587.7 217.5 L588.0 218.5 L588.2 219.5 L588.4 220.5 L588.6 221.5 L588.9 222.5 L589.1 223.5 L589.3 224.5 L589.6 225.5 L589.9 226.5 L590.2 227.5 L590.4 228.5 L590.7 229.5 L591.0 230.5 L591.3 231.5 L591.5 232.5 L591.8 233.5 L592.1 234.5 L592.4 235.5 L592.6 236.5 L592.9 237.5 L593.2 238.5 L593.5 239.5 L593.7 240.5 L594.0 241.5 L594.3 242.5 L594.6 243.5 L594.8 244.5 L595.1 245.5 L595.4 246.5 L595.7 247.5 L595.9 248.5 L596.2 249.5 L596.5 250.5 L596.8 251.5 L597.1 252.5 L597.4 253.5 L597.6 254.5 L597.9 255.5 L598.2 256.5 L598.5 257.5 L598.8 258.5 L599.1 259.5 L599.4 260.5 L599.8 261.5 L600.1 262.5 L600.5 263.5 L600.9 264.5 L601.2 265.5 L601.6 266.5 L602.0 267.5 L602.3 268.5 L602.7 269.5 L603.1 270.5 L603.4 271.5 L603.8 272.5 L604.2 273.5 L604.6 274.5 L605.1 275.5 L605.5 276.5 L605.9 277.5 L606.3 278.5 L606.7 279.5 L607.2 280.5 L607.6 281.5 L608.0 282.5 L608.4 283.5 L608.8 284.5 L609.3 285.5 L609.7 286.5 L610.1 287.5 L610.5 288.5 L611.1 289.5 L611.7 290.5 L612.3 291.5 L612.9 292.5 L613.5 293.5 L614.1 294.5 L614.6 295.5 L615.2 296.5 L615.8 297.5 L616.4 298.5 L617.0 299.5 L617.6 300.5 L618.2 301.5 L619.1 302.5 L620.0 303.5 L621.0 304.5 L622.0 305.5 L622.9 306.5 L623.9 307.5 L624.8 308.5 L625.8 309.5 L627.1 310.5 L628.5 311.5 L629.9 312.5 L631.3 313.5 L631.9 313.8 L632.1 313.5 L633.5 312.5 L634.9 311.5 L636.3 310.5 L637.6 309.5 L638.4 308.5 L639.2 307.5 L640.1 306.5 L640.9 305.5 L641.7 304.5 L642.6 303.5 L643.4 302.5 L644.2 301.5 L644.8 300.5 L645.3 299.5 L645.9 298.5 L646.5 297.5 L647.1 296.5 L647.7 295.5 L648.2 294.5 L648.8 293.5 L649.4 292.5 L650.0 291.5 L650.6 290.5 L651.1 289.5 L651.7 288.5 L652.1 287.5 L652.5 286.5 L652.9 285.5 L653.3 284.5 L653.7 283.5 L654.0 282.5 L654.4 281.5 L654.8 280.5 L655.2 279.5 L655.6 278.5 L656.0 277.5 L656.4 276.5 L656.8 275.5 L657.2 274.5 L657.6 273.5 L658.0 272.5 L658.3 271.5 L658.6 270.5 L658.9 269.5 L659.3 268.5 L659.6 267.5 L659.9 266.5 L660.2 265.5 L660.5 264.5 L660.9 263.5 L661.2 262.5 L661.5 261.5 L661.8 260.5 L662.1 259.5 L662.4 258.5 L662.6 257.5 L662.9 256.5 L663.1 255.5 L663.4 254.5 L663.6 253.5 L663.9 252.5 L664.1 251.5 L664.4 250.5 L664.6 249.5 L664.9 248.5 L665.1 247.5 L665.4 246.5 L665.6 245.5 L665.9 244.5 L666.1 243.5 L666.4 242.5 L666.7 241.5 L666.9 240.5 L667.2 239.5 L667.4 238.5 L667.7 237.5 L667.9 236.5 L668.2 235.5 L668.4 234.5 L668.7 233.5 L668.9 232.5 L669.2 231.5 L669.4 230.5 L669.7 229.5 L670.0 228.5 L670.2 227.5 L670.5 226.5 L670.7 225.5 L671.0 224.5 L671.2 223.5 L671.5 222.5 L671.7 221.5 L672.0 220.5 L672.2 219.5 L672.5 218.5 L672.7 217.5 L673.0 216.5 L673.2 215.5 L673.5 214.5 L673.7 213.5 L673.9 212.5 L674.2 211.5 L674.4 210.5 L674.7 209.5 L674.9 208.5 L675.2 207.5 L675.4 206.5 L675.7 205.5 L675.9 204.5 L676.2 203.5 L676.4 202.5 L676.7 201.5 L676.9 200.5 L677.1 199.5 L677.3 198.5 L677.4 197.5 L677.6 196.5 L677.8 195.5 L678.0 194.5 L678.2 193.5 L678.3 192.5 L678.5 191.5 L678.7 190.5 L678.9 189.5 L679.1 188.5 L679.2 187.5 L679.4 186.5 L679.6 185.5 L679.8 184.5 L680.0 183.5 L680.1 182.5 L680.3 181.5 L680.5 180.5 L680.7 179.5 L680.8 178.5 L681.0 177.5 L681.2 176.5 L681.3 175.5 L681.5 174.5 L681.7 173.5 L681.8 172.5 L682.0 171.5 L682.2 170.5 L682.3 169.5 L682.5 168.5 L682.7 167.5 L682.8 166.5 L683.0 165.5 L683.2 164.5 L683.3 163.5 L683.4 162.5 L683.5 161.5 L683.6 160.5 L683.8 159.5 L683.9 158.5 L683.9 157.5 L684.0 156.5 L684.1 155.5 L684.2 154.5 L684.4 153.5 L684.5 152.5 L684.5 151.5 L684.6 150.5 L684.8 149.5 L684.9 148.5 L685.0 147.5 L685.0 146.5 L685.1 145.5 L685.2 144.5 L685.4 143.5 L685.5 142.5 L685.5 141.5 L685.6 140.5 L685.7 139.5 L685.8 138.5 L685.9 137.5 L686.0 136.5 L686.1 135.5 L686.2 134.5 L686.3 133.5 L686.3 132.5 L686.4 131.5 L686.5 130.5 L686.6 129.5 L686.7 128.5 L686.8 127.5 L686.9 126.5 L687.0 125.5 L687.0 124.5 L687.1 123.5 L687.2 122.5 L687.3 121.5 L687.4 120.5 L687.5 119.5 L687.6 118.5 L687.7 117.5 L687.8 116.5 L687.9 115.5 L688.0 114.5 L688.1 113.5 L688.3 112.5 L688.4 111.5 L688.6 110.5 L688.7 109.5 L688.8 108.5 L689.0 107.5 L689.1 106.5 L689.2 105.5 L689.4 104.5 L689.5 103.5 L689.7 102.5 L689.8 101.5 L689.9 100.5 L690.1 99.5 L690.2 98.5 L690.3 97.5 L690.4 96.5 L690.5 95.5 L690.6 94.5 L690.7 93.5 L690.8 92.5 L690.9 91.5 L691.0 90.5 L691.1 89.5 L691.2 88.5 L691.3 87.5 L691.4 86.5 L691.5 85.5 L691.6 84.5 L691.7 83.5 L691.8 82.5 L691.9 81.5 L692.1 80.5 L692.2 79.5 L692.4 78.5 L692.6 77.5 L692.7 76.5 L692.9 75.5 L693.1 74.5 L693.2 73.5 L693.4 72.5 L693.6 71.5 L693.7 70.5 L693.9 69.5 L694.0 68.5 L694.2 67.5 L694.4 66.5 L694.5 65.5 L694.7 64.5 L694.9 63.5 L695.0 62.5 L695.3 61.5 L695.5 60.5 L695.7 59.5 L695.9 58.5 L696.1 57.5 L696.4 56.5 L696.6 55.5 L696.8 54.5 L697.0 53.5 L697.2 52.5 L697.4 51.5 L697.7 50.5 L697.9 49.5 L698.1 48.5 L698.3 47.5 L698.5 46.5 L698.8 45.5 L699.0 44.5 L699.3 43.5 L699.6 42.5 L700.0 41.5 L700.3 40.5 L700.7 39.5 L701.0 38.5 L701.3 37.5 L701.7 36.5 L702.0 35.5 L702.3 34.5 L702.7 33.5 L703.0 32.5 L703.4 31.5 L703.7 30.5 L704.0 29.5 L704.4 28.5 L705.0 27.5 L705.6 26.5 L706.2 25.5 L706.8 24.5 L707.4 23.5 L708.0 22.5 L708.6 21.5 L709.2 20.5 L709.7 19.5 L710.3 18.5 L710.9 17.5 L711.5 16.5 L712.2 15.5 L713.4 14.5 L714.6 13.5 L715.8 12.5 L716.9 11.5 L718.1 10.5 L719.3 9.5 L720.5 8.5 L721.4 7.5 L721.6 6.5 L721.8 5.5 L722.0 4.5 L722.0 4.0Z" fill="#6c0000"/>
<g filter="url(#nb)">
<path fill="#00a8ff" d="M549 38h1v1h-1zM552 40h1v1h-1zM553 35h1v1h-1zM554 40h1v1h-1zM556 38h1v1h-1zM559 72h1v1h-1zM560 38h1v1h-1zM561 60h1v1h-1zM562 90h1v1h-1zM562 117h1v1h-1zM564 98h1v1h-1zM565 71h1v1h-1zM565 121h1v1h-1zM568 90h1v1h-1zM568 123h1v1h-1zM568 139h1v1h-1zM569 147h1v1h-1zM571 116h1v1h-1zM572 125h1v1h-1zM573 123h1v1h-1zM576 147h1v1h-1zM587 219h1v1h-1zM591 236h1v1h-1zM596 260h1v1h-1zM603 281h1v1h-1zM608 285h1v1h-1zM609 300h1v1h-1zM620 307h1v1h-1zM627 313h1v1h-1zM663 272h1v1h-1zM664 262h1v1h-1zM665 255h1v1h-1zM668 257h1v1h-1zM670 238h1v1h-1zM672 232h1v1h-1zM676 209h1v1h-1zM676 222h1v1h-1zM680 188h1v1h-1zM681 195h1v1h-1zM685 155h1v1h-1zM687 136h1v1h-1zM688 163h1v1h-1zM688 193h1v1h-1zM689 123h1v1h-1zM691 128h1v1h-1zM691 172h1v1h-1zM692 118h1v1h-1zM696 102h1v1h-1zM696 122h1v1h-1zM697 90h1v1h-1zM698 51h1v1h-1zM698 52h1v1h-1zM698 118h1v1h-1zM700 47h1v1h-1zM701 57h1v1h-1zM702 68h1v1h-1zM705 30h1v1h-1zM706 34h1v1h-1zM706 37h1v1h-1zM707 28h1v1h-1zM708 48h1v1h-1zM712 55h1v1h-1zM713 18h1v1h-1zM713 32h1v1h-1zM719 12h1v1h-1z"/>
<path fill="#7a3010" d="M550 19h1v1h-1zM551 21h1v1h-1zM558 31h1v1h-1zM558 41h1v1h-1zM560 43h1v1h-1zM562 50h1v1h-1zM566 131h1v1h-1zM567 75h1v1h-1zM567 83h1v1h-1zM567 164h1v1h-1zM569 108h1v1h-1zM570 106h1v1h-1zM571 122h1v1h-1zM572 120h1v1h-1zM572 123h1v1h-1zM572 182h1v1h-1zM576 190h1v1h-1zM579 191h1v1h-1zM581 200h1v1h-1zM581 235h1v1h-1zM583 209h1v1h-1zM585 224h1v1h-1zM591 261h1v1h-1zM594 244h1v1h-1zM594 269h1v1h-1zM597 254h1v1h-1zM603 284h1v1h-1zM608 285h1v1h-1zM613 301h1v1h-1zM658 274h1v1h-1zM659 274h1v1h-1zM665 270h1v1h-1zM672 233h1v1h-1zM673 243h1v1h-1zM674 232h1v1h-1zM675 219h1v1h-1zM677 206h1v1h-1zM682 187h1v1h-1zM687 134h1v1h-1zM687 145h1v1h-1zM690 140h1v1h-1zM693 108h1v1h-1zM694 71h1v1h-1zM695 101h1v1h-1zM696 93h1v1h-1zM697 62h1v1h-1zM698 67h1v1h-1zM699 63h1v1h-1zM700 56h1v1h-1zM700 59h1v1h-1zM702 48h1v1h-1zM704 32h1v1h-1zM709 33h1v1h-1zM711 112h1v1h-1z"/>
<path fill="#0048f0" d="M545 13h1v1h-1zM547 20h1v1h-1zM549 17h1v1h-1zM549 29h1v1h-1zM550 21h1v1h-1zM550 24h1v1h-1zM551 39h1v1h-1zM551 88h1v1h-1zM553 30h1v1h-1zM554 31h1v1h-1zM555 57h1v1h-1zM556 34h1v1h-1zM558 36h1v1h-1zM558 42h1v1h-1zM558 47h1v1h-1zM559 35h1v1h-1zM559 56h1v1h-1zM559 152h1v1h-1zM560 44h1v1h-1zM561 43h1v1h-1zM561 103h1v1h-1zM562 53h1v1h-1zM563 66h1v1h-1zM566 85h1v1h-1zM566 98h1v1h-1zM567 64h1v1h-1zM568 72h1v1h-1zM568 117h1v1h-1zM568 122h1v1h-1zM568 141h1v1h-1zM568 157h1v1h-1zM568 159h1v1h-1zM569 88h1v1h-1zM569 177h1v1h-1zM570 134h1v1h-1zM570 179h1v1h-1zM571 105h1v1h-1zM572 147h1v1h-1zM572 148h1v1h-1zM572 195h1v1h-1zM573 140h1v1h-1zM573 159h1v1h-1zM574 144h1v1h-1zM575 182h1v1h-1zM576 149h1v1h-1zM576 160h1v1h-1zM576 180h1v1h-1zM576 182h1v1h-1zM576 211h1v1h-1zM577 167h1v1h-1zM577 179h1v1h-1zM577 182h1v1h-1zM577 192h1v1h-1zM578 172h1v1h-1zM578 181h1v1h-1zM578 183h1v1h-1zM578 184h1v1h-1zM578 189h1v1h-1zM579 183h1v1h-1zM579 195h1v1h-1zM580 185h1v1h-1zM580 190h1v1h-1zM580 197h1v1h-1zM581 195h1v1h-1zM581 202h1v1h-1zM585 213h1v1h-1zM585 215h1v1h-1zM585 220h1v1h-1zM586 216h1v1h-1zM586 219h1v1h-1zM588 244h1v1h-1zM589 261h1v1h-1zM589 264h1v1h-1zM591 233h1v1h-1zM591 239h1v1h-1zM591 249h1v1h-1zM592 240h1v1h-1zM592 261h1v1h-1zM593 242h1v1h-1zM593 248h1v1h-1zM593 259h1v1h-1zM594 242h1v1h-1zM594 246h1v1h-1zM594 248h1v1h-1zM595 252h1v1h-1zM596 251h1v1h-1zM599 270h1v1h-1zM599 275h1v1h-1zM600 265h1v1h-1zM602 273h1v1h-1zM603 280h1v1h-1zM611 293h1v1h-1zM621 306h1v1h-1zM631 314h1v1h-1zM632 314h1v1h-1zM635 315h1v1h-1zM641 307h1v1h-1zM642 309h1v1h-1zM645 302h1v1h-1zM647 299h1v1h-1zM650 298h1v1h-1zM654 285h1v1h-1zM654 288h1v1h-1zM656 288h1v1h-1zM657 283h1v1h-1zM657 290h1v1h-1zM659 271h1v1h-1zM661 268h1v1h-1zM666 247h1v1h-1zM666 251h1v1h-1zM666 269h1v1h-1zM668 241h1v1h-1zM668 243h1v1h-1zM669 248h1v1h-1zM671 245h1v1h-1zM672 230h1v1h-1zM672 240h1v1h-1zM673 231h1v1h-1zM673 257h1v1h-1zM674 216h1v1h-1zM675 239h1v1h-1zM677 223h1v1h-1zM678 213h1v1h-1zM678 235h1v1h-1zM679 194h1v1h-1zM679 196h1v1h-1zM679 210h1v1h-1zM682 197h1v1h-1zM682 218h1v1h-1zM683 168h1v1h-1zM683 218h1v1h-1zM685 164h1v1h-1zM686 153h1v1h-1zM686 157h1v1h-1zM686 160h1v1h-1zM686 196h1v1h-1zM687 134h1v1h-1zM687 202h1v1h-1zM689 116h1v1h-1zM689 125h1v1h-1zM689 128h1v1h-1zM690 112h1v1h-1zM690 121h1v1h-1zM691 98h1v1h-1zM691 99h1v1h-1zM692 84h1v1h-1zM692 122h1v1h-1zM692 190h1v1h-1zM693 120h1v1h-1zM695 188h1v1h-1zM696 60h1v1h-1zM696 85h1v1h-1zM696 118h1v1h-1zM697 68h1v1h-1zM697 70h1v1h-1zM697 111h1v1h-1zM698 96h1v1h-1zM698 97h1v1h-1zM698 99h1v1h-1zM698 193h1v1h-1zM699 103h1v1h-1zM699 117h1v1h-1zM700 44h1v1h-1zM701 42h1v1h-1zM701 54h1v1h-1zM701 58h1v1h-1zM701 66h1v1h-1zM701 72h1v1h-1zM701 78h1v1h-1zM703 39h1v1h-1zM703 84h1v1h-1zM704 53h1v1h-1zM704 125h1v1h-1zM705 29h1v1h-1zM707 124h1v1h-1zM708 50h1v1h-1zM708 58h1v1h-1zM708 97h1v1h-1zM709 23h1v1h-1zM710 30h1v1h-1zM713 112h1v1h-1zM718 12h1v1h-1zM718 13h1v1h-1zM718 44h1v1h-1zM720 14h1v1h-1z"/>
<path fill="#0028c0" d="M543 14h1v1h-1zM543 38h1v1h-1zM543 63h1v1h-1zM544 29h1v1h-1zM545 13h1v1h-1zM547 13h1v1h-1zM548 26h1v1h-1zM548 27h1v1h-1zM550 17h1v1h-1zM551 60h1v1h-1zM553 41h1v1h-1zM553 51h1v1h-1zM554 32h1v1h-1zM554 34h1v1h-1zM554 39h1v1h-1zM555 25h1v1h-1zM555 44h1v1h-1zM555 83h1v1h-1zM555 116h1v1h-1zM556 42h1v1h-1zM556 67h1v1h-1zM556 103h1v1h-1zM557 31h1v1h-1zM557 47h1v1h-1zM557 57h1v1h-1zM558 111h1v1h-1zM559 35h1v1h-1zM559 40h1v1h-1zM559 42h1v1h-1zM559 45h1v1h-1zM559 66h1v1h-1zM559 83h1v1h-1zM559 85h1v1h-1zM559 89h1v1h-1zM559 127h1v1h-1zM559 136h1v1h-1zM560 41h1v1h-1zM560 50h1v1h-1zM561 44h1v1h-1zM561 49h1v1h-1zM561 113h1v1h-1zM562 123h1v1h-1zM562 152h1v1h-1zM563 56h1v1h-1zM563 64h1v1h-1zM563 76h1v1h-1zM563 83h1v1h-1zM564 61h1v1h-1zM564 63h1v1h-1zM564 84h1v1h-1zM564 99h1v1h-1zM564 114h1v1h-1zM565 64h1v1h-1zM565 73h1v1h-1zM565 130h1v1h-1zM566 62h1v1h-1zM566 115h1v1h-1zM566 191h1v1h-1zM567 88h1v1h-1zM567 137h1v1h-1zM568 79h1v1h-1zM568 94h1v1h-1zM568 103h1v1h-1zM568 109h1v1h-1zM568 178h1v1h-1zM569 80h1v1h-1zM569 89h1v1h-1zM569 102h1v1h-1zM569 133h1v1h-1zM569 135h1v1h-1zM569 168h1v1h-1zM570 121h1v1h-1zM570 122h1v1h-1zM570 124h1v1h-1zM570 126h1v1h-1zM570 136h1v1h-1zM571 124h1v1h-1zM571 141h1v1h-1zM571 143h1v1h-1zM571 187h1v1h-1zM571 207h1v1h-1zM572 120h1v1h-1zM572 149h1v1h-1zM572 159h1v1h-1zM573 121h1v1h-1zM573 143h1v1h-1zM573 146h1v1h-1zM573 152h1v1h-1zM573 163h1v1h-1zM574 124h1v1h-1zM574 147h1v1h-1zM574 154h1v1h-1zM574 170h1v1h-1zM574 186h1v1h-1zM575 139h1v1h-1zM575 150h1v1h-1zM575 179h1v1h-1zM575 185h1v1h-1zM575 194h1v1h-1zM577 171h1v1h-1zM577 190h1v1h-1zM577 191h1v1h-1zM577 213h1v1h-1zM578 162h1v1h-1zM578 168h1v1h-1zM578 188h1v1h-1zM578 191h1v1h-1zM579 177h1v1h-1zM579 179h1v1h-1zM579 182h1v1h-1zM579 204h1v1h-1zM580 186h1v1h-1zM580 191h1v1h-1zM580 192h1v1h-1zM580 197h1v1h-1zM580 198h1v1h-1zM580 208h1v1h-1zM581 196h1v1h-1zM582 191h1v1h-1zM582 207h1v1h-1zM582 209h1v1h-1zM583 207h1v1h-1zM584 204h1v1h-1zM584 223h1v1h-1zM584 233h1v1h-1zM585 210h1v1h-1zM587 243h1v1h-1zM588 239h1v1h-1zM589 229h1v1h-1zM589 245h1v1h-1zM591 255h1v1h-1zM591 256h1v1h-1zM592 235h1v1h-1zM592 241h1v1h-1zM595 259h1v1h-1zM596 253h1v1h-1zM598 258h1v1h-1zM598 259h1v1h-1zM600 286h1v1h-1zM601 278h1v1h-1zM606 283h1v1h-1zM606 288h1v1h-1zM607 284h1v1h-1zM608 290h1v1h-1zM608 297h1v1h-1zM609 291h1v1h-1zM610 290h1v1h-1zM610 294h1v1h-1zM611 301h1v1h-1zM614 302h1v1h-1zM616 299h1v1h-1zM618 302h1v1h-1zM618 303h1v1h-1zM618 305h1v1h-1zM621 305h1v1h-1zM621 306h1v1h-1zM631 314h1v1h-1zM632 314h1v1h-1zM632 315h1v1h-1zM633 314h1v1h-1zM641 312h1v1h-1zM644 302h1v1h-1zM644 304h1v1h-1zM644 305h1v1h-1zM647 299h1v1h-1zM647 302h1v1h-1zM649 299h1v1h-1zM652 295h1v1h-1zM652 296h1v1h-1zM653 290h1v1h-1zM654 285h1v1h-1zM654 292h1v1h-1zM657 282h1v1h-1zM658 275h1v1h-1zM659 272h1v1h-1zM661 271h1v1h-1zM663 266h1v1h-1zM664 257h1v1h-1zM664 274h1v1h-1zM665 260h1v1h-1zM665 265h1v1h-1zM666 250h1v1h-1zM666 265h1v1h-1zM666 268h1v1h-1zM667 246h1v1h-1zM667 277h1v1h-1zM668 246h1v1h-1zM669 252h1v1h-1zM670 234h1v1h-1zM670 238h1v1h-1zM671 226h1v1h-1zM671 231h1v1h-1zM671 232h1v1h-1zM671 259h1v1h-1zM672 245h1v1h-1zM673 234h1v1h-1zM674 223h1v1h-1zM675 215h1v1h-1zM676 208h1v1h-1zM678 220h1v1h-1zM679 197h1v1h-1zM679 202h1v1h-1zM679 204h1v1h-1zM679 210h1v1h-1zM681 185h1v1h-1zM682 174h1v1h-1zM682 176h1v1h-1zM682 199h1v1h-1zM682 206h1v1h-1zM682 214h1v1h-1zM683 182h1v1h-1zM683 219h1v1h-1zM684 162h1v1h-1zM684 187h1v1h-1zM684 193h1v1h-1zM686 141h1v1h-1zM686 146h1v1h-1zM686 170h1v1h-1zM687 129h1v1h-1zM687 143h1v1h-1zM687 152h1v1h-1zM687 176h1v1h-1zM687 185h1v1h-1zM687 195h1v1h-1zM688 124h1v1h-1zM688 131h1v1h-1zM688 146h1v1h-1zM689 128h1v1h-1zM689 136h1v1h-1zM689 146h1v1h-1zM690 102h1v1h-1zM690 111h1v1h-1zM690 114h1v1h-1zM690 120h1v1h-1zM690 128h1v1h-1zM690 132h1v1h-1zM690 159h1v1h-1zM691 93h1v1h-1zM691 116h1v1h-1zM692 87h1v1h-1zM692 96h1v1h-1zM693 89h1v1h-1zM693 119h1v1h-1zM693 123h1v1h-1zM693 133h1v1h-1zM694 78h1v1h-1zM695 77h1v1h-1zM695 81h1v1h-1zM695 83h1v1h-1zM695 87h1v1h-1zM695 137h1v1h-1zM695 151h1v1h-1zM695 159h1v1h-1zM697 64h1v1h-1zM697 70h1v1h-1zM697 81h1v1h-1zM697 147h1v1h-1zM698 57h1v1h-1zM698 109h1v1h-1zM698 125h1v1h-1zM699 50h1v1h-1zM699 63h1v1h-1zM699 69h1v1h-1zM699 74h1v1h-1zM699 108h1v1h-1zM699 137h1v1h-1zM700 48h1v1h-1zM700 56h1v1h-1zM700 62h1v1h-1zM701 44h1v1h-1zM701 70h1v1h-1zM701 72h1v1h-1zM702 72h1v1h-1zM702 103h1v1h-1zM702 121h1v1h-1zM703 36h1v1h-1zM703 38h1v1h-1zM703 45h1v1h-1zM703 60h1v1h-1zM704 45h1v1h-1zM704 71h1v1h-1zM705 67h1v1h-1zM706 104h1v1h-1zM707 107h1v1h-1zM708 29h1v1h-1zM708 48h1v1h-1zM708 98h1v1h-1zM708 142h1v1h-1zM709 122h1v1h-1zM710 77h1v1h-1zM710 133h1v1h-1zM711 42h1v1h-1zM712 28h1v1h-1zM712 36h1v1h-1zM712 49h1v1h-1zM713 26h1v1h-1zM714 17h1v1h-1zM716 24h1v1h-1zM720 33h1v1h-1zM720 42h1v1h-1zM720 61h1v1h-1z"/>
<path fill="#0038d8" d="M543 14h1v1h-1zM543 75h1v1h-1zM544 17h1v1h-1zM545 39h1v1h-1zM547 35h1v1h-1zM548 14h1v1h-1zM548 56h1v1h-1zM552 24h1v1h-1zM553 34h1v1h-1zM554 49h1v1h-1zM554 138h1v1h-1zM555 43h1v1h-1zM555 90h1v1h-1zM556 76h1v1h-1zM556 161h1v1h-1zM557 40h1v1h-1zM557 93h1v1h-1zM558 36h1v1h-1zM558 61h1v1h-1zM559 41h1v1h-1zM559 48h1v1h-1zM559 56h1v1h-1zM559 76h1v1h-1zM559 92h1v1h-1zM560 118h1v1h-1zM561 47h1v1h-1zM561 48h1v1h-1zM561 80h1v1h-1zM561 84h1v1h-1zM562 90h1v1h-1zM562 105h1v1h-1zM562 125h1v1h-1zM562 132h1v1h-1zM562 141h1v1h-1zM563 51h1v1h-1zM563 96h1v1h-1zM563 98h1v1h-1zM563 171h1v1h-1zM564 54h1v1h-1zM564 82h1v1h-1zM564 122h1v1h-1zM565 126h1v1h-1zM565 136h1v1h-1zM566 80h1v1h-1zM566 92h1v1h-1zM566 165h1v1h-1zM567 72h1v1h-1zM567 77h1v1h-1zM567 112h1v1h-1zM567 114h1v1h-1zM567 136h1v1h-1zM567 155h1v1h-1zM568 74h1v1h-1zM568 90h1v1h-1zM568 94h1v1h-1zM568 96h1v1h-1zM569 80h1v1h-1zM569 85h1v1h-1zM569 86h1v1h-1zM569 91h1v1h-1zM569 96h1v1h-1zM569 121h1v1h-1zM569 162h1v1h-1zM570 88h1v1h-1zM570 95h1v1h-1zM570 101h1v1h-1zM570 104h1v1h-1zM570 108h1v1h-1zM571 108h1v1h-1zM571 136h1v1h-1zM571 177h1v1h-1zM572 115h1v1h-1zM572 120h1v1h-1zM572 132h1v1h-1zM572 175h1v1h-1zM573 116h1v1h-1zM573 126h1v1h-1zM573 232h1v1h-1zM574 125h1v1h-1zM574 151h1v1h-1zM574 184h1v1h-1zM574 201h1v1h-1zM575 141h1v1h-1zM575 169h1v1h-1zM576 146h1v1h-1zM576 156h1v1h-1zM576 160h1v1h-1zM576 193h1v1h-1zM577 162h1v1h-1zM577 165h1v1h-1zM578 173h1v1h-1zM578 175h1v1h-1zM578 179h1v1h-1zM578 187h1v1h-1zM578 190h1v1h-1zM579 172h1v1h-1zM579 187h1v1h-1zM581 198h1v1h-1zM581 202h1v1h-1zM581 204h1v1h-1zM581 209h1v1h-1zM581 216h1v1h-1zM581 240h1v1h-1zM583 206h1v1h-1zM583 213h1v1h-1zM583 232h1v1h-1zM586 212h1v1h-1zM586 213h1v1h-1zM586 225h1v1h-1zM587 230h1v1h-1zM588 223h1v1h-1zM589 228h1v1h-1zM590 231h1v1h-1zM592 242h1v1h-1zM592 244h1v1h-1zM592 254h1v1h-1zM593 245h1v1h-1zM593 248h1v1h-1zM595 245h1v1h-1zM595 249h1v1h-1zM596 269h1v1h-1zM597 260h1v1h-1zM597 262h1v1h-1zM598 266h1v1h-1zM599 265h1v1h-1zM601 269h1v1h-1zM604 274h1v1h-1zM606 285h1v1h-1zM607 286h1v1h-1zM607 295h1v1h-1zM608 293h1v1h-1zM609 289h1v1h-1zM610 289h1v1h-1zM610 292h1v1h-1zM615 301h1v1h-1zM617 301h1v1h-1zM619 304h1v1h-1zM623 308h1v1h-1zM629 316h1v1h-1zM630 315h1v1h-1zM632 314h1v1h-1zM634 314h1v1h-1zM635 314h1v1h-1zM641 307h1v1h-1zM648 296h1v1h-1zM650 301h1v1h-1zM653 289h1v1h-1zM655 281h1v1h-1zM658 285h1v1h-1zM660 272h1v1h-1zM662 265h1v1h-1zM664 258h1v1h-1zM665 261h1v1h-1zM665 264h1v1h-1zM666 249h1v1h-1zM666 252h1v1h-1zM666 262h1v1h-1zM666 268h1v1h-1zM669 248h1v1h-1zM669 253h1v1h-1zM670 246h1v1h-1zM671 228h1v1h-1zM671 246h1v1h-1zM671 252h1v1h-1zM672 236h1v1h-1zM674 255h1v1h-1zM675 212h1v1h-1zM675 217h1v1h-1zM675 230h1v1h-1zM676 211h1v1h-1zM677 207h1v1h-1zM677 220h1v1h-1zM678 206h1v1h-1zM678 258h1v1h-1zM679 195h1v1h-1zM680 189h1v1h-1zM680 190h1v1h-1zM680 200h1v1h-1zM680 210h1v1h-1zM680 218h1v1h-1zM681 183h1v1h-1zM681 191h1v1h-1zM681 204h1v1h-1zM682 179h1v1h-1zM682 198h1v1h-1zM683 173h1v1h-1zM683 184h1v1h-1zM684 188h1v1h-1zM685 158h1v1h-1zM685 172h1v1h-1zM686 189h1v1h-1zM687 143h1v1h-1zM687 157h1v1h-1zM687 161h1v1h-1zM687 164h1v1h-1zM688 121h1v1h-1zM688 127h1v1h-1zM688 137h1v1h-1zM688 142h1v1h-1zM688 147h1v1h-1zM688 152h1v1h-1zM689 130h1v1h-1zM689 154h1v1h-1zM689 162h1v1h-1zM689 175h1v1h-1zM690 108h1v1h-1zM690 142h1v1h-1zM690 150h1v1h-1zM690 180h1v1h-1zM690 198h1v1h-1zM691 93h1v1h-1zM691 113h1v1h-1zM691 130h1v1h-1zM691 142h1v1h-1zM692 140h1v1h-1zM693 103h1v1h-1zM694 86h1v1h-1zM694 147h1v1h-1zM695 80h1v1h-1zM695 113h1v1h-1zM695 124h1v1h-1zM695 163h1v1h-1zM696 96h1v1h-1zM696 102h1v1h-1zM696 144h1v1h-1zM697 58h1v1h-1zM697 94h1v1h-1zM698 53h1v1h-1zM698 54h1v1h-1zM698 94h1v1h-1zM699 48h1v1h-1zM699 75h1v1h-1zM699 81h1v1h-1zM700 48h1v1h-1zM700 57h1v1h-1zM700 81h1v1h-1zM700 149h1v1h-1zM701 94h1v1h-1zM702 75h1v1h-1zM702 82h1v1h-1zM702 116h1v1h-1zM703 54h1v1h-1zM704 46h1v1h-1zM704 61h1v1h-1zM704 67h1v1h-1zM704 115h1v1h-1zM705 30h1v1h-1zM705 36h1v1h-1zM705 43h1v1h-1zM705 46h1v1h-1zM705 53h1v1h-1zM705 80h1v1h-1zM705 121h1v1h-1zM708 55h1v1h-1zM710 25h1v1h-1zM710 28h1v1h-1zM710 31h1v1h-1zM710 93h1v1h-1zM711 20h1v1h-1zM711 32h1v1h-1zM711 36h1v1h-1zM712 40h1v1h-1zM716 18h1v1h-1zM716 19h1v1h-1zM716 27h1v1h-1zM718 26h1v1h-1zM720 11h1v1h-1zM720 70h1v1h-1z"/>
<path fill="#0058ff" d="M547 26h1v1h-1zM548 54h1v1h-1zM549 24h1v1h-1zM551 24h1v1h-1zM555 31h1v1h-1zM555 77h1v1h-1zM556 37h1v1h-1zM557 42h1v1h-1zM558 51h1v1h-1zM558 71h1v1h-1zM558 104h1v1h-1zM559 94h1v1h-1zM560 46h1v1h-1zM560 103h1v1h-1zM562 51h1v1h-1zM562 52h1v1h-1zM562 63h1v1h-1zM563 66h1v1h-1zM563 75h1v1h-1zM563 85h1v1h-1zM564 103h1v1h-1zM565 72h1v1h-1zM566 62h1v1h-1zM566 76h1v1h-1zM567 109h1v1h-1zM568 97h1v1h-1zM570 90h1v1h-1zM570 116h1v1h-1zM570 127h1v1h-1zM572 154h1v1h-1zM572 162h1v1h-1zM573 167h1v1h-1zM574 143h1v1h-1zM574 175h1v1h-1zM574 205h1v1h-1zM575 189h1v1h-1zM576 153h1v1h-1zM576 182h1v1h-1zM576 183h1v1h-1zM579 183h1v1h-1zM579 234h1v1h-1zM584 209h1v1h-1zM587 231h1v1h-1zM589 234h1v1h-1zM592 256h1v1h-1zM593 246h1v1h-1zM593 264h1v1h-1zM600 271h1v1h-1zM613 307h1v1h-1zM615 300h1v1h-1zM619 306h1v1h-1zM622 309h1v1h-1zM631 314h1v1h-1zM635 312h1v1h-1zM635 316h1v1h-1zM637 311h1v1h-1zM649 296h1v1h-1zM651 292h1v1h-1zM654 286h1v1h-1zM657 281h1v1h-1zM659 279h1v1h-1zM662 269h1v1h-1zM663 285h1v1h-1zM664 258h1v1h-1zM665 254h1v1h-1zM665 268h1v1h-1zM666 264h1v1h-1zM669 255h1v1h-1zM673 221h1v1h-1zM673 225h1v1h-1zM673 231h1v1h-1zM674 225h1v1h-1zM675 211h1v1h-1zM677 209h1v1h-1zM680 217h1v1h-1zM681 184h1v1h-1zM681 193h1v1h-1zM681 218h1v1h-1zM682 184h1v1h-1zM682 191h1v1h-1zM682 198h1v1h-1zM683 205h1v1h-1zM684 198h1v1h-1zM685 151h1v1h-1zM685 168h1v1h-1zM687 162h1v1h-1zM688 167h1v1h-1zM688 171h1v1h-1zM689 141h1v1h-1zM689 157h1v1h-1zM689 158h1v1h-1zM690 105h1v1h-1zM690 162h1v1h-1zM690 165h1v1h-1zM691 104h1v1h-1zM691 140h1v1h-1zM694 127h1v1h-1zM695 66h1v1h-1zM695 73h1v1h-1zM695 96h1v1h-1zM696 93h1v1h-1zM697 97h1v1h-1zM699 46h1v1h-1zM699 96h1v1h-1zM701 82h1v1h-1zM701 110h1v1h-1zM703 70h1v1h-1zM703 97h1v1h-1zM704 35h1v1h-1zM704 40h1v1h-1zM704 93h1v1h-1zM706 40h1v1h-1zM707 25h1v1h-1zM708 38h1v1h-1zM708 70h1v1h-1zM708 94h1v1h-1zM710 25h1v1h-1zM714 17h1v1h-1zM715 83h1v1h-1zM715 92h1v1h-1z"/>
<path fill="#30186a" d="M546 23h1v1h-1zM552 98h1v1h-1zM556 88h1v1h-1zM560 166h1v1h-1zM561 41h1v1h-1zM561 44h1v1h-1zM561 71h1v1h-1zM563 139h1v1h-1zM564 74h1v1h-1zM566 174h1v1h-1zM567 92h1v1h-1zM568 95h1v1h-1zM570 95h1v1h-1zM570 101h1v1h-1zM571 109h1v1h-1zM571 127h1v1h-1zM572 141h1v1h-1zM573 141h1v1h-1zM573 177h1v1h-1zM573 183h1v1h-1zM575 152h1v1h-1zM575 168h1v1h-1zM576 152h1v1h-1zM577 164h1v1h-1zM577 179h1v1h-1zM577 194h1v1h-1zM579 195h1v1h-1zM579 203h1v1h-1zM580 195h1v1h-1zM580 196h1v1h-1zM581 189h1v1h-1zM581 219h1v1h-1zM583 199h1v1h-1zM583 202h1v1h-1zM583 204h1v1h-1zM584 207h1v1h-1zM585 210h1v1h-1zM586 244h1v1h-1zM587 224h1v1h-1zM589 236h1v1h-1zM591 250h1v1h-1zM598 260h1v1h-1zM604 286h1v1h-1zM611 295h1v1h-1zM622 313h1v1h-1zM625 310h1v1h-1zM633 315h1v1h-1zM634 314h1v1h-1zM637 312h1v1h-1zM665 251h1v1h-1zM667 260h1v1h-1zM675 226h1v1h-1zM677 228h1v1h-1zM677 233h1v1h-1zM678 199h1v1h-1zM679 211h1v1h-1zM680 225h1v1h-1zM681 182h1v1h-1zM687 178h1v1h-1zM690 156h1v1h-1zM692 107h1v1h-1zM693 116h1v1h-1zM694 126h1v1h-1zM694 190h1v1h-1zM695 71h1v1h-1zM697 67h1v1h-1zM697 134h1v1h-1zM700 109h1v1h-1zM702 63h1v1h-1zM703 36h1v1h-1zM703 131h1v1h-1zM706 89h1v1h-1zM707 27h1v1h-1zM708 27h1v1h-1zM709 40h1v1h-1zM711 30h1v1h-1zM718 11h1v1h-1z"/>
<path fill="#582030" d="M555 26h1v1h-1zM555 48h1v1h-1zM556 104h1v1h-1zM560 51h1v1h-1zM561 72h1v1h-1zM563 70h1v1h-1zM566 71h1v1h-1zM566 118h1v1h-1zM566 167h1v1h-1zM568 114h1v1h-1zM570 106h1v1h-1zM570 126h1v1h-1zM573 124h1v1h-1zM574 128h1v1h-1zM575 153h1v1h-1zM576 221h1v1h-1zM580 201h1v1h-1zM582 207h1v1h-1zM586 236h1v1h-1zM591 241h1v1h-1zM593 245h1v1h-1zM596 267h1v1h-1zM597 260h1v1h-1zM597 268h1v1h-1zM609 297h1v1h-1zM657 276h1v1h-1zM671 263h1v1h-1zM672 256h1v1h-1zM674 220h1v1h-1zM675 221h1v1h-1zM677 209h1v1h-1zM681 181h1v1h-1zM681 182h1v1h-1zM685 181h1v1h-1zM686 145h1v1h-1zM687 148h1v1h-1zM688 132h1v1h-1zM693 108h1v1h-1zM695 69h1v1h-1zM695 110h1v1h-1zM697 70h1v1h-1zM697 75h1v1h-1zM698 54h1v1h-1zM698 114h1v1h-1zM708 69h1v1h-1zM712 18h1v1h-1zM714 23h1v1h-1zM716 16h1v1h-1zM718 17h1v1h-1z"/>
<path fill="#0020b0" d="M543 25h1v1h-1zM544 45h1v1h-1zM545 13h1v1h-1zM545 17h1v1h-1zM545 19h1v1h-1zM545 20h1v1h-1zM546 12h1v1h-1zM546 15h1v1h-1zM547 23h1v1h-1zM547 24h1v1h-1zM548 15h1v1h-1zM548 17h1v1h-1zM548 70h1v1h-1zM549 24h1v1h-1zM549 112h1v1h-1zM550 21h1v1h-1zM550 25h1v1h-1zM552 44h1v1h-1zM553 38h1v1h-1zM553 77h1v1h-1zM554 102h1v1h-1zM555 30h1v1h-1zM556 44h1v1h-1zM557 33h1v1h-1zM558 39h1v1h-1zM558 45h1v1h-1zM559 78h1v1h-1zM561 119h1v1h-1zM562 91h1v1h-1zM563 47h1v1h-1zM563 49h1v1h-1zM563 115h1v1h-1zM564 64h1v1h-1zM564 72h1v1h-1zM564 84h1v1h-1zM564 166h1v1h-1zM565 73h1v1h-1zM565 84h1v1h-1zM565 113h1v1h-1zM565 158h1v1h-1zM566 61h1v1h-1zM566 115h1v1h-1zM566 168h1v1h-1zM567 70h1v1h-1zM567 73h1v1h-1zM567 75h1v1h-1zM567 91h1v1h-1zM567 94h1v1h-1zM567 126h1v1h-1zM568 100h1v1h-1zM568 127h1v1h-1zM569 108h1v1h-1zM569 112h1v1h-1zM569 131h1v1h-1zM570 100h1v1h-1zM570 124h1v1h-1zM570 187h1v1h-1zM571 116h1v1h-1zM571 123h1v1h-1zM571 127h1v1h-1zM571 167h1v1h-1zM571 209h1v1h-1zM572 111h1v1h-1zM572 143h1v1h-1zM573 115h1v1h-1zM573 128h1v1h-1zM573 134h1v1h-1zM574 129h1v1h-1zM574 131h1v1h-1zM574 134h1v1h-1zM574 137h1v1h-1zM574 140h1v1h-1zM574 143h1v1h-1zM574 155h1v1h-1zM574 161h1v1h-1zM574 164h1v1h-1zM574 187h1v1h-1zM576 153h1v1h-1zM576 168h1v1h-1zM576 176h1v1h-1zM576 197h1v1h-1zM577 165h1v1h-1zM577 169h1v1h-1zM577 172h1v1h-1zM578 169h1v1h-1zM578 206h1v1h-1zM578 246h1v1h-1zM579 211h1v1h-1zM579 223h1v1h-1zM580 188h1v1h-1zM580 191h1v1h-1zM581 187h1v1h-1zM581 199h1v1h-1zM582 198h1v1h-1zM582 205h1v1h-1zM583 212h1v1h-1zM584 203h1v1h-1zM584 221h1v1h-1zM584 224h1v1h-1zM587 219h1v1h-1zM587 230h1v1h-1zM588 223h1v1h-1zM589 227h1v1h-1zM589 287h1v1h-1zM590 228h1v1h-1zM590 232h1v1h-1zM590 238h1v1h-1zM590 262h1v1h-1zM590 270h1v1h-1zM591 248h1v1h-1zM591 257h1v1h-1zM593 264h1v1h-1zM594 246h1v1h-1zM598 258h1v1h-1zM598 266h1v1h-1zM602 270h1v1h-1zM603 283h1v1h-1zM604 288h1v1h-1zM605 281h1v1h-1zM605 289h1v1h-1zM605 290h1v1h-1zM606 283h1v1h-1zM607 281h1v1h-1zM607 287h1v1h-1zM609 288h1v1h-1zM611 291h1v1h-1zM613 295h1v1h-1zM619 303h1v1h-1zM630 314h1v1h-1zM632 315h1v1h-1zM633 314h1v1h-1zM634 313h1v1h-1zM634 314h1v1h-1zM643 309h1v1h-1zM647 302h1v1h-1zM648 300h1v1h-1zM648 301h1v1h-1zM650 296h1v1h-1zM650 297h1v1h-1zM652 292h1v1h-1zM658 283h1v1h-1zM659 277h1v1h-1zM661 267h1v1h-1zM661 268h1v1h-1zM662 263h1v1h-1zM662 266h1v1h-1zM666 248h1v1h-1zM669 237h1v1h-1zM670 238h1v1h-1zM670 249h1v1h-1zM671 237h1v1h-1zM672 237h1v1h-1zM672 280h1v1h-1zM673 221h1v1h-1zM675 255h1v1h-1zM676 252h1v1h-1zM677 238h1v1h-1zM678 196h1v1h-1zM679 206h1v1h-1zM680 186h1v1h-1zM680 190h1v1h-1zM680 191h1v1h-1zM680 194h1v1h-1zM680 203h1v1h-1zM680 214h1v1h-1zM681 191h1v1h-1zM682 189h1v1h-1zM682 212h1v1h-1zM682 238h1v1h-1zM683 173h1v1h-1zM683 206h1v1h-1zM684 167h1v1h-1zM684 168h1v1h-1zM684 193h1v1h-1zM685 198h1v1h-1zM685 217h1v1h-1zM686 160h1v1h-1zM686 163h1v1h-1zM686 170h1v1h-1zM686 201h1v1h-1zM687 132h1v1h-1zM688 125h1v1h-1zM688 126h1v1h-1zM688 142h1v1h-1zM688 144h1v1h-1zM688 148h1v1h-1zM688 161h1v1h-1zM689 120h1v1h-1zM689 122h1v1h-1zM689 178h1v1h-1zM691 120h1v1h-1zM691 146h1v1h-1zM691 159h1v1h-1zM691 191h1v1h-1zM691 227h1v1h-1zM692 86h1v1h-1zM692 87h1v1h-1zM692 99h1v1h-1zM692 100h1v1h-1zM692 109h1v1h-1zM692 114h1v1h-1zM693 83h1v1h-1zM693 131h1v1h-1zM693 141h1v1h-1zM694 82h1v1h-1zM694 96h1v1h-1zM695 83h1v1h-1zM695 87h1v1h-1zM696 120h1v1h-1zM696 147h1v1h-1zM697 78h1v1h-1zM698 55h1v1h-1zM698 62h1v1h-1zM698 71h1v1h-1zM698 85h1v1h-1zM698 92h1v1h-1zM699 48h1v1h-1zM699 74h1v1h-1zM699 99h1v1h-1zM699 109h1v1h-1zM699 117h1v1h-1zM700 114h1v1h-1zM700 165h1v1h-1zM701 43h1v1h-1zM701 45h1v1h-1zM702 41h1v1h-1zM703 44h1v1h-1zM703 46h1v1h-1zM703 58h1v1h-1zM703 66h1v1h-1zM704 40h1v1h-1zM704 62h1v1h-1zM705 38h1v1h-1zM706 31h1v1h-1zM706 58h1v1h-1zM707 34h1v1h-1zM707 47h1v1h-1zM708 24h1v1h-1zM708 35h1v1h-1zM708 138h1v1h-1zM709 66h1v1h-1zM710 31h1v1h-1zM710 33h1v1h-1zM710 39h1v1h-1zM711 26h1v1h-1zM712 19h1v1h-1zM712 24h1v1h-1zM715 53h1v1h-1zM717 12h1v1h-1zM717 35h1v1h-1zM718 12h1v1h-1zM718 29h1v1h-1zM718 55h1v1h-1zM718 98h1v1h-1zM720 69h1v1h-1z"/>
<path fill="#0030a8" d="M545 19h1v1h-1zM545 25h1v1h-1zM547 25h1v1h-1zM549 17h1v1h-1zM551 37h1v1h-1zM551 102h1v1h-1zM552 55h1v1h-1zM554 80h1v1h-1zM554 86h1v1h-1zM556 34h1v1h-1zM556 46h1v1h-1zM556 61h1v1h-1zM556 73h1v1h-1zM557 102h1v1h-1zM557 103h1v1h-1zM558 31h1v1h-1zM559 40h1v1h-1zM559 106h1v1h-1zM560 75h1v1h-1zM561 66h1v1h-1zM561 82h1v1h-1zM562 46h1v1h-1zM562 48h1v1h-1zM562 64h1v1h-1zM562 66h1v1h-1zM563 63h1v1h-1zM563 68h1v1h-1zM563 81h1v1h-1zM563 82h1v1h-1zM563 95h1v1h-1zM564 66h1v1h-1zM564 74h1v1h-1zM564 100h1v1h-1zM565 59h1v1h-1zM565 65h1v1h-1zM565 67h1v1h-1zM565 69h1v1h-1zM566 66h1v1h-1zM567 91h1v1h-1zM567 93h1v1h-1zM567 147h1v1h-1zM568 88h1v1h-1zM568 102h1v1h-1zM568 115h1v1h-1zM568 150h1v1h-1zM568 161h1v1h-1zM569 89h1v1h-1zM569 94h1v1h-1zM569 97h1v1h-1zM569 135h1v1h-1zM570 97h1v1h-1zM570 98h1v1h-1zM570 106h1v1h-1zM571 108h1v1h-1zM571 112h1v1h-1zM571 151h1v1h-1zM571 189h1v1h-1zM572 120h1v1h-1zM572 123h1v1h-1zM572 127h1v1h-1zM572 144h1v1h-1zM572 166h1v1h-1zM573 114h1v1h-1zM573 158h1v1h-1zM574 167h1v1h-1zM574 177h1v1h-1zM574 234h1v1h-1zM575 142h1v1h-1zM575 145h1v1h-1zM575 150h1v1h-1zM575 155h1v1h-1zM575 162h1v1h-1zM575 168h1v1h-1zM575 206h1v1h-1zM576 144h1v1h-1zM576 167h1v1h-1zM576 187h1v1h-1zM576 188h1v1h-1zM576 199h1v1h-1zM577 166h1v1h-1zM577 172h1v1h-1zM577 180h1v1h-1zM577 223h1v1h-1zM578 200h1v1h-1zM579 178h1v1h-1zM579 197h1v1h-1zM579 235h1v1h-1zM580 186h1v1h-1zM580 193h1v1h-1zM581 202h1v1h-1zM581 217h1v1h-1zM581 222h1v1h-1zM582 204h1v1h-1zM582 214h1v1h-1zM582 217h1v1h-1zM584 241h1v1h-1zM585 219h1v1h-1zM585 245h1v1h-1zM586 218h1v1h-1zM587 228h1v1h-1zM588 236h1v1h-1zM589 233h1v1h-1zM590 237h1v1h-1zM593 249h1v1h-1zM596 263h1v1h-1zM599 263h1v1h-1zM600 270h1v1h-1zM600 271h1v1h-1zM600 298h1v1h-1zM602 278h1v1h-1zM611 292h1v1h-1zM613 300h1v1h-1zM617 300h1v1h-1zM617 303h1v1h-1zM618 303h1v1h-1zM620 310h1v1h-1zM622 308h1v1h-1zM626 311h1v1h-1zM629 316h1v1h-1zM631 314h1v1h-1zM631 318h1v1h-1zM632 314h1v1h-1zM632 315h1v1h-1zM633 315h1v1h-1zM639 310h1v1h-1zM641 308h1v1h-1zM645 307h1v1h-1zM646 300h1v1h-1zM650 294h1v1h-1zM651 296h1v1h-1zM653 289h1v1h-1zM654 289h1v1h-1zM655 284h1v1h-1zM656 279h1v1h-1zM657 279h1v1h-1zM658 275h1v1h-1zM660 273h1v1h-1zM662 268h1v1h-1zM662 288h1v1h-1zM665 253h1v1h-1zM666 262h1v1h-1zM667 242h1v1h-1zM667 259h1v1h-1zM670 233h1v1h-1zM670 241h1v1h-1zM670 242h1v1h-1zM671 226h1v1h-1zM672 229h1v1h-1zM673 230h1v1h-1zM673 257h1v1h-1zM674 214h1v1h-1zM674 215h1v1h-1zM674 223h1v1h-1zM676 216h1v1h-1zM676 225h1v1h-1zM676 240h1v1h-1zM676 264h1v1h-1zM677 223h1v1h-1zM678 197h1v1h-1zM679 216h1v1h-1zM680 188h1v1h-1zM680 193h1v1h-1zM681 213h1v1h-1zM682 182h1v1h-1zM682 192h1v1h-1zM683 176h1v1h-1zM683 186h1v1h-1zM683 202h1v1h-1zM684 161h1v1h-1zM685 201h1v1h-1zM686 141h1v1h-1zM686 172h1v1h-1zM686 192h1v1h-1zM687 154h1v1h-1zM688 147h1v1h-1zM688 160h1v1h-1zM689 134h1v1h-1zM689 141h1v1h-1zM689 161h1v1h-1zM690 122h1v1h-1zM690 130h1v1h-1zM690 131h1v1h-1zM690 161h1v1h-1zM691 104h1v1h-1zM691 112h1v1h-1zM691 157h1v1h-1zM691 163h1v1h-1zM691 180h1v1h-1zM692 137h1v1h-1zM692 145h1v1h-1zM693 85h1v1h-1zM693 104h1v1h-1zM693 135h1v1h-1zM694 126h1v1h-1zM695 93h1v1h-1zM696 73h1v1h-1zM696 144h1v1h-1zM696 148h1v1h-1zM698 55h1v1h-1zM698 106h1v1h-1zM699 56h1v1h-1zM699 58h1v1h-1zM699 60h1v1h-1zM699 63h1v1h-1zM699 161h1v1h-1zM700 62h1v1h-1zM701 53h1v1h-1zM702 57h1v1h-1zM703 126h1v1h-1zM704 56h1v1h-1zM705 36h1v1h-1zM705 42h1v1h-1zM705 47h1v1h-1zM705 91h1v1h-1zM706 29h1v1h-1zM707 30h1v1h-1zM707 31h1v1h-1zM707 36h1v1h-1zM707 58h1v1h-1zM708 44h1v1h-1zM709 33h1v1h-1zM711 24h1v1h-1zM712 76h1v1h-1zM713 24h1v1h-1zM713 38h1v1h-1zM714 24h1v1h-1zM714 28h1v1h-1zM716 39h1v1h-1zM717 25h1v1h-1zM718 11h1v1h-1z"/>
<path fill="#00d0ff" d="M550 91h1v1h-1zM552 117h1v1h-1zM555 32h1v1h-1zM556 135h1v1h-1zM560 45h1v1h-1zM563 53h1v1h-1zM563 178h1v1h-1zM567 77h1v1h-1zM567 98h1v1h-1zM568 102h1v1h-1zM571 179h1v1h-1zM572 136h1v1h-1zM572 154h1v1h-1zM574 135h1v1h-1zM574 182h1v1h-1zM580 196h1v1h-1zM581 205h1v1h-1zM586 231h1v1h-1zM598 269h1v1h-1zM611 299h1v1h-1zM616 306h1v1h-1zM677 206h1v1h-1zM678 226h1v1h-1zM683 170h1v1h-1zM686 139h1v1h-1zM690 138h1v1h-1zM691 144h1v1h-1zM691 150h1v1h-1zM693 163h1v1h-1zM694 74h1v1h-1zM694 88h1v1h-1zM695 171h1v1h-1zM695 173h1v1h-1zM697 79h1v1h-1zM699 55h1v1h-1zM700 48h1v1h-1zM701 46h1v1h-1zM704 61h1v1h-1zM714 23h1v1h-1z"/>
<path fill="#ff9000" d="M543 14h1v1h-1zM547 14h1v1h-1zM548 71h1v1h-1zM551 36h1v1h-1zM564 68h1v1h-1zM564 80h1v1h-1zM566 69h1v1h-1zM566 112h1v1h-1zM569 106h1v1h-1zM569 143h1v1h-1zM570 113h1v1h-1zM572 108h1v1h-1zM573 185h1v1h-1zM576 185h1v1h-1zM578 165h1v1h-1zM579 174h1v1h-1zM581 246h1v1h-1zM586 212h1v1h-1zM587 238h1v1h-1zM622 307h1v1h-1zM658 284h1v1h-1zM661 275h1v1h-1zM671 243h1v1h-1zM684 184h1v1h-1zM691 107h1v1h-1zM692 87h1v1h-1zM696 91h1v1h-1zM696 118h1v1h-1zM699 48h1v1h-1zM699 144h1v1h-1zM700 116h1v1h-1zM701 50h1v1h-1zM704 59h1v1h-1zM705 34h1v1h-1zM709 134h1v1h-1z"/>
<path fill="#ffd800" d="M546 26h1v1h-1zM549 16h1v1h-1zM552 22h1v1h-1zM552 60h1v1h-1zM555 74h1v1h-1zM561 47h1v1h-1zM562 108h1v1h-1zM566 169h1v1h-1zM567 159h1v1h-1zM573 152h1v1h-1zM574 129h1v1h-1zM575 156h1v1h-1zM575 161h1v1h-1zM581 197h1v1h-1zM590 232h1v1h-1zM631 314h1v1h-1zM655 282h1v1h-1zM662 265h1v1h-1zM662 272h1v1h-1zM668 253h1v1h-1zM676 235h1v1h-1zM680 233h1v1h-1zM687 160h1v1h-1zM690 139h1v1h-1zM694 79h1v1h-1zM695 83h1v1h-1zM697 104h1v1h-1zM699 53h1v1h-1zM706 29h1v1h-1z"/>
<path fill="#0080ff" d="M544 63h1v1h-1zM548 124h1v1h-1zM549 34h1v1h-1zM550 64h1v1h-1zM556 80h1v1h-1zM557 31h1v1h-1zM558 35h1v1h-1zM559 192h1v1h-1zM564 108h1v1h-1zM565 59h1v1h-1zM566 64h1v1h-1zM566 65h1v1h-1zM568 73h1v1h-1zM568 88h1v1h-1zM570 110h1v1h-1zM571 160h1v1h-1zM572 116h1v1h-1zM572 118h1v1h-1zM572 149h1v1h-1zM573 155h1v1h-1zM574 160h1v1h-1zM574 170h1v1h-1zM575 149h1v1h-1zM577 189h1v1h-1zM579 180h1v1h-1zM579 190h1v1h-1zM582 203h1v1h-1zM582 219h1v1h-1zM589 227h1v1h-1zM591 244h1v1h-1zM594 246h1v1h-1zM597 257h1v1h-1zM605 281h1v1h-1zM609 289h1v1h-1zM617 305h1v1h-1zM618 304h1v1h-1zM637 312h1v1h-1zM645 305h1v1h-1zM646 306h1v1h-1zM652 298h1v1h-1zM656 281h1v1h-1zM663 261h1v1h-1zM670 230h1v1h-1zM676 209h1v1h-1zM680 192h1v1h-1zM681 204h1v1h-1zM684 177h1v1h-1zM684 190h1v1h-1zM686 153h1v1h-1zM687 152h1v1h-1zM689 210h1v1h-1zM691 94h1v1h-1zM691 101h1v1h-1zM691 170h1v1h-1zM692 100h1v1h-1zM693 80h1v1h-1zM694 73h1v1h-1zM696 93h1v1h-1zM697 101h1v1h-1zM698 83h1v1h-1zM699 58h1v1h-1zM699 160h1v1h-1zM701 52h1v1h-1zM701 65h1v1h-1zM703 55h1v1h-1zM703 67h1v1h-1zM704 107h1v1h-1zM705 39h1v1h-1zM706 34h1v1h-1zM706 59h1v1h-1zM711 43h1v1h-1zM713 79h1v1h-1zM716 49h1v1h-1z"/>
<path fill="#40ffb0" d="M562 53h1v1h-1zM564 72h1v1h-1zM565 125h1v1h-1zM569 113h1v1h-1zM570 131h1v1h-1zM575 140h1v1h-1zM575 160h1v1h-1zM578 215h1v1h-1zM613 299h1v1h-1zM662 301h1v1h-1zM675 218h1v1h-1zM675 221h1v1h-1zM698 60h1v1h-1zM700 52h1v1h-1zM700 109h1v1h-1z"/>
<path fill="#0030c0" d="M543 9h1v1h-1zM546 14h1v1h-1zM556 25h1v1h-1zM556 29h1v1h-1zM560 40h1v1h-1zM561 42h1v1h-1zM561 43h1v1h-1zM562 41h1v1h-1zM567 63h1v1h-1zM568 75h1v1h-1zM570 86h1v1h-1zM571 100h1v1h-1zM571 114h1v1h-1zM572 102h1v1h-1zM572 104h1v1h-1zM573 110h1v1h-1zM573 111h1v1h-1zM573 115h1v1h-1zM574 117h1v1h-1zM574 119h1v1h-1zM575 145h1v1h-1zM576 156h1v1h-1zM577 159h1v1h-1zM577 160h1v1h-1zM578 165h1v1h-1zM578 167h1v1h-1zM578 181h1v1h-1zM579 168h1v1h-1zM579 170h1v1h-1zM579 171h1v1h-1zM580 182h1v1h-1zM582 189h1v1h-1zM582 196h1v1h-1zM584 209h1v1h-1zM586 211h1v1h-1zM587 215h1v1h-1zM589 224h1v1h-1zM590 227h1v1h-1zM592 243h1v1h-1zM594 242h1v1h-1zM596 250h1v1h-1zM596 256h1v1h-1zM597 254h1v1h-1zM602 268h1v1h-1zM602 269h1v1h-1zM604 276h1v1h-1zM618 303h1v1h-1zM646 301h1v1h-1zM654 284h1v1h-1zM655 281h1v1h-1zM664 254h1v1h-1zM665 254h1v1h-1zM667 244h1v1h-1zM668 245h1v1h-1zM672 223h1v1h-1zM673 216h1v1h-1zM673 221h1v1h-1zM673 224h1v1h-1zM674 214h1v1h-1zM674 223h1v1h-1zM677 207h1v1h-1zM681 177h1v1h-1zM681 178h1v1h-1zM681 181h1v1h-1zM681 184h1v1h-1zM681 186h1v1h-1zM682 170h1v1h-1zM682 171h1v1h-1zM684 155h1v1h-1zM686 134h1v1h-1zM686 138h1v1h-1zM688 120h1v1h-1zM689 114h1v1h-1zM690 111h1v1h-1zM690 115h1v1h-1zM691 92h1v1h-1zM692 89h1v1h-1zM692 102h1v1h-1zM693 92h1v1h-1zM693 93h1v1h-1zM695 65h1v1h-1zM696 57h1v1h-1zM698 48h1v1h-1zM698 53h1v1h-1zM698 55h1v1h-1zM698 58h1v1h-1zM699 44h1v1h-1zM699 51h1v1h-1zM713 15h1v1h-1z"/>
<path fill="#0060ff" d="M545 11h1v1h-1zM551 20h1v1h-1zM552 19h1v1h-1zM555 28h1v1h-1zM556 26h1v1h-1zM562 46h1v1h-1zM563 46h1v1h-1zM568 81h1v1h-1zM568 84h1v1h-1zM569 75h1v1h-1zM569 77h1v1h-1zM572 108h1v1h-1zM574 118h1v1h-1zM574 129h1v1h-1zM575 148h1v1h-1zM576 139h1v1h-1zM576 142h1v1h-1zM577 148h1v1h-1zM578 160h1v1h-1zM578 164h1v1h-1zM579 185h1v1h-1zM581 192h1v1h-1zM584 212h1v1h-1zM585 217h1v1h-1zM590 226h1v1h-1zM595 248h1v1h-1zM602 267h1v1h-1zM602 270h1v1h-1zM603 270h1v1h-1zM606 278h1v1h-1zM606 281h1v1h-1zM608 283h1v1h-1zM609 286h1v1h-1zM609 290h1v1h-1zM611 292h1v1h-1zM612 292h1v1h-1zM618 304h1v1h-1zM630 313h1v1h-1zM641 308h1v1h-1zM642 304h1v1h-1zM644 303h1v1h-1zM645 302h1v1h-1zM647 299h1v1h-1zM650 295h1v1h-1zM651 294h1v1h-1zM652 288h1v1h-1zM653 286h1v1h-1zM653 287h1v1h-1zM653 290h1v1h-1zM656 277h1v1h-1zM661 266h1v1h-1zM663 257h1v1h-1zM663 265h1v1h-1zM666 247h1v1h-1zM668 237h1v1h-1zM669 233h1v1h-1zM672 222h1v1h-1zM673 227h1v1h-1zM675 211h1v1h-1zM678 197h1v1h-1zM678 202h1v1h-1zM680 182h1v1h-1zM680 183h1v1h-1zM682 172h1v1h-1zM682 178h1v1h-1zM682 181h1v1h-1zM683 172h1v1h-1zM684 162h1v1h-1zM684 175h1v1h-1zM685 155h1v1h-1zM685 162h1v1h-1zM686 143h1v1h-1zM686 153h1v1h-1zM687 123h1v1h-1zM687 128h1v1h-1zM687 135h1v1h-1zM687 140h1v1h-1zM687 142h1v1h-1zM688 128h1v1h-1zM689 113h1v1h-1zM690 109h1v1h-1zM690 112h1v1h-1zM691 88h1v1h-1zM691 94h1v1h-1zM691 99h1v1h-1zM691 100h1v1h-1zM692 81h1v1h-1zM692 96h1v1h-1zM694 73h1v1h-1zM695 68h1v1h-1zM695 78h1v1h-1zM696 61h1v1h-1zM696 64h1v1h-1zM697 56h1v1h-1zM699 56h1v1h-1zM700 52h1v1h-1zM701 46h1v1h-1zM705 34h1v1h-1zM715 13h1v1h-1zM719 11h1v1h-1zM720 9h1v1h-1z"/>
<path fill="#a02000" d="M559 34h1v1h-1zM561 47h1v1h-1zM566 60h1v1h-1zM568 82h1v1h-1zM569 88h1v1h-1zM570 90h1v1h-1zM570 95h1v1h-1zM571 99h1v1h-1zM572 103h1v1h-1zM575 129h1v1h-1zM576 147h1v1h-1zM577 162h1v1h-1zM579 181h1v1h-1zM581 189h1v1h-1zM589 227h1v1h-1zM593 244h1v1h-1zM594 251h1v1h-1zM595 247h1v1h-1zM597 261h1v1h-1zM599 263h1v1h-1zM603 271h1v1h-1zM610 288h1v1h-1zM638 309h1v1h-1zM639 310h1v1h-1zM655 282h1v1h-1zM656 279h1v1h-1zM658 274h1v1h-1zM675 208h1v1h-1zM677 205h1v1h-1zM683 165h1v1h-1zM684 154h1v1h-1zM684 168h1v1h-1zM686 141h1v1h-1zM688 118h1v1h-1zM689 109h1v1h-1zM690 120h1v1h-1zM692 80h1v1h-1zM697 57h1v1h-1zM701 44h1v1h-1zM703 36h1v1h-1zM710 20h1v1h-1zM712 16h1v1h-1zM718 11h1v1h-1z"/>
<path fill="#00c0ff" d="M548 14h1v1h-1zM553 22h1v1h-1zM555 25h1v1h-1zM558 31h1v1h-1zM563 44h1v1h-1zM564 48h1v1h-1zM565 55h1v1h-1zM566 61h1v1h-1zM566 62h1v1h-1zM569 83h1v1h-1zM569 92h1v1h-1zM570 87h1v1h-1zM573 114h1v1h-1zM573 119h1v1h-1zM573 120h1v1h-1zM573 133h1v1h-1zM574 126h1v1h-1zM576 144h1v1h-1zM579 173h1v1h-1zM580 186h1v1h-1zM583 195h1v1h-1zM586 219h1v1h-1zM588 225h1v1h-1zM591 230h1v1h-1zM594 248h1v1h-1zM595 245h1v1h-1zM596 253h1v1h-1zM596 254h1v1h-1zM598 259h1v1h-1zM601 266h1v1h-1zM611 289h1v1h-1zM624 309h1v1h-1zM645 301h1v1h-1zM647 297h1v1h-1zM648 295h1v1h-1zM659 274h1v1h-1zM662 265h1v1h-1zM663 259h1v1h-1zM665 248h1v1h-1zM666 243h1v1h-1zM666 244h1v1h-1zM669 234h1v1h-1zM669 239h1v1h-1zM680 193h1v1h-1zM681 176h1v1h-1zM683 169h1v1h-1zM684 157h1v1h-1zM684 173h1v1h-1zM685 148h1v1h-1zM686 157h1v1h-1zM687 129h1v1h-1zM688 119h1v1h-1zM691 98h1v1h-1zM691 112h1v1h-1zM692 84h1v1h-1zM692 90h1v1h-1zM693 78h1v1h-1zM693 94h1v1h-1zM694 67h1v1h-1zM694 69h1v1h-1zM696 67h1v1h-1zM699 52h1v1h-1zM702 40h1v1h-1zM717 12h1v1h-1z"/>
<path fill="#0040e8" d="M555 27h1v1h-1zM556 30h1v1h-1zM557 31h1v1h-1zM558 35h1v1h-1zM560 35h1v1h-1zM560 37h1v1h-1zM560 38h1v1h-1zM562 42h1v1h-1zM562 50h1v1h-1zM564 49h1v1h-1zM564 52h1v1h-1zM565 53h1v1h-1zM566 66h1v1h-1zM568 76h1v1h-1zM568 79h1v1h-1zM569 100h1v1h-1zM569 101h1v1h-1zM570 106h1v1h-1zM571 94h1v1h-1zM571 96h1v1h-1zM571 107h1v1h-1zM571 109h1v1h-1zM572 107h1v1h-1zM572 110h1v1h-1zM572 113h1v1h-1zM572 117h1v1h-1zM572 125h1v1h-1zM573 118h1v1h-1zM573 135h1v1h-1zM574 124h1v1h-1zM574 137h1v1h-1zM574 143h1v1h-1zM577 151h1v1h-1zM577 153h1v1h-1zM577 155h1v1h-1zM577 166h1v1h-1zM578 159h1v1h-1zM579 179h1v1h-1zM580 177h1v1h-1zM581 199h1v1h-1zM582 188h1v1h-1zM583 196h1v1h-1zM583 197h1v1h-1zM587 213h1v1h-1zM590 231h1v1h-1zM592 238h1v1h-1zM593 238h1v1h-1zM593 240h1v1h-1zM594 250h1v1h-1zM596 251h1v1h-1zM596 252h1v1h-1zM597 253h1v1h-1zM599 262h1v1h-1zM600 262h1v1h-1zM600 264h1v1h-1zM601 268h1v1h-1zM608 285h1v1h-1zM613 297h1v1h-1zM614 294h1v1h-1zM616 298h1v1h-1zM618 301h1v1h-1zM625 310h1v1h-1zM640 308h1v1h-1zM640 309h1v1h-1zM642 305h1v1h-1zM654 282h1v1h-1zM657 276h1v1h-1zM658 272h1v1h-1zM659 269h1v1h-1zM659 270h1v1h-1zM660 268h1v1h-1zM665 251h1v1h-1zM667 248h1v1h-1zM668 244h1v1h-1zM670 228h1v1h-1zM670 233h1v1h-1zM670 236h1v1h-1zM671 225h1v1h-1zM672 220h1v1h-1zM673 217h1v1h-1zM675 210h1v1h-1zM677 202h1v1h-1zM678 196h1v1h-1zM679 188h1v1h-1zM681 183h1v1h-1zM682 175h1v1h-1zM682 176h1v1h-1zM684 163h1v1h-1zM684 167h1v1h-1zM685 159h1v1h-1zM686 133h1v1h-1zM687 124h1v1h-1zM687 133h1v1h-1zM688 136h1v1h-1zM689 111h1v1h-1zM689 128h1v1h-1zM691 105h1v1h-1zM692 85h1v1h-1zM692 93h1v1h-1zM694 68h1v1h-1zM694 70h1v1h-1zM695 71h1v1h-1zM695 75h1v1h-1zM696 58h1v1h-1zM696 60h1v1h-1zM697 54h1v1h-1zM697 62h1v1h-1zM698 49h1v1h-1zM698 54h1v1h-1zM702 41h1v1h-1zM703 33h1v1h-1zM703 38h1v1h-1zM704 31h1v1h-1zM706 28h1v1h-1zM708 23h1v1h-1zM711 17h1v1h-1zM713 17h1v1h-1zM716 13h1v1h-1z"/>
<path fill="#ff5000" d="M549 15h1v1h-1zM566 64h1v1h-1zM570 103h1v1h-1zM571 105h1v1h-1zM571 106h1v1h-1zM572 105h1v1h-1zM574 131h1v1h-1zM584 210h1v1h-1zM587 214h1v1h-1zM589 233h1v1h-1zM596 248h1v1h-1zM597 255h1v1h-1zM613 294h1v1h-1zM667 240h1v1h-1zM669 232h1v1h-1zM670 229h1v1h-1zM676 210h1v1h-1zM685 147h1v1h-1zM686 139h1v1h-1zM689 119h1v1h-1zM690 98h1v1h-1zM693 85h1v1h-1zM693 88h1v1h-1zM696 66h1v1h-1zM697 55h1v1h-1zM701 40h1v1h-1zM704 30h1v1h-1z"/>
<path fill="#ffa000" d="M550 16h1v1h-1zM554 22h1v1h-1zM559 37h1v1h-1zM565 65h1v1h-1zM568 69h1v1h-1zM568 73h1v1h-1zM572 112h1v1h-1zM573 136h1v1h-1zM577 149h1v1h-1zM578 166h1v1h-1zM579 186h1v1h-1zM582 201h1v1h-1zM584 202h1v1h-1zM584 203h1v1h-1zM585 206h1v1h-1zM585 207h1v1h-1zM587 217h1v1h-1zM588 219h1v1h-1zM589 223h1v1h-1zM592 236h1v1h-1zM598 258h1v1h-1zM599 260h1v1h-1zM599 266h1v1h-1zM601 265h1v1h-1zM617 303h1v1h-1zM618 302h1v1h-1zM628 313h1v1h-1zM655 280h1v1h-1zM660 273h1v1h-1zM665 255h1v1h-1zM667 246h1v1h-1zM668 242h1v1h-1zM669 235h1v1h-1zM672 221h1v1h-1zM676 204h1v1h-1zM677 204h1v1h-1zM678 193h1v1h-1zM683 177h1v1h-1zM685 145h1v1h-1zM686 135h1v1h-1zM688 113h1v1h-1zM688 129h1v1h-1zM688 133h1v1h-1zM689 106h1v1h-1zM690 102h1v1h-1zM690 117h1v1h-1zM697 58h1v1h-1zM698 56h1v1h-1zM703 37h1v1h-1z"/>
<path fill="#ffe000" d="M554 24h1v1h-1zM565 59h1v1h-1zM570 94h1v1h-1zM572 118h1v1h-1zM575 143h1v1h-1zM588 220h1v1h-1zM591 235h1v1h-1zM597 258h1v1h-1zM598 255h1v1h-1zM617 301h1v1h-1zM623 307h1v1h-1zM627 311h1v1h-1zM636 311h1v1h-1zM651 290h1v1h-1zM671 227h1v1h-1zM678 195h1v1h-1zM686 151h1v1h-1zM687 125h1v1h-1zM687 127h1v1h-1zM687 131h1v1h-1zM688 117h1v1h-1zM690 105h1v1h-1zM692 83h1v1h-1zM692 104h1v1h-1zM703 34h1v1h-1zM706 26h1v1h-1zM711 18h1v1h-1z"/>
<path fill="#0090ff" d="M557 27h1v1h-1zM559 32h1v1h-1zM563 51h1v1h-1zM565 67h1v1h-1zM566 57h1v1h-1zM567 62h1v1h-1zM567 71h1v1h-1zM568 80h1v1h-1zM569 82h1v1h-1zM569 89h1v1h-1zM570 82h1v1h-1zM570 84h1v1h-1zM570 99h1v1h-1zM570 100h1v1h-1zM570 102h1v1h-1zM574 135h1v1h-1zM577 158h1v1h-1zM579 172h1v1h-1zM579 180h1v1h-1zM580 187h1v1h-1zM581 186h1v1h-1zM581 196h1v1h-1zM583 205h1v1h-1zM584 200h1v1h-1zM586 209h1v1h-1zM586 212h1v1h-1zM586 217h1v1h-1zM588 218h1v1h-1zM590 234h1v1h-1zM592 239h1v1h-1zM592 241h1v1h-1zM595 249h1v1h-1zM597 252h1v1h-1zM599 261h1v1h-1zM606 279h1v1h-1zM607 281h1v1h-1zM611 290h1v1h-1zM612 291h1v1h-1zM614 297h1v1h-1zM620 304h1v1h-1zM641 307h1v1h-1zM643 304h1v1h-1zM644 305h1v1h-1zM650 293h1v1h-1zM652 287h1v1h-1zM658 273h1v1h-1zM659 273h1v1h-1zM664 251h1v1h-1zM664 252h1v1h-1zM667 242h1v1h-1zM670 235h1v1h-1zM671 224h1v1h-1zM673 218h1v1h-1zM677 203h1v1h-1zM679 189h1v1h-1zM679 191h1v1h-1zM683 164h1v1h-1zM684 156h1v1h-1zM685 150h1v1h-1zM685 151h1v1h-1zM686 160h1v1h-1zM687 126h1v1h-1zM687 130h1v1h-1zM690 104h1v1h-1zM692 94h1v1h-1zM692 101h1v1h-1zM695 62h1v1h-1zM702 38h1v1h-1zM704 29h1v1h-1zM705 30h1v1h-1zM709 23h1v1h-1z"/>
<path fill="#30f0d0" d="M568 72h1v1h-1zM572 116h1v1h-1zM574 123h1v1h-1zM575 131h1v1h-1zM575 134h1v1h-1zM577 163h1v1h-1zM578 163h1v1h-1zM582 198h1v1h-1zM594 243h1v1h-1zM602 271h1v1h-1zM612 294h1v1h-1zM643 303h1v1h-1zM649 294h1v1h-1zM650 292h1v1h-1zM664 253h1v1h-1zM664 257h1v1h-1zM679 190h1v1h-1zM680 191h1v1h-1zM692 98h1v1h-1zM695 63h1v1h-1zM695 73h1v1h-1zM695 74h1v1h-1zM697 53h1v1h-1zM705 28h1v1h-1z"/>
<path fill="#90ff70" d="M571 111h1v1h-1zM577 164h1v1h-1zM585 211h1v1h-1zM661 268h1v1h-1zM670 230h1v1h-1zM679 193h1v1h-1zM683 167h1v1h-1zM685 156h1v1h-1zM685 160h1v1h-1zM687 132h1v1h-1zM688 126h1v1h-1zM699 45h1v1h-1zM701 39h1v1h-1z"/>
</g>
<path d="M557.2 5.00 L557.7 5.02 L558.2 5.05 L558.7 5.07 L559.2 5.10 L559.7 5.13 L560.2 5.16 L560.7 5.20 L561.2 5.24 L561.7 5.28 L562.2 5.32 L562.7 5.38 L563.2 5.43 L563.7 5.49 L564.2 5.55 L564.7 5.62 L565.2 5.70 L565.7 5.78 L566.2 5.87 L566.7 5.97 L567.2 6.07 L567.7 6.18 L568.2 6.30 L568.7 6.43 L569.2 6.57 L569.7 6.73 L570.2 6.89 L570.7 7.06 L571.2 7.25 L571.7 7.46 L572.2 7.67 L572.7 7.91 L573.2 8.16 L573.7 8.43 L574.2 8.71 L574.7 9.02 L575.2 9.35 L575.7 9.70 L576.2 10.07 L576.7 10.47 L577.2 10.89 L577.7 11.34 L578.2 11.83 L578.7 12.34 L579.2 12.88 L579.7 13.46 L580.2 14.07 L580.7 14.71 L581.2 15.40 L581.7 16.13 L582.2 16.90 L582.7 17.71 L583.2 18.56 L583.7 19.47 L584.2 20.42 L584.7 21.43 L585.2 22.49 L585.7 23.60 L586.2 24.77 L586.7 26.00 L587.2 27.29 L587.7 28.64 L588.2 30.05 L588.7 31.54 L589.2 33.09 L589.7 34.71 L590.2 36.40 L590.7 38.17 L591.2 40.02 L591.7 41.94 L592.2 43.94 L592.7 46.02 L593.2 48.18 L593.7 50.43 L594.2 52.76 L594.7 55.18 L595.2 57.68 L595.7 60.28 L596.2 62.96 L596.7 65.73 L597.2 68.59 L597.7 71.54 L598.2 74.58 L598.7 77.72 L599.2 80.94 L599.7 84.25 L600.2 87.66 L600.7 91.15 L601.2 94.73 L601.7 98.40 L602.2 102.15 L602.7 105.99 L603.2 109.91 L603.7 113.91 L604.2 117.98 L604.7 122.14 L605.2 126.36 L605.7 130.66 L606.2 135.02 L606.7 139.44 L607.2 143.92 L607.7 148.46 L608.2 153.04 L608.7 157.67 L609.2 162.35 L609.7 167.06 L610.2 171.80 L610.7 176.56 L611.2 181.35 L611.7 186.15 L612.2 190.96 L612.7 195.77 L613.2 200.57 L613.7 205.37 L614.2 210.14 L614.7 214.90 L615.2 219.62 L615.7 224.30 L616.2 228.94 L616.7 233.52 L617.2 238.05 L617.7 242.51 L618.2 246.89 L618.7 251.19 L619.2 255.41 L619.7 259.53 L620.2 263.55 L620.7 267.45 L621.2 271.25 L621.7 274.91 L622.2 278.45 L622.7 281.86 L623.2 285.12 L623.7 288.23 L624.2 291.19 L624.7 293.99 L625.2 296.63 L625.7 299.09 L626.2 301.39 L626.7 303.50 L627.2 305.43 L627.7 307.17 L628.2 308.73 L628.7 310.09 L629.2 311.26 L629.7 312.23 L630.2 312.99 L630.7 313.56 L631.2 313.93 L631.7 314.09 L632.2 314.05 L632.7 313.81 L633.2 313.36 L633.7 312.71 L634.2 311.86 L634.7 310.81 L635.2 309.57 L635.7 308.13 L636.2 306.50 L636.7 304.68 L637.2 302.68 L637.7 300.49 L638.2 298.13 L638.7 295.59 L639.2 292.89 L639.7 290.03 L640.2 287.00 L640.7 283.83 L641.2 280.51 L641.7 277.05 L642.2 273.46 L642.7 269.74 L643.2 265.90 L643.7 261.95 L644.2 257.89 L644.7 253.73 L645.2 249.48 L645.7 245.15 L646.2 240.73 L646.7 236.24 L647.2 231.69 L647.7 227.09 L648.2 222.43 L648.7 217.73 L649.2 213.00 L649.7 208.24 L650.2 203.45 L650.7 198.65 L651.2 193.84 L651.7 189.03 L652.2 184.23 L652.7 179.43 L653.2 174.65 L653.7 169.90 L654.2 165.17 L654.7 160.47 L655.2 155.82 L655.7 151.20 L656.2 146.63 L656.7 142.12 L657.2 137.66 L657.7 133.26 L658.2 128.93 L658.7 124.66 L659.2 120.47 L659.7 116.34 L660.2 112.30 L660.7 108.33 L661.2 104.44 L661.7 100.64 L662.2 96.92 L662.7 93.29 L663.2 89.74 L663.7 86.29 L664.2 82.92 L664.7 79.64 L665.2 76.45 L665.7 73.36 L666.2 70.35 L666.7 67.43 L667.2 64.61 L667.7 61.87 L668.2 59.23 L668.7 56.67 L669.2 54.20 L669.7 51.82 L670.2 49.52 L670.7 47.31 L671.2 45.18 L671.7 43.13 L672.2 41.16 L672.7 39.27 L673.2 37.46 L673.7 35.72 L674.2 34.05 L674.7 32.46 L675.2 30.94 L675.7 29.48 L676.2 28.09 L676.7 26.76 L677.2 25.50 L677.7 24.29 L678.2 23.15 L678.7 22.06 L679.2 21.02 L679.7 20.04 L680.2 19.10 L680.7 18.22 L681.2 17.38 L681.7 16.58 L682.2 15.83 L682.7 15.12 L683.2 14.45 L683.7 13.82 L684.2 13.22 L684.7 12.66 L685.2 12.13 L685.7 11.63 L686.2 11.16 L686.7 10.72 L687.2 10.31 L687.7 9.92 L688.2 9.55 L688.7 9.21 L689.2 8.89 L689.7 8.60 L690.2 8.32 L690.7 8.06 L691.2 7.81 L691.7 7.58 L692.2 7.37 L692.7 7.18 L693.2 6.99 L693.7 6.82 L694.2 6.66 L694.7 6.52 L695.2 6.38 L695.7 6.25 L696.2 6.14 L696.7 6.03 L697.2 5.93 L697.7 5.83 L698.2 5.75 L698.7 5.67 L699.2 5.59 L699.7 5.53 L700.2 5.46 L700.7 5.41 L701.2 5.35 L701.7 5.31 L702.2 5.26 L702.7 5.22 L703.2 5.18 L703.7 5.15 L704.2 5.12 L704.7 5.09 L705.2 5.06 L705.7 5.04 L706.2 5.02 L706.7 5.00" fill="none" stroke="#d08c8c" stroke-width="2.2" stroke-linejoin="round"/>
<path d="M557.2 5.00 L557.7 5.02 L558.2 5.05 L558.7 5.07 L559.2 5.10 L559.7 5.13 L560.2 5.16 L560.7 5.20 L561.2 5.24 L561.7 5.28 L562.2 5.32 L562.7 5.38 L563.2 5.43 L563.7 5.49 L564.2 5.55 L564.7 5.62 L565.2 5.70 L565.7 5.78 L566.2 5.87 L566.7 5.97 L567.2 6.07 L567.7 6.18 L568.2 6.30 L568.7 6.43 L569.2 6.57 L569.7 6.73 L570.2 6.89 L570.7 7.06 L571.2 7.25 L571.7 7.46 L572.2 7.67 L572.7 7.91 L573.2 8.16 L573.7 8.43 L574.2 8.71 L574.7 9.02 L575.2 9.35 L575.7 9.70 L576.2 10.07 L576.7 10.47 L577.2 10.89 L577.7 11.34 L578.2 11.83 L578.7 12.34 L579.2 12.88 L579.7 13.46 L580.2 14.07 L580.7 14.71 L581.2 15.40 L581.7 16.13 L582.2 16.90 L582.7 17.71 L583.2 18.56 L583.7 19.47 L584.2 20.42 L584.7 21.43 L585.2 22.49 L585.7 23.60 L586.2 24.77 L586.7 26.00 L587.2 27.29 L587.7 28.64 L588.2 30.05 L588.7 31.54 L589.2 33.09 L589.7 34.71 L590.2 36.40 L590.7 38.17 L591.2 40.02 L591.7 41.94 L592.2 43.94 L592.7 46.02 L593.2 48.18 L593.7 50.43 L594.2 52.76 L594.7 55.18 L595.2 57.68 L595.7 60.28 L596.2 62.96 L596.7 65.73 L597.2 68.59 L597.7 71.54 L598.2 74.58 L598.7 77.72 L599.2 80.94 L599.7 84.25 L600.2 87.66 L600.7 91.15 L601.2 94.73 L601.7 98.40 L602.2 102.15 L602.7 105.99 L603.2 109.91 L603.7 113.91 L604.2 117.98 L604.7 122.14 L605.2 126.36 L605.7 130.66 L606.2 135.02 L606.7 139.44 L607.2 143.92 L607.7 148.46 L608.2 153.04 L608.7 157.67 L609.2 162.35 L609.7 167.06 L610.2 171.80 L610.7 176.56 L611.2 181.35 L611.7 186.15 L612.2 190.96 L612.7 195.77 L613.2 200.57 L613.7 205.37 L614.2 210.14 L614.7 214.90 L615.2 219.62 L615.7 224.30 L616.2 228.94 L616.7 233.52 L617.2 238.05 L617.7 242.51 L618.2 246.89 L618.7 251.19 L619.2 255.41 L619.7 259.53 L620.2 263.55 L620.7 267.45 L621.2 271.25 L621.7 274.91 L622.2 278.45 L622.7 281.86 L623.2 285.12 L623.7 288.23 L624.2 291.19 L624.7 293.99 L625.2 296.63 L625.7 299.09 L626.2 301.39 L626.7 303.50 L627.2 305.43 L627.7 307.17 L628.2 308.73 L628.7 310.09 L629.2 311.26 L629.7 312.23 L630.2 312.99 L630.7 313.56 L631.2 313.93 L631.7 314.09 L632.2 314.05 L632.7 313.81 L633.2 313.36 L633.7 312.71 L634.2 311.86 L634.7 310.81 L635.2 309.57 L635.7 308.13 L636.2 306.50 L636.7 304.68 L637.2 302.68 L637.7 300.49 L638.2 298.13 L638.7 295.59 L639.2 292.89 L639.7 290.03 L640.2 287.00 L640.7 283.83 L641.2 280.51 L641.7 277.05 L642.2 273.46 L642.7 269.74 L643.2 265.90 L643.7 261.95 L644.2 257.89 L644.7 253.73 L645.2 249.48 L645.7 245.15 L646.2 240.73 L646.7 236.24 L647.2 231.69 L647.7 227.09 L648.2 222.43 L648.7 217.73 L649.2 213.00 L649.7 208.24 L650.2 203.45 L650.7 198.65 L651.2 193.84 L651.7 189.03 L652.2 184.23 L652.7 179.43 L653.2 174.65 L653.7 169.90 L654.2 165.17 L654.7 160.47 L655.2 155.82 L655.7 151.20 L656.2 146.63 L656.7 142.12 L657.2 137.66 L657.7 133.26 L658.2 128.93 L658.7 124.66 L659.2 120.47 L659.7 116.34 L660.2 112.30 L660.7 108.33 L661.2 104.44 L661.7 100.64 L662.2 96.92 L662.7 93.29 L663.2 89.74 L663.7 86.29 L664.2 82.92 L664.7 79.64 L665.2 76.45 L665.7 73.36 L666.2 70.35 L666.7 67.43 L667.2 64.61 L667.7 61.87 L668.2 59.23 L668.7 56.67 L669.2 54.20 L669.7 51.82 L670.2 49.52 L670.7 47.31 L671.2 45.18 L671.7 43.13 L672.2 41.16 L672.7 39.27 L673.2 37.46 L673.7 35.72 L674.2 34.05 L674.7 32.46 L675.2 30.94 L675.7 29.48 L676.2 28.09 L676.7 26.76 L677.2 25.50 L677.7 24.29 L678.2 23.15 L678.7 22.06 L679.2 21.02 L679.7 20.04 L680.2 19.10 L680.7 18.22 L681.2 17.38 L681.7 16.58 L682.2 15.83 L682.7 15.12 L683.2 14.45 L683.7 13.82 L684.2 13.22 L684.7 12.66 L685.2 12.13 L685.7 11.63 L686.2 11.16 L686.7 10.72 L687.2 10.31 L687.7 9.92 L688.2 9.55 L688.7 9.21 L689.2 8.89 L689.7 8.60 L690.2 8.32 L690.7 8.06 L691.2 7.81 L691.7 7.58 L692.2 7.37 L692.7 7.18 L693.2 6.99 L693.7 6.82 L694.2 6.66 L694.7 6.52 L695.2 6.38 L695.7 6.25 L696.2 6.14 L696.7 6.03 L697.2 5.93 L697.7 5.83 L698.2 5.75 L698.7 5.67 L699.2 5.59 L699.7 5.53 L700.2 5.46 L700.7 5.41 L701.2 5.35 L701.7 5.31 L702.2 5.26 L702.7 5.22 L703.2 5.18 L703.7 5.15 L704.2 5.12 L704.7 5.09 L705.2 5.06 L705.7 5.04 L706.2 5.02 L706.7 5.00" fill="none" stroke="#fae0e0" stroke-width="1.3" stroke-dasharray="1.2 1.0" stroke-linejoin="round"/>
<rect x="542.2" y="4.5" width="179.3" height="343.0" fill="none" stroke="#000030" stroke-opacity="0.65" stroke-width="1"/>
</g>
<g font-family='"Liberation Sans", Arial, sans-serif'>
<text x="121" y="26" font-size="13.3" font-weight="bold" fill="#ffc800" textLength="14.3" lengthAdjust="spacingAndGlyphs">(a)</text>
<text x="117.4" y="77.2" font-size="12.5" font-weight="bold" fill="#ffc800" textLength="35.6" lengthAdjust="spacingAndGlyphs"><tspan dy="-2.6">~</tspan><tspan dy="2.6">24nm</tspan></text>
<g fill="none" stroke="#ffff00" stroke-width="2.4" stroke-linecap="round" stroke-linejoin="miter"><path d="M97.7 88.3H169.9"/><path d="M103.2 83.1L97.2 88.3L103.2 93.5"/><path d="M164.4 83.1L170.4 88.3L164.4 93.5"/></g>
<text x="148.3" y="127.3" font-size="12.5" font-weight="bold" fill="#ffc800" textLength="32" lengthAdjust="spacingAndGlyphs" transform="rotate(-79 148.3 127.3)" font-style="italic">Beam</text>
<path d="M93 176.6H188.5" stroke="#ffff00" stroke-width="2.2" stroke-dasharray="2 2" fill="none"/>
<text x="100.8" y="194.8" font-size="12.5" font-weight="normal" fill="#ffff00" textLength="73.2" lengthAdjust="spacingAndGlyphs" stroke="#ffff00" stroke-width="0.3">Depth<tspan dy="-2.6">~</tspan><tspan dy="2.6">152nm</tspan></text>
<text x="201.1" y="218" font-size="12.5" font-weight="bold" fill="#ffff00" textLength="12.5" lengthAdjust="spacingAndGlyphs">Cu</text>
<text x="54.9" y="344.4" font-size="12.5" font-weight="bold" fill="#ffff00" textLength="123.8" lengthAdjust="spacingAndGlyphs">Dose= 1.5x10<tspan font-size="8" dy="-4.5">18</tspan><tspan dy="4.5"> Ne</tspan><tspan font-size="8" dy="-4.5">+</tspan><tspan dy="4.5">/cm</tspan><tspan font-size="8" dy="-4.5">3</tspan></text>
<defs><linearGradient id="lg" x1="0" y1="0" x2="0" y2="1"><stop offset="0" stop-color="#ffffff"/><stop offset="0.45" stop-color="#f4f4f4"/><stop offset="1" stop-color="#c4c4c4"/></linearGradient></defs>
<rect x="58" y="226" width="146" height="84" fill="url(#lg)" stroke="#555566" stroke-width="1"/>
<rect x="61.4" y="234.4" width="13.4" height="15.2" fill="#0000ff"/>
<rect x="61.4" y="253.5" width="13.4" height="15.2" fill="#c00000"/>
<rect x="61.4" y="271.8" width="13.4" height="15.2" fill="#ffff00"/>
<rect x="61.4" y="291" width="13.4" height="15.2" fill="#00aaff"/>
<text x="76.6" y="245.6" font-size="10.5" font-weight="bold" fill="#000" textLength="39.7" lengthAdjust="spacingAndGlyphs" stroke="#000" stroke-width="0.2">Substrate</text>
<text x="77.9" y="264.4" font-size="10.5" font-weight="bold" fill="#000" textLength="41.1" lengthAdjust="spacingAndGlyphs" stroke="#000" stroke-width="0.2">Sputtered</text>
<text x="79.2" y="282.7" font-size="10.5" font-weight="bold" fill="#000" textLength="54.1" lengthAdjust="spacingAndGlyphs" stroke="#000" stroke-width="0.2">Re-deposited</text>
<text x="77.9" y="301.8" font-size="10.5" font-weight="bold" fill="#000" textLength="113.1" lengthAdjust="spacingAndGlyphs" stroke="#000" stroke-width="0.2">Sputtered but Re-deposited</text>
<text x="375" y="26" font-size="13.3" font-weight="bold" fill="#ffc800" textLength="14.8" lengthAdjust="spacingAndGlyphs">(b)</text>
<text x="366.3" y="115.6" font-size="12.5" font-weight="bold" fill="#ffc800" textLength="36.1" lengthAdjust="spacingAndGlyphs"><tspan dy="-2.6">~</tspan><tspan dy="2.6">27nm</tspan></text>
<g fill="none" stroke="#ffff00" stroke-width="2.4" stroke-linecap="round" stroke-linejoin="miter"><path d="M341.2 124.2H424.2"/><path d="M346.7 119.0L340.7 124.2L346.7 129.4"/><path d="M418.7 119.0L424.7 124.2L418.7 129.4"/></g>
<text x="396.6" y="171.5" font-size="12.5" font-weight="bold" fill="#ffc800" textLength="32" lengthAdjust="spacingAndGlyphs" transform="rotate(-81 396.6 171.5)" font-style="italic">Beam</text>
<path d="M340 241H435" stroke="#ffff00" stroke-width="2.2" stroke-dasharray="2 2" fill="none"/>
<text x="357.2" y="255.5" font-size="12.5" font-weight="normal" fill="#ffff00" textLength="73.2" lengthAdjust="spacingAndGlyphs" stroke="#ffff00" stroke-width="0.3">Depth<tspan dy="-2.6">~</tspan><tspan dy="2.6">205nm</tspan></text>
<text x="450.7" y="218.4" font-size="12.5" font-weight="bold" fill="#ffff00" textLength="13" lengthAdjust="spacingAndGlyphs">Cu</text>
<text x="304.4" y="344.4" font-size="12.5" font-weight="bold" fill="#ffff00" textLength="113.4" lengthAdjust="spacingAndGlyphs">Dose= 3x10<tspan font-size="8" dy="-4.5">18</tspan><tspan dy="4.5"> Ne</tspan><tspan font-size="8" dy="-4.5">+</tspan><tspan dy="4.5">/cm</tspan><tspan font-size="8" dy="-4.5">3</tspan></text>
<text x="620.1" y="26" font-size="13.3" font-weight="bold" fill="#ffc800" textLength="12.8" lengthAdjust="spacingAndGlyphs">(c)</text>
<text x="611" y="152.7" font-size="12.5" font-weight="bold" fill="#ffc800" textLength="34.5" lengthAdjust="spacingAndGlyphs"><tspan dy="-2.6">~</tspan><tspan dy="2.6">35nm</tspan></text>
<g fill="none" stroke="#ffff00" stroke-width="2.4" stroke-linecap="round" stroke-linejoin="miter"><path d="M578.2 160.6H684.0"/><path d="M583.7 155.4L577.7 160.6L583.7 165.79999999999998"/><path d="M678.5 155.4L684.5 160.6L678.5 165.79999999999998"/></g>
<text x="644.7" y="232" font-size="12.5" font-weight="bold" fill="#ffc800" textLength="32" lengthAdjust="spacingAndGlyphs" transform="rotate(-90 644.7 232)">Beam</text>
<path d="M592.8 314.4H688" stroke="#ffff00" stroke-width="2.2" stroke-dasharray="2 2" fill="none"/>
<text x="607.6" y="326.3" font-size="12.5" font-weight="normal" fill="#ffff00" textLength="72.6" lengthAdjust="spacingAndGlyphs" stroke="#ffff00" stroke-width="0.3">Depth<tspan dy="-2.6">~</tspan><tspan dy="2.6">272nm</tspan></text>
<text x="695.6" y="222.3" font-size="12.5" font-weight="bold" fill="#ffff00" textLength="12.6" lengthAdjust="spacingAndGlyphs">Cu</text>
<text x="553.1" y="344.2" font-size="12.5" font-weight="bold" fill="#ffff00" textLength="112.7" lengthAdjust="spacingAndGlyphs">Dose= 6x10<tspan font-size="8" dy="-4.5">18</tspan><tspan dy="4.5"> Ne</tspan><tspan font-size="8" dy="-4.5">+</tspan><tspan dy="4.5">/cm</tspan><tspan font-size="8" dy="-4.5">3</tspan></text>
<text x="40" y="9.1" font-size="10.5" font-weight="normal" fill="#111" text-anchor="end">0</text>
<text x="40" y="66.3" font-size="10.5" font-weight="normal" fill="#111" text-anchor="end">-50</text>
<text x="40" y="123.6" font-size="10.5" font-weight="normal" fill="#111" text-anchor="end">-100</text>
<text x="40" y="180.8" font-size="10.5" font-weight="normal" fill="#111" text-anchor="end">-150</text>
<text x="40" y="238.1" font-size="10.5" font-weight="normal" fill="#111" text-anchor="end">-200</text>
<text x="40" y="295.4" font-size="10.5" font-weight="normal" fill="#111" text-anchor="end">-250</text>
<text x="40" y="352.6" font-size="10.5" font-weight="normal" fill="#111" text-anchor="end">-300</text>
<text x="43.8" y="364" font-size="10.5" font-weight="normal" fill="#111" text-anchor="middle">-30</text>
<text x="74.0" y="364" font-size="10.5" font-weight="normal" fill="#111" text-anchor="middle">-20</text>
<text x="104.1" y="364" font-size="10.5" font-weight="normal" fill="#111" text-anchor="middle">-10</text>
<text x="135.1" y="364" font-size="10.5" font-weight="normal" fill="#111" text-anchor="middle">0</text>
<text x="165.3" y="364" font-size="10.5" font-weight="normal" fill="#111" text-anchor="middle">10</text>
<text x="195.4" y="364" font-size="10.5" font-weight="normal" fill="#111" text-anchor="middle">20</text>
<text x="225.6" y="364" font-size="10.5" font-weight="normal" fill="#111" text-anchor="middle">30</text>
<text x="119.9" y="382" font-size="10.5" font-weight="bold" fill="#111" textLength="30.2" lengthAdjust="spacingAndGlyphs">Y [nm]</text>
<text x="10" y="206.3" font-size="11" font-weight="bold" fill="#111" textLength="57.8" lengthAdjust="spacingAndGlyphs" transform="rotate(-90 10 206.3)">Depth [nm]</text>
<text x="286.5" y="9.1" font-size="10.5" font-weight="normal" fill="#111" text-anchor="end">0</text>
<text x="286.5" y="66.3" font-size="10.5" font-weight="normal" fill="#111" text-anchor="end">-50</text>
<text x="286.5" y="123.6" font-size="10.5" font-weight="normal" fill="#111" text-anchor="end">-100</text>
<text x="286.5" y="180.8" font-size="10.5" font-weight="normal" fill="#111" text-anchor="end">-150</text>
<text x="286.5" y="238.1" font-size="10.5" font-weight="normal" fill="#111" text-anchor="end">-200</text>
<text x="286.5" y="295.4" font-size="10.5" font-weight="normal" fill="#111" text-anchor="end">-250</text>
<text x="286.5" y="352.6" font-size="10.5" font-weight="normal" fill="#111" text-anchor="end">-300</text>
<text x="292.8" y="366" font-size="10.5" font-weight="normal" fill="#111" text-anchor="middle">-30</text>
<text x="322.9" y="366" font-size="10.5" font-weight="normal" fill="#111" text-anchor="middle">-20</text>
<text x="352.9" y="366" font-size="10.5" font-weight="normal" fill="#111" text-anchor="middle">-10</text>
<text x="383.8" y="366" font-size="10.5" font-weight="normal" fill="#111" text-anchor="middle">0</text>
<text x="413.9" y="366" font-size="10.5" font-weight="normal" fill="#111" text-anchor="middle">10</text>
<text x="443.9" y="366" font-size="10.5" font-weight="normal" fill="#111" text-anchor="middle">20</text>
<text x="474.0" y="366" font-size="10.5" font-weight="normal" fill="#111" text-anchor="middle">30</text>
<text x="368.6" y="385.3" font-size="10.5" font-weight="bold" fill="#111" textLength="30.2" lengthAdjust="spacingAndGlyphs">Y [nm]</text>
<text x="255.8" y="206.3" font-size="11" font-weight="bold" fill="#111" textLength="57.8" lengthAdjust="spacingAndGlyphs" transform="rotate(-90 255.8 206.3)">Depth [nm]</text>
<text x="532.7" y="9.1" font-size="10.5" font-weight="normal" fill="#111" text-anchor="end">0</text>
<text x="532.7" y="66.3" font-size="10.5" font-weight="normal" fill="#111" text-anchor="end">-50</text>
<text x="532.7" y="123.6" font-size="10.5" font-weight="normal" fill="#111" text-anchor="end">-100</text>
<text x="532.7" y="180.8" font-size="10.5" font-weight="normal" fill="#111" text-anchor="end">-150</text>
<text x="532.7" y="238.1" font-size="10.5" font-weight="normal" fill="#111" text-anchor="end">-200</text>
<text x="532.7" y="295.4" font-size="10.5" font-weight="normal" fill="#111" text-anchor="end">-250</text>
<text x="532.7" y="352.6" font-size="10.5" font-weight="normal" fill="#111" text-anchor="end">-300</text>
<text x="540.5" y="366" font-size="10.5" font-weight="normal" fill="#111" text-anchor="middle">-30</text>
<text x="570.5" y="366" font-size="10.5" font-weight="normal" fill="#111" text-anchor="middle">-20</text>
<text x="600.6" y="366" font-size="10.5" font-weight="normal" fill="#111" text-anchor="middle">-10</text>
<text x="631.5" y="366" font-size="10.5" font-weight="normal" fill="#111" text-anchor="middle">0</text>
<text x="661.5" y="366" font-size="10.5" font-weight="normal" fill="#111" text-anchor="middle">10</text>
<text x="691.6" y="366" font-size="10.5" font-weight="normal" fill="#111" text-anchor="middle">20</text>
<text x="721.6" y="366" font-size="10.5" font-weight="normal" fill="#111" text-anchor="middle">30</text>
<text x="616.2" y="385.3" font-size="10.5" font-weight="bold" fill="#111" textLength="30.2" lengthAdjust="spacingAndGlyphs">Y [nm]</text>
<text x="503.4" y="206.3" font-size="11" font-weight="bold" fill="#111" textLength="57.8" lengthAdjust="spacingAndGlyphs" transform="rotate(-90 503.4 206.3)">Depth [nm]</text>
</g>
</svg>
</body></html>
